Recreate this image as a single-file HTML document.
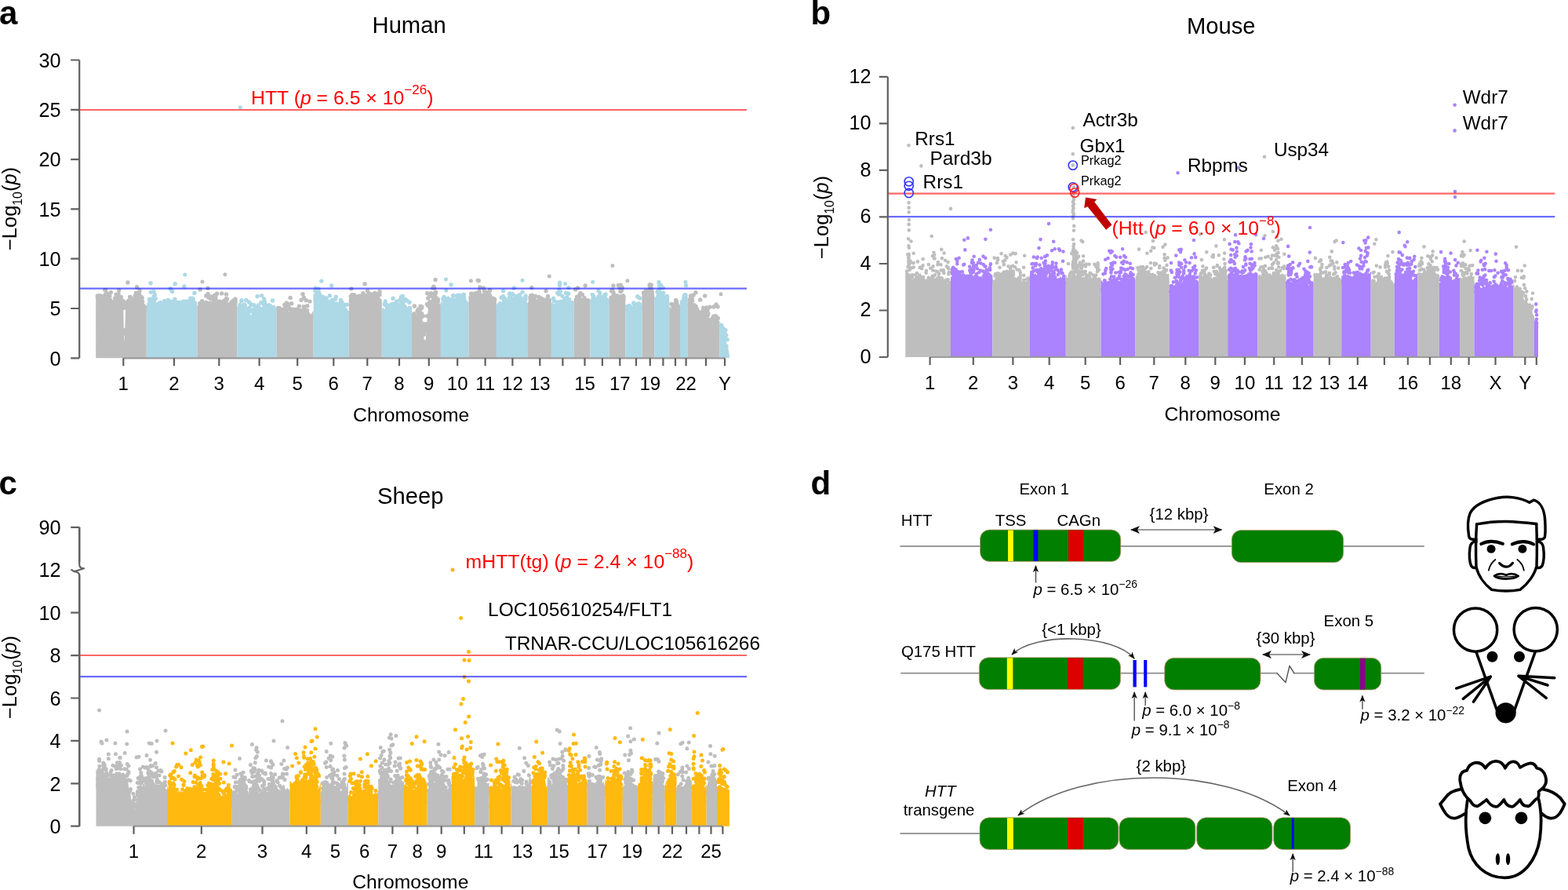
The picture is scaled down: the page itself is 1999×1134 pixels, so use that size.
<!DOCTYPE html><html><head><meta charset="utf-8"><style>html,body{margin:0;padding:0;background:#fff;}svg{display:block;}#w{width:1999px;height:1134px;overflow:hidden;}</style></head><body><div id="w"><svg width="1999" height="1134" viewBox="0 0 1999 1134" font-family="'Liberation Sans', Arial, Helvetica, sans-serif">
<rect width="1999" height="1134" fill="#fff"/>
<text x="-1" y="30.5" font-size="42" font-weight="bold">a</text>
<text x="1033.5" y="31" font-size="42" font-weight="bold">b</text>
<text x="-1.5" y="629.5" font-size="42" font-weight="bold">c</text>
<text x="1033.5" y="629.5" font-size="42" font-weight="bold">d</text>
<text x="521.6" y="42" font-size="29.2" text-anchor="middle">Human</text>
<text x="1556.7" y="42.5" font-size="29.2" text-anchor="middle">Mouse</text>
<text x="523.3" y="641.5" font-size="29.2" text-anchor="middle">Sheep</text>
<path fill="#bebebe" d="M122.2 456.3L122.2 378.3L123.2 378.8L124.2 381.3L125.2 377.7L126.2 377.7L127.2 378.9L128.2 379.1L129.2 380.8L130.2 381L131.2 378.5L132.2 379.8L133.2 378.9L134.2 378.7L135.2 379.9L136.2 379.1L137.2 380.2L138.2 379.6L139.2 381.7L140.2 381.6L141.2 382.3L142.2 381.8L143.2 382.6L144.2 383.4L145.2 380.7L146.2 380.9L147.2 381.6L148.2 382.1L149.2 383.6L150.2 384L151.2 383.8L152.2 384.7L153.2 382.5L154.2 384.6L155.2 383.8L156.2 386.4L157.2 393.3L158.2 436L159.2 422.3L160.2 387.8L161.2 384.7L162.2 386L163.2 383.7L164.2 385.9L165.2 387.2L166.2 385.1L167.2 384.5L168.2 386.4L169.2 387L170.2 386.2L171.2 383.9L172.2 384.6L173.2 386.9L174.2 386.2L175.2 386.7L176.2 386.9L177.2 384.7L178.2 388.2L179.2 388.2L180.2 390L181.2 392.1L182.2 390.6L183.2 392.9L184.2 390.9L185.2 392.6L186.2 391.3L186.8 391.9L186.8 391.9L186.8 456.3Z"/>
<path stroke="#bebebe" stroke-width="5.4" stroke-linecap="round" fill="none" d="M172.8 388.7h0M177.7 387.2h0M148.1 375.3h0M163 386.9h0M184 393.3h0M139.9 377.3h0M144.2 385.2h0M128.8 384.1h0M159.5 424.6h0M160.6 389.1h0M151.7 370h0M153.5 381.6h0M176.6 389.6h0M133.7 369.6h0M173.6 389.1h0M135.8 375.5h0M181 394.7h0M181.6 384.2h0M160.7 385.5h0M130.7 384.6h0M182.4 392.9h0M166.8 386.7h0M174 385h0M142.1 384.5h0M167.8 389.8h0M138.1 378.9h0M175.7 385.5h0M141.3 372.4h0M136.7 382.8h0M140.6 382.2h0M128 381.8h0M146.6 380h0M132.3 381.1h0M178 370.3h0M163.9 383.3h0M159.6 425.3h0M126.5 381.4h0M179.2 385.3h0M182.4 394.3h0M162.7 386.2h0M168.4 388h0M184.6 394.2h0M157.3 389.8h0M178.6 384.6h0M166.8 379.6h0M179.5 389.6h0M165.6 378.3h0M176.8 385.5h0M172 377.4h0M158.9 420.7h0M147.4 380.6h0M161.1 388.1h0M162.9 360h0M177.4 381.3h0M147.8 378.6h0M159.4 422.9h0M174.9 390h0M169.6 390.7h0M160.6 388h0M138.3 376.8h0M154.3 383.1h0M179.8 392.2h0M125.1 379.5h0M165.2 389.8h0M134.6 369.5h0M164.1 386.5h0M178.1 389.8h0M164.5 388.5h0M150.3 378.7h0M179.4 380.3h0M147.5 380.6h0M143.5 385.6h0M154.3 378.4h0M175.5 383.7h0M181.6 394.1h0M134.6 379.2h0M141 384.7h0M149.3 382h0M174.6 365.7h0M173.1 381.4h0M177.6 374.3h0M173.9 379.8h0M173.3 373.4h0M172.2 378.7h0M136.1 374h0M135.1 378.8h0M136.5 376.4h0M136.6 377.5h0M134.3 375.2h0M181.6 389h0M179.7 389.7h0M181.5 390h0M184.5 391h0M171 383h0M164.9 384.8h0M171 383.3h0M170.6 384.2h0M169.8 383.2h0M169.5 384.7h0M172.3 383.2h0M125.3 376.6h0M127.6 376.8h0M124.4 377.9h0M124.6 377.3h0M124.4 377h0M124.4 378.4h0M124.4 376.9h0M130.2 377.7h0M178.8 380.2h0M178.2 384.8h0M180.4 385.6h0M179.2 386.9h0M179.9 381.5h0M156.5 383.2h0M155.9 385.6h0M160.3 385.3h0M156.5 384.6h0M151 374.8h0M151.7 382.8h0M150.7 379.6h0M150.2 378.5h0M153.8 379.7h0M152.2 381.8h0M149 381.1h0M174.9 376.6h0M174.6 381.8h0M175.9 384.9h0M173.1 386.7h0M179.2 387.2h0M179.2 389.2h0M180.1 387.4h0M179.8 388.4h0M182 388.5h0M177.7 388.9h0M177.6 387.4h0M180.3 378.5h0M180.4 387.2h0M181.2 379.5h0M182.6 389.6h0M180.4 388.8h0M179.9 388.4h0M179.7 386.8h0M136.6 378.3h0M135.1 380.3h0M134.4 379.1h0M134.1 379.2h0M138.1 379.9h0M134.9 379.9h0M157 391.8h0M157.4 392.3h0M160 392.1h0M156.4 392h0"/>
<path fill="#add8e6" d="M186.8 456.3L186.8 388.1L187.8 390.2L188.8 388.4L189.8 385.2L190.8 382.9L191.8 381.5L192.8 384.3L193.8 382.9L194.8 382.1L195.8 383.3L196.8 382.8L197.8 384.8L198.8 385.4L199.8 385.6L200.8 387L201.8 386.4L202.8 387.9L203.8 388.8L204.8 390.8L205.8 390.6L206.8 390.4L207.8 387.8L208.8 387L209.8 387.1L210.8 390.2L211.8 390L212.8 386L213.8 386.9L214.8 384.9L215.8 385.9L216.8 385.1L217.8 385.2L218.8 386.1L219.8 386.3L220.8 389.4L221.8 387.5L222.8 387.2L223.8 389.8L224.8 389L225.8 388.2L226.8 389.8L227.8 390.8L228.8 391L229.8 389.3L230.8 390.1L231.8 385.4L232.8 384.4L233.8 383.8L234.8 382.8L235.8 383.9L236.8 385.3L237.8 385.3L238.8 386.4L239.8 385.2L240.8 386.1L241.8 388L242.8 385L243.8 384.9L244.8 384.1L245.8 383.5L246.8 384.8L247.8 383.3L248.8 384.3L249.8 386.2L250.8 387.2L251.4 388.1L251.4 388.1L251.4 456.3Z"/>
<path stroke="#add8e6" stroke-width="5.4" stroke-linecap="round" fill="none" d="M193.2 385.8h0M217.2 388.8h0M210.4 388.4h0M226.6 392.1h0M245.9 381.2h0M209.3 385h0M223.3 386.8h0M227.7 388h0M234.9 365h0M190.4 381.4h0M233.5 386h0M213.2 389.5h0M200.8 388.2h0M194.9 384.3h0M243.5 384.3h0M219.6 371.4h0M223.2 361.7h0M227.4 385.5h0M193.6 381.7h0M234.7 386.3h0M245 387h0M217.4 387.9h0M218.8 384.7h0M192.5 372.2h0M214.3 384.6h0M225 390.3h0M206.2 388.5h0M222.8 389.2h0M232.1 387.3h0M189.8 387.4h0M191.6 384.4h0M234.4 383.9h0M243 381.2h0M192 360.7h0M245.9 386.9h0M243.5 385.7h0M217.8 369.1h0M203.7 388.5h0M245.4 380.2h0M217.2 367.7h0M238.2 384h0M195.9 381.7h0M216.4 387.6h0M192.1 381.2h0M196.5 383.4h0M229.2 391.5h0M204.8 389.8h0M214.3 382.5h0M246.3 381.3h0M203.4 391.9h0M242.7 380.3h0M226.6 391.1h0M205.3 388h0M223 386.1h0M227.1 385.9h0M200.4 389.2h0M248 373.5h0M241.9 391.6h0M192.7 386.4h0M214.6 383.3h0M195.2 381.6h0M193.4 386.2h0M229.7 388.7h0M227 391h0M217.8 387.7h0M209.7 383.4h0M239.5 388.6h0M196.2 378h0M226.5 385.5h0M201.8 387.2h0M204.5 385.5h0M211.2 388.2h0M248.5 386h0M222 383.7h0M244.4 384.9h0M211.2 393.4h0M194.4 380.9h0M195.8 381.4h0M191.2 383.4h0M195.2 382.6h0M196.5 381.7h0M193.1 382.2h0M215.6 384.2h0M217.3 384.8h0M214.6 386.3h0M214.9 384.4h0M217.3 384.5h0M215.6 386.1h0M217.3 386.1h0M214.2 386.6h0M222.9 381.3h0M224 387.4h0M221.9 387.8h0M222.3 385.2h0M224.9 386.9h0M220.3 388h0M223.7 388.3h0M231.7 385.2h0M232.9 386.2h0M230 385.5h0M232.1 386.2h0M233 385.5h0M233.2 386.6h0M231.3 385.6h0M196 371.5h0M195.6 381.4h0M197.3 375.7h0M198.2 380.4h0"/>
<path fill="#bebebe" d="M251.4 456.3L251.4 390.6L252.4 388.8L253.4 387.4L254.4 389L255.4 389.1L256.4 388.3L257.4 387.4L258.4 387.5L259.4 388.3L260.4 388.7L261.4 389.4L262.4 388L263.4 390L264.4 387.7L265.4 386.8L266.4 386.8L267.4 384.5L268.4 385.2L269.4 383.7L270.4 385.3L271.4 386.2L272.4 384.8L273.4 386.7L274.4 386.9L275.4 389.7L276.4 386.6L277.4 388L278.4 388.2L279.4 388.1L280.4 385.2L281.4 384.4L282.4 385.3L283.4 386L284.4 386.7L285.4 390.3L286.4 387.6L287.4 387.9L288.4 388.1L289.4 388.2L290.4 390.2L291.4 391.2L292.4 390.8L293.4 389.1L294.4 390.4L295.4 388L296.4 389L297.4 384.7L298.4 384L299.4 386.1L300.4 383.8L301.4 384.3L302.3 384.7L302.3 384.7L302.3 456.3Z"/>
<path stroke="#bebebe" stroke-width="5.4" stroke-linecap="round" fill="none" d="M261.9 391.9h0M296.2 391.9h0M259.6 389.7h0M282.2 385h0M295 385.3h0M257.5 383.6h0M278.9 388.2h0M254.5 391.6h0M262.6 385.5h0M289.9 390.8h0M255.3 390h0M276.6 374.3h0M298.4 385.7h0M272.5 384.2h0M300 381.6h0M256.7 391.7h0M260.1 386.4h0M285 386.5h0M290.1 393.3h0M274.3 379.7h0M286.7 387.8h0M267.2 387.7h0M289.5 381.3h0M292.9 387.6h0M295.5 390.9h0M282.8 373.9h0M288.5 374.9h0M288.7 387.4h0M257.6 390h0M271.1 389.3h0M268 387.2h0M275.4 387.9h0M274.4 388h0M258.3 385.9h0M259.7 386.6h0M261.9 390.6h0M255.3 389.5h0M286.3 390.8h0M255.1 368.9h0M273.8 382.4h0M269.5 377.9h0M296.7 392h0M263.2 392.9h0M285.7 390.4h0M296.4 387.4h0M287.4 386.5h0M268.4 380.4h0M265 367.3h0M278.2 390.4h0M262.4 389.8h0M274.1 386.2h0M263.1 391.6h0M267.2 387.7h0M286.8 389.8h0M278.7 390.1h0M264.5 386.3h0M277.5 387.1h0M262.8 376.9h0M300 380.9h0M297.1 383.9h0M254.8 386.8h0M289.7 391.2h0M280 384.2h0M278.7 384.4h0M279.5 384.2h0M291.3 389.5h0M291.4 390.4h0M291.2 391.4h0M261.6 387.7h0M259.9 388.3h0M262.2 387.9h0M288.5 380.5h0M286.6 382.6h0M286.8 388h0M288.1 384.7h0M288.7 388.3h0M287.2 388.2h0M265.2 374.4h0M266.1 379.3h0M267.8 386.1h0M297.7 383h0M298.4 384.9h0M300.1 384.3h0M295.3 384.7h0M297 384.6h0M300.1 383.2h0M285.5 383.5h0M281.9 387.3h0M283.9 387.3h0M273.8 376.3h0M275 380.8h0M272.9 382.9h0M272.6 378.8h0M274.9 377.7h0"/>
<path fill="#add8e6" d="M302.3 456.3L302.3 393.1L303.3 392.5L304.3 394.3L305.3 393.4L306.3 393.2L307.3 394.5L308.3 392.6L309.3 393.8L310.3 395.6L311.3 396.7L312.3 395.9L313.3 398.1L314.3 395.5L315.3 396.9L316.3 397.9L317.3 399.2L318.3 398.2L319.3 401.4L320.3 401L321.3 399.6L322.3 398.4L323.3 396.6L324.3 396.6L325.3 393.4L326.3 394.7L327.3 394.6L328.3 394.6L329.3 395.8L330.3 396.4L331.3 397.6L332.3 395.4L333.3 395.3L334.3 394.8L335.3 397.2L336.3 394.5L337.3 394.9L338.3 397.3L339.3 396.1L340.3 393.7L341.3 393L342.3 395.9L343.3 393.1L344.3 392.7L345.3 393.3L346.3 393.4L347.3 394.7L348.3 392.1L349.3 392.1L350.3 393.3L351.3 394.6L352.3 392.5L352.5 392.5L352.5 456.3Z"/>
<path stroke="#add8e6" stroke-width="5.4" stroke-linecap="round" fill="none" d="M323.8 388.8h0M319.8 387.5h0M340.2 394.5h0M312.3 388.9h0M310 393h0M316.8 396h0M327.5 396.5h0M317 394h0M328.5 397.7h0M328.1 377.6h0M345.5 396h0M314.8 399.9h0M335.1 397.5h0M308 382.7h0M307.9 383.4h0M304.8 392.4h0M329.1 396.5h0M330.5 399.2h0M349.8 394.7h0M312.7 392.4h0M305.8 388.4h0M311.4 388h0M333 385.5h0M331.3 401.4h0M345.3 396.7h0M307.4 390.1h0M346.2 395.1h0M326.6 398.3h0M317.8 392.3h0M333.6 376.6h0M338.6 396.9h0M331.7 393.3h0M309.6 394.4h0M335.1 396.6h0M316.2 394.8h0M337.5 397.1h0M329.4 389h0M332.1 397.5h0M313.8 382.5h0M306.9 395.1h0M344.8 394.9h0M332.4 394h0M341.4 393h0M337.6 388.1h0M305.9 396.3h0M312.7 394.1h0M331 394.4h0M333 398.8h0M324 393.9h0M342 392.3h0M340.3 389.5h0M327.3 392.7h0M327.9 395.8h0M315.9 397.9h0M334.7 393.6h0M325.3 395.1h0M325.9 391.9h0M336.7 380.9h0M310.4 391.7h0M332 398.4h0M338.6 397h0M323.4 395.9h0M322.2 397.1h0M324.3 397.7h0M339.2 391.9h0M338.9 392.7h0M340.1 395.1h0M340.3 395.7h0M347.4 383h0M348.1 395.4h0M345.3 395.2h0M348.9 391.5h0M336.1 386.2h0M337.1 387.5h0M335.6 386.8h0M336.5 395.3h0M337.8 391.7h0M336.2 388h0M339.3 391.1h0M322.9 395h0M320.9 396.1h0M323.3 397.4h0M320.7 396.7h0M323.1 397.8h0M317.4 385h0M318.5 396.4h0M317.5 394.4h0M319.9 396.3h0M316.1 394.9h0M319.8 394.9h0M320.9 388.6h0M337.4 384.4h0M340.8 390.9h0M337.4 386.1h0M344.4 389.8h0M343.3 393.8h0M345.2 393.3h0M344 392.7h0M344.1 392.2h0M337.5 392.1h0M340 394h0M335.2 394.4h0M338.9 394.7h0M343 388.6h0M344.6 391.1h0M344.8 392.6h0M338.4 390.5h0M344.1 390.4h0M342.4 390.5h0"/>
<path fill="#bebebe" d="M352.5 456.3L352.5 393.4L353.5 394.2L354.5 394.8L355.5 394L356.5 393.9L357.5 395.2L358.5 393.4L359.5 395.3L360.5 396.8L361.5 397L362.5 397.9L363.5 399.8L364.5 398.5L365.5 397.8L366.5 397.8L367.5 396.5L368.5 398.4L369.5 396.4L370.5 396.3L371.5 397.8L372.5 397.2L373.5 399.5L374.5 398.9L375.5 399.3L376.5 400L377.5 400.4L378.5 400.2L379.5 400.4L380.5 398.6L381.5 396L382.5 397.1L383.5 398.3L384.5 396.8L385.5 398.7L386.5 397.7L387.5 397.2L388.5 395.9L389.5 398.3L390.5 398L391.5 397.2L392.5 398.5L393.5 399.5L394.5 399.7L395.5 400.3L396.5 399.8L397.5 399.8L398.5 397.1L399.5 396.4L399.7 396.4L399.7 456.3Z"/>
<path stroke="#bebebe" stroke-width="5.4" stroke-linecap="round" fill="none" d="M356.3 396.9h0M376.4 401.8h0M370.1 379.4h0M361.1 399.6h0M364.5 396h0M364.7 402.3h0M378 401.4h0M364.9 398.6h0M382.5 396.5h0M381.4 395.3h0M390.3 382.7h0M369 399.8h0M392.6 400.2h0M385.3 395.9h0M384.1 382.3h0M390 401.2h0M381.3 396.1h0M378.8 401.4h0M366.9 394h0M377.6 402.7h0M365.4 399.5h0M362.3 397.7h0M360.1 400.2h0M357.6 398.4h0M384.9 399.9h0M374 394.5h0M375.3 402.1h0M391.8 389.8h0M357 396.1h0M376.4 395.1h0M371.5 394.6h0M365.5 394.7h0M368.7 400h0M387.2 390.8h0M390.2 397.2h0M372.7 394.3h0M381.4 390.1h0M389 399h0M370.8 394h0M364.6 401.2h0M355.3 393h0M395 384.1h0M360.4 394.2h0M372.6 395.5h0M371.7 386.7h0M397 403.3h0M385.2 401.8h0M356.5 395.9h0M386 374.7h0M359.8 396.9h0M355.8 393.5h0M375.4 400.5h0M367.9 391.5h0M390.6 399.9h0M371.5 396.3h0M387.5 379.2h0M371.4 395h0M378 394.2h0M374.8 397.4h0M379.2 395h0M379.4 400.4h0M378.3 399h0M376.9 401.3h0M379.5 401.3h0M377.3 401h0M363.7 391.4h0M365.3 395.6h0M364 395.7h0M364.2 393h0M366.1 398.6h0M364.2 398.6h0M388.9 394.6h0M390.2 397h0M391.6 395.8h0M385.5 395.4h0M388.8 395.7h0M389.2 397h0M385.2 397h0M389.7 396.2h0M365.4 386h0M362.8 388.3h0M367.4 389h0M366.3 386.6h0M365.4 393.8h0M365.1 387.2h0M356.2 392.5h0M354.9 394.3h0M355.8 394.5h0M354.7 392.5h0M382.5 395.4h0M381 397.7h0M385.1 396.2h0M379.9 397.8h0M381.7 398.1h0"/>
<path fill="#add8e6" d="M399.7 456.3L399.7 378.6L400.7 381.7L401.7 379.4L402.7 382.6L403.7 381.8L404.7 385.6L405.7 385.5L406.7 384.5L407.7 386.2L408.7 385.3L409.7 383.3L410.7 382L411.7 384.5L412.7 385.4L413.7 385.3L414.7 383.5L415.7 387.3L416.7 385.9L417.7 387.4L418.7 386.8L419.7 388.9L420.7 387.9L421.7 387.5L422.7 388.1L423.7 389.4L424.7 390.1L425.7 390L426.7 391.7L427.7 389L428.7 389.6L429.7 390.8L430.7 390.1L431.7 390.9L432.7 390.7L433.7 390.9L434.7 389.3L435.7 389.5L436.7 390.6L437.7 393.9L438.7 393.4L439.7 395.8L440.7 396.7L441.7 397.5L442.7 396.2L443.7 398.6L444.7 396.6L444.8 396.6L444.8 456.3Z"/>
<path stroke="#add8e6" stroke-width="5.4" stroke-linecap="round" fill="none" d="M414.6 379.9h0M442.2 398.5h0M437.2 396.9h0M442.2 397.6h0M411.4 378.2h0M428.3 378.2h0M435.7 384.6h0M422.7 364h0M404.5 378.2h0M430.9 392.4h0M434.8 389.7h0M423.7 382.2h0M409.9 385.3h0M428.1 392.3h0M424.5 385.4h0M421.9 389.7h0M434.5 382.5h0M433.3 390.3h0M438.8 388.4h0M408.1 387.5h0M406 389.1h0M416 380h0M435.8 392.7h0M409.3 384.4h0M436.5 389.1h0M438.6 396.7h0M442.1 400h0M427.5 381.3h0M431.5 393.5h0M429.1 390.3h0M402.5 384.2h0M414.7 381.8h0M413.2 384h0M430.2 393.5h0M407.1 381.8h0M420.9 391h0M406.6 372.7h0M426.7 393.1h0M409.9 358.1h0M430.1 387.3h0M416.6 387.7h0M418.5 389.7h0M427.6 389.7h0M435.3 390.4h0M420.5 387.9h0M440.2 398.2h0M430.5 392.5h0M425.5 391.9h0M437.4 395.8h0M436.7 388.2h0M420.4 376.8h0M417.7 383.7h0M426.4 392.2h0M404.5 386.4h0M413.3 385.9h0M430 387.8h0M431.7 389.6h0M430.2 388.4h0M428.9 391.6h0M437.3 388.8h0M438.3 391.7h0M440.4 394.6h0M431.1 387.2h0M433.3 387.3h0M432.6 388.6h0M427.8 390.8h0M432.1 389.3h0M421.4 384.9h0M421.9 385h0M427 387.2h0M435.3 387h0M434.5 390.4h0M442.2 388.3h0M437.9 387.8h0M437.3 388.6h0M434.4 388.9h0M436.3 390.4h0M433.4 387.8h0M402.5 367.2h0M401.9 379.7h0M401.9 370.4h0M402.2 381.9h0M401.9 376.1h0M406.1 368.1h0M402.9 369h0M404.2 375h0M405.9 385h0M406.2 386.1h0M406 385.9h0M408.3 385h0M405 386.6h0M407.9 376.2h0M407.3 385.7h0M410 382.9h0M407.5 380.5h0M410.9 382.8h0M404.4 387.3h0M409.8 379.2h0"/>
<path fill="#bebebe" d="M444.8 456.3L444.8 380.4L445.8 380L446.8 381.3L447.8 379.2L448.8 382.3L449.8 382.4L450.8 382.1L451.8 381.1L452.8 380.8L453.8 382.1L454.8 382.2L455.8 380.5L456.8 382.4L457.8 382.7L458.8 380.8L459.8 382.2L460.8 381.5L461.8 381L462.8 380.7L463.8 380.8L464.8 379.5L465.8 378.2L466.8 378.6L467.8 374.6L468.8 377.2L469.8 375.6L470.8 376L471.8 377.1L472.8 378.4L473.8 379.3L474.8 378.5L475.8 378.6L476.8 377.6L477.8 378.2L478.8 375.9L479.8 376.6L480.8 378.3L481.8 377.2L482.8 376.2L483.8 381.3L484.8 380.6L485.8 380.3L486.8 383L486.8 383L486.8 456.3Z"/>
<path stroke="#bebebe" stroke-width="5.4" stroke-linecap="round" fill="none" d="M458.3 379.4h0M469.2 378.9h0M465.7 378.1h0M475.3 382.1h0M450.5 384.3h0M457.2 377.5h0M463 373.7h0M462.1 382.9h0M472.6 381.7h0M484 375.4h0M459.3 383.9h0M477.8 373.5h0M471.1 379.5h0M475.7 382.1h0M470.5 375.4h0M481.9 375.4h0M447.8 368h0M475.3 377.6h0M447.2 377.8h0M462.7 378.2h0M484 371.5h0M449.8 377.9h0M463.6 376.9h0M461.2 382h0M463.4 383.9h0M459 377.3h0M449.7 385.5h0M478.4 373.7h0M467.6 377.8h0M451.5 382.9h0M482.9 375.5h0M481.7 379.7h0M462.6 380.2h0M478.6 379h0M479.9 376.9h0M448.2 379.8h0M461.2 379.1h0M481.9 377.3h0M472.9 379.5h0M476.3 381.8h0M474.9 381.3h0M469 379.8h0M460 385h0M460.2 381.1h0M466.6 379.6h0M468.6 370.8h0M460.5 380.4h0M465.1 361.7h0M459.3 379.5h0M455.8 382.7h0M474.5 377.6h0M470.1 374.4h0M472.8 374.7h0M468.1 376.3h0M470.7 375h0M471.3 374.8h0M471 376.8h0M473.1 377.1h0M471 378.5h0M473.2 377.2h0M472.1 379h0M474.3 379.3h0M476.6 377.8h0M472.8 378.8h0M451.5 375.6h0M448.8 375.7h0M449.4 381.7h0M450.8 376.3h0M452.3 377.8h0M458 381.5h0M456.6 383.3h0M458.1 383.3h0M454.3 383.6h0M457.8 381.9h0M478.8 374h0M479.1 374.8h0M477.8 374.9h0M476.6 376.2h0M477.4 375.8h0M479.3 375.4h0M476.2 375.6h0M455.4 378.2h0M453.9 381h0M454.7 378.3h0M458.7 379.4h0M458.1 381.6h0"/>
<path fill="#add8e6" d="M486.8 456.3L486.8 394.3L487.8 392.5L488.8 391.5L489.8 393.5L490.8 393.7L491.8 394.6L492.8 395.8L493.8 397L494.8 394.1L495.8 393.8L496.8 390.9L497.8 390.3L498.8 389.3L499.8 390.8L500.8 389.8L501.8 392.2L502.8 393.2L503.8 395.7L504.8 394.5L505.8 393.9L506.8 391.5L507.8 392.1L508.8 392.7L509.8 391.2L510.8 390.8L511.8 389.9L512.8 390.1L513.8 391.4L514.8 393L515.8 394.3L516.8 395L517.8 394.3L518.8 397L519.8 394.1L520.8 392.6L521.8 391.4L522.8 391.3L523.8 391.6L524.8 391.3L525 391.3L525 456.3Z"/>
<path stroke="#add8e6" stroke-width="5.4" stroke-linecap="round" fill="none" d="M521.4 395h0M492.8 388.4h0M521.4 395h0M490.1 387.6h0M512.3 389.6h0M508.6 388.7h0M516.3 398.8h0M491.3 388.8h0M522 385.3h0M502.8 394.7h0M500.7 393.6h0M515 395.2h0M508.8 392.4h0M500.3 387.5h0M504.4 396.8h0M518.8 399.7h0M494.1 399.2h0M505.2 389.9h0M500.3 393.1h0M511.1 392.9h0M506.7 393.7h0M518.6 399.6h0M496.8 392.7h0M500.1 387.5h0M511.8 385.1h0M507.3 394.9h0M514.8 395.3h0M496.4 391.8h0M522.5 392.6h0M501 380.3h0M522.5 392.4h0M493.6 392.2h0M515.4 395.8h0M515.7 395.4h0M498.7 388.1h0M514.1 391.7h0M516.7 398.7h0M505.9 395.1h0M491.2 383.9h0M493.8 399.5h0M518.7 383h0M520.5 394.1h0M520.5 395.5h0M513.2 377.9h0M495.5 396.8h0M511.9 381.9h0M513.3 377.2h0M511.4 378.4h0M515.5 390.4h0M516.9 381.5h0M509.6 382.2h0M514.5 383.7h0M498.5 388.6h0M499.6 389.7h0M498.9 390.4h0M497.2 389.3h0M502.5 388.7h0M498.9 388.8h0M498 388.7h0M505.4 384.2h0M504.3 390.1h0M502.6 390.1h0M503.3 393.1h0M510 394.9h0M503.7 386.8h0M504.9 393.4h0M495.2 389.8h0M495.5 390h0M497 390h0M495.5 392h0M517.3 393.1h0M514.8 394.8h0M517.7 394.7h0M519.1 394.6h0M515.7 394.3h0M515.7 393.4h0M517.7 395h0M520.6 393.4h0M494.8 393.6h0M493.5 394h0M496.3 394.4h0M494.2 394.6h0M494.3 394.2h0M513.9 385.5h0M512.4 390h0M516.1 390.8h0M514 388.6h0M512.6 392.1h0M512.5 389.1h0M511.4 385.7h0M514.2 390.7h0"/>
<path fill="#bebebe" d="M525 456.3L525 398.5L526 398.6L527 398.3L528 397.1L529 399.2L530 399.4L531 400L532 397.1L533 397.1L534 396L535 394.9L536 393.5L537 390.4L538 401.6L539 412.7L540 425L541 438.2L542 438.5L543 427.6L544 415.2L545 402.6L546 391.9L547 388L548 388.8L549 388.3L550 385.4L551 388.5L552 386.4L553 386.8L554 384.8L555 385.1L556 383.9L557 384.3L558 386L559 388.9L560 387L561 389.1L561.9 385.1L561.9 385.1L561.9 456.3Z"/>
<path stroke="#bebebe" stroke-width="5.4" stroke-linecap="round" fill="none" d="M533.2 394.3h0M551.8 367.1h0M547.4 391.1h0M550.8 392h0M555.4 380.9h0M552.7 379.2h0M545.7 379.9h0M548 388.9h0M539.7 426.4h0M527.9 400h0M553.1 389.1h0M548.4 384.4h0M549.8 385.2h0M537.5 392.5h0M533.3 395.1h0M549.5 373.6h0M537.9 391h0M556.8 386.2h0M558.1 384.5h0M558.5 381.6h0M538 403.6h0M544.2 415.3h0M528.4 390h0M544.6 402.8h0M551.4 390.8h0M533.7 395h0M535 396.5h0M529.5 402.7h0M538.7 412.4h0M558 384.2h0M540.7 439.1h0M534.8 395.2h0M558.4 389.1h0M541.3 435.6h0M552 385.7h0M548 377.3h0M556.5 386.5h0M544.8 373.8h0M544.4 417.9h0M552.1 389.9h0M532.1 396.5h0M536.1 390.3h0M550.8 390.2h0M552.1 384.5h0M550.1 385.9h0M542.7 412.7h0M542.5 421.4h0M542.6 418.9h0M555.1 356.5h0M552.4 374.3h0M553.7 367h0M554 385h0M552.8 365.2h0M555.5 372.2h0M540 425h0M540.5 426h0M540.1 425h0M555.2 373.2h0M558.2 384.8h0M554.8 374.9h0M556.4 379.7h0M553.7 374.7h0M556.2 383h0M555.9 380.5h0M552.5 381.5h0M537.6 399.5h0M539.4 402.6h0M535.8 400.4h0M536 400.7h0M536 400.6h0M534.4 399.7h0M546.7 386.3h0M546.6 387.9h0M547.1 387.5h0M548.2 389h0M544.3 387.6h0M545.2 388.1h0M547.6 388h0M545.3 389h0M539.7 416.8h0M540.9 417.6h0M539.6 425.7h0M536.8 418.3h0M538 422.6h0"/>
<path fill="#add8e6" d="M561.9 456.3L561.9 384.5L562.9 382.8L563.9 385.9L564.9 383.2L565.9 384.7L566.9 383L567.9 382.1L568.9 384.6L569.9 383.4L570.9 383.5L571.9 383.5L572.9 384.7L573.9 382.9L574.9 381.9L575.9 382.8L576.9 384.3L577.9 382.3L578.9 383.8L579.9 384.9L580.9 383.2L581.9 384L582.9 384.1L583.9 382.6L584.9 384.4L585.9 383.1L586.9 385.5L587.9 384.5L588.9 387.7L589.9 387.4L590.9 386.4L591.9 386.6L592.9 385.8L593.9 386.9L594.9 386.4L595.9 385.3L596.9 384L597.5 385.7L597.5 385.7L597.5 456.3Z"/>
<path stroke="#add8e6" stroke-width="5.4" stroke-linecap="round" fill="none" d="M568.7 386.4h0M591.3 375.3h0M571.9 386.3h0M567.8 385.4h0M588.9 384.1h0M572.3 383.6h0M585.8 386.7h0M589.6 380.4h0M570.7 380.6h0M585.9 384.6h0M591.5 389h0M578.9 385.6h0M577.9 376.9h0M581.9 382.6h0M594.9 388.8h0M571 382h0M568.8 370.1h0M574.7 382.5h0M577.6 376.5h0M592.7 383.4h0M569.4 384.8h0M586.1 385.5h0M591.6 379.1h0M571.2 384.8h0M571.2 380.3h0M565.6 382h0M566.1 378.4h0M581 382.2h0M567.1 386.5h0M575.1 362.7h0M582.8 377h0M566.1 387.9h0M564.8 380.4h0M569.6 385.5h0M584.9 381.7h0M574.2 383.3h0M573.1 384h0M575.2 383.3h0M571.9 385.4h0M572.2 387.2h0M573.8 381.8h0M572.5 387.8h0M590.5 386.7h0M591.4 381.7h0M592 383.4h0M589.5 386.2h0M592.1 386.1h0M589.8 385h0M585.8 382.9h0M588.5 382.6h0M576.4 381.8h0M575.4 384.8h0M575.4 382.3h0M589.9 384.2h0M586.9 388.3h0M593 386.5h0M590.2 385.8h0M592.2 384.8h0M590.1 386.3h0M590.7 387.2h0M587.8 388.5h0M593.4 386.1h0M594.5 388.1h0M594.5 386.8h0M567.9 380.9h0M569.4 381.9h0M567.4 381.6h0M567.8 383.2h0M567.9 382.1h0M566.6 381h0M584.3 376.3h0M586.5 383.8h0M583.1 378.4h0M586.5 382h0M583.2 381.5h0M586 379.9h0M587.7 376.5h0"/>
<path fill="#bebebe" d="M597.5 456.3L597.5 377.5L598.5 377.1L599.5 377.7L600.5 379.3L601.5 380.1L602.5 380.6L603.5 378L604.5 377.3L605.5 379.3L606.5 377L607.5 377.7L608.5 378.6L609.5 377.6L610.5 378.5L611.5 377.8L612.5 380.5L613.5 378.7L614.5 380.1L615.5 380.5L616.5 380.8L617.5 380.1L618.5 378.2L619.5 379.2L620.5 376.9L621.5 377.9L622.5 379.9L623.5 377.7L624.5 377.4L625.5 377L626.5 375.8L627.5 378.1L628.5 379.4L629.5 378.2L630.5 378L631.5 380.2L632.5 380L632.9 380L632.9 456.3Z"/>
<path stroke="#bebebe" stroke-width="5.4" stroke-linecap="round" fill="none" d="M618.6 377.5h0M611.8 365.9h0M619.6 377.8h0M606 380.7h0M620.1 375h0M619.1 379.7h0M614.7 383.7h0M616.5 366.9h0M603.7 379.1h0M606.7 377.6h0M611.3 380.7h0M611 370.9h0M610.6 382h0M608.3 377.1h0M627.5 380.4h0M619.8 382.1h0M621.8 380.9h0M610.3 357.8h0M624.6 376.2h0M606.8 379.7h0M613.7 379.3h0M602 379.9h0M601.9 374.3h0M624.2 378.3h0M611.4 374.1h0M602.7 384.3h0M609.2 357.2h0M600.6 374.1h0M628.7 380.2h0M624.2 370.7h0M608.7 380.5h0M620.3 379.8h0M624.5 369.5h0M628.4 382.6h0M619.9 381.3h0M608.9 380.9h0M630.6 381.2h0M622.4 378h0M619.2 372h0M610.3 380.7h0M617 383.9h0M612.6 378h0M618 375.8h0M617.5 371h0M620.9 374.6h0M617.5 371.4h0M618.6 375.5h0M618.9 380h0M609.9 375.7h0M609.6 376.1h0M612.5 378.7h0M610.7 376.9h0M611.6 376h0M613.6 379.1h0M611.7 378.1h0M611.6 378.3h0M614.2 378.9h0M611.5 376.9h0M611.8 376.9h0M613.7 376.4h0M609.6 373.2h0M607.2 373.7h0M609 375.1h0M610.5 375.4h0M609.3 375h0M606.5 375.8h0M606 374h0M607.7 374.1h0M606.8 378.1h0M606.3 376.3h0M607.3 375.9h0M603.6 375.6h0M601.2 377.5h0M605.5 376.1h0"/>
<path fill="#add8e6" d="M632.9 456.3L632.9 388.3L633.9 387.4L634.9 388.6L635.9 389L636.9 386.8L637.9 387.3L638.9 386.8L639.9 387.5L640.9 387.3L641.9 388.6L642.9 388.2L643.9 387L644.9 388.6L645.9 386.6L646.9 388.6L647.9 387.1L648.9 384.9L649.9 384.8L650.9 384.4L651.9 385.3L652.9 381.8L653.9 382.4L654.9 384.6L655.9 382.3L656.9 383L657.9 383.5L658.9 380.8L659.9 381.7L660.9 380.7L661.9 381.6L662.9 380.9L663.9 384.1L664.9 384.8L665.9 383.5L666.9 385.2L667.9 384.3L668.9 384.6L669.9 386.4L670.9 385.6L671.9 386.8L672.9 385.8L673 385.8L673 456.3Z"/>
<path stroke="#add8e6" stroke-width="5.4" stroke-linecap="round" fill="none" d="M646.2 387.7h0M667.7 380.9h0M635.2 391.4h0M640.2 390.3h0M639.1 379h0M661.3 379.9h0M640.6 388.9h0M641.6 370.6h0M645.1 392.1h0M660.3 382.5h0M637.8 386.7h0M669.9 388h0M649.4 374.6h0M662.4 375.7h0M667.6 387h0M652.8 383.6h0M650 380.4h0M669.3 385.5h0M640.7 387.8h0M641.5 392.1h0M650 373.9h0M669.9 380.9h0M643.6 380.6h0M653.5 381.9h0M645.2 391.3h0M653.6 374.8h0M656.3 384.5h0M643.8 384.6h0M666.1 372.1h0M643.1 391.7h0M653.3 384.2h0M643.8 387.8h0M665.3 384.9h0M642.2 392h0M643.1 386.9h0M643.9 390.3h0M653.1 381.6h0M670 380.5h0M663.4 379.5h0M650.5 386.7h0M670.1 376.9h0M663 384h0M644 387.4h0M655.1 386.7h0M659.7 384.6h0M645.4 386.1h0M636.7 387.9h0M655.4 367h0M641.6 377.8h0M643 385.3h0M642.4 382.2h0M642.3 379.1h0M642.8 380.7h0M642.3 387.2h0M642.8 384.2h0M657.8 377.5h0M656.6 381.1h0M659.6 384.1h0M657.9 379.3h0M656.5 381.3h0M657.2 378.2h0M656.7 380.8h0M659.5 383.7h0M659.5 380.9h0M657.8 381.8h0M657.6 383.3h0M659.5 378.8h0M657.1 378.5h0M661.9 379.1h0M662.9 382.4h0M663.1 380.9h0M664.2 380h0M659.5 379.5h0M659.3 380h0M651 377.9h0M648.9 385.3h0M653.5 383.3h0M654.9 382.2h0M648.8 383.5h0M651.5 379.6h0M649.3 379.4h0M654.1 385.6h0M644.9 383.5h0M644.9 387.8h0M643.7 385.7h0M644.4 389.5h0M645.1 386.9h0M642.6 386.2h0M644.2 386.4h0"/>
<path fill="#bebebe" d="M673 456.3L673 385.7L674 384.4L675 383.1L676 383.7L677 382.5L678 381.6L679 382.4L680 382.6L681 381.8L682 386.3L683 388L684 385.9L685 386L686 388.9L687 387.5L688 384.6L689 385L690 385.1L691 382.5L692 386.1L693 383.3L694 383.2L695 384.4L696 382.7L697 383L698 382.7L699 384L700 386.3L701 385.2L702 385.3L702.9 384L702.9 384L702.9 456.3Z"/>
<path stroke="#bebebe" stroke-width="5.4" stroke-linecap="round" fill="none" d="M692.3 388.5h0M684.1 389.2h0M680.9 384.9h0M695.2 387.8h0M692.7 381.8h0M683.8 388.5h0M683.9 386.4h0M694.7 387h0M696.1 370.8h0M680.3 383.8h0M687.2 390.8h0M696.7 386.6h0M687.7 387.9h0M677.8 366.4h0M699 387.4h0M682.8 389.5h0M688.7 388.2h0M696.9 384.6h0M698.9 386.4h0M686.9 378.5h0M677.1 381.4h0M683.3 391.3h0M685.8 383.6h0M676.1 385.6h0M698.5 377.5h0M685.4 389.4h0M697 383.9h0M685.7 389.8h0M690.4 385.7h0M687.9 380.2h0M683 390.1h0M682.6 377.5h0M688.9 386.2h0M686.8 391.1h0M690 380.1h0M677.6 380.1h0M675.9 378.9h0M676.2 382.1h0M676.2 384.9h0M677.1 382.3h0M678.2 376.1h0M677 378.5h0M679.6 381.1h0M679.2 380.2h0M680.9 377.5h0M677.6 381.9h0M676.8 376.8h0M696.2 382.1h0M700.5 382.4h0M697.2 382.9h0M697.5 381.3h0M695.5 383.2h0M698.5 382.6h0M697.1 383.8h0M694.2 383h0M691.9 383.8h0M691.7 384h0M695.6 383.4h0M693.1 383.3h0M696 383.8h0M693.7 383.1h0M691.8 384.4h0M679.9 381.2h0M678.4 381.3h0M681.3 383.1h0M681.3 382h0M681.1 382.8h0M680.9 382.6h0M686.4 387.2h0M689.9 387.7h0M684.7 389.5h0"/>
<path fill="#add8e6" d="M702.9 456.3L702.9 386.7L703.9 384.7L704.9 384.4L705.9 387.5L706.9 386.8L707.9 386.8L708.9 384.8L709.9 384.5L710.9 387.3L711.9 388.3L712.9 385.5L713.9 385.9L714.9 387L715.9 387.6L716.9 385.6L717.9 384.4L718.9 384.2L719.9 384.2L720.9 382.8L721.9 382.7L722.9 384.9L723.9 385L724.9 388.1L725.9 385.9L726.9 389.2L727.9 389.3L728.9 386.9L729.9 387.5L730.9 388.1L731.5 388.9L731.5 388.9L731.5 456.3Z"/>
<path stroke="#add8e6" stroke-width="5.4" stroke-linecap="round" fill="none" d="M718.8 387.5h0M722.8 378.8h0M725.4 391.7h0M706.6 383.4h0M716.9 377.1h0M729.1 387.5h0M721.4 380.5h0M721.9 384h0M720.6 386.3h0M726.9 385.9h0M724.5 388.5h0M710.1 385h0M721.6 382.1h0M707.7 390.6h0M714.7 389.2h0M710.6 389.7h0M715.2 384.3h0M727.2 386.8h0M705.6 380.1h0M719.8 380.7h0M720 385.6h0M713.3 388.9h0M721.2 386.3h0M721.6 373.2h0M721.3 381.5h0M724.7 374.2h0M724.8 366.6h0M716.2 391.3h0M720 382.4h0M726 384.5h0M713.9 389.6h0M725.2 386.5h0M728.9 385.8h0M725.7 381.6h0M713.7 360.2h0M713.5 363.6h0M714.4 371.6h0M713.6 384.7h0M710.8 373.4h0M713.4 370.4h0M721.5 381.3h0M721.9 383.4h0M723 381.6h0M721.6 383.2h0M719.3 383.3h0M724.5 383h0M724.7 383h0M725.6 387h0M725.7 387.2h0M724.5 384.1h0M725.3 386h0M722 388.7h0M722.3 386.6h0M712.9 369.1h0M714.6 385.6h0M712.6 375h0"/>
<path fill="#bebebe" d="M731.5 456.3L731.5 383.2L732.5 382.9L733.5 383.3L734.5 383.3L735.5 385.9L736.5 383.8L737.5 386.6L738.5 384.7L739.5 386.5L740.5 386.2L741.5 382.8L742.5 385.8L743.5 383.5L744.5 384.1L745.5 385.7L746.5 382.1L747.5 384.3L748.5 380.8L749.5 380.8L750.5 382.2L751.5 382.8L752.5 384.9L752.5 384.9L752.5 456.3Z"/>
<path stroke="#bebebe" stroke-width="5.4" stroke-linecap="round" fill="none" d="M742.4 375.4h0M745 387.2h0M745.7 382.8h0M739.2 382.1h0M743.3 384.4h0M742.4 387.9h0M738.5 376.4h0M739.5 382.1h0M739.8 389.1h0M733.7 368.9h0M746.2 363.9h0M743.5 387h0M736.4 387.3h0M743.9 382h0M749.6 382.7h0M737.6 389h0M736.1 387.4h0M741.9 383.6h0M739.8 373.7h0M738.9 378.8h0M742.5 389h0M734.2 381.9h0M748.2 384.3h0M745.4 388h0M745.1 379.6h0M736.6 366.9h0M738.6 384.1h0M735.6 378.3h0"/>
<path fill="#add8e6" d="M752.5 456.3L752.5 380.8L753.5 382.9L754.5 380.7L755.5 382.8L756.5 382.2L757.5 380.6L758.5 383.6L759.5 381.8L760.5 382.6L761.5 383L762.5 383.1L763.5 384.9L764.5 387L765.5 386.8L766.5 385.1L767.5 385.1L768.5 383.3L769.5 384.4L770.5 381.9L771.5 383.2L772.5 385.3L773.5 385.9L774.5 383.6L775.5 384.6L776.5 384.8L776.7 384.8L776.7 456.3Z"/>
<path stroke="#add8e6" stroke-width="5.4" stroke-linecap="round" fill="none" d="M758.1 380.2h0M773.3 388.4h0M754.8 383.7h0M756.4 377h0M766.7 385.4h0M757 380.3h0M757.4 383.6h0M766.5 383.3h0M770.6 376h0M757.4 382.4h0M757.5 380.7h0M755.3 375.5h0M768.2 378h0M764.4 377.4h0M771.2 377.3h0M770.7 384.3h0M761.5 386.5h0M769.8 384.7h0M774.2 385.6h0M763.2 377.6h0M773.9 381.9h0M772.2 374.9h0M760.1 381.2h0M756 380.4h0M773.6 385.8h0M757.6 379.8h0M756 383.2h0M756.3 383h0M770.9 378.3h0M770 380.6h0M771.2 381.3h0M767.6 382.8h0M767.4 382.9h0M769.9 382.9h0M770.7 382h0M768 378.5h0M768.3 381.8h0M766.4 386h0M766 384.8h0M764.8 378.9h0M769.4 381.7h0M768 382h0M762.9 370.8h0M763.4 378h0M763.3 383.1h0M764.7 373.1h0M762.7 380.6h0M761.5 382.1h0M762.1 381h0M762.7 382.1h0M761.3 383.3h0M771.5 380.1h0M769 381.9h0M774.5 383.3h0M770.6 384h0M770.3 384.3h0M770.5 384h0M770.7 381.1h0"/>
<path fill="#bebebe" d="M776.7 456.3L776.7 380.5L777.7 379.6L778.7 380.2L779.7 377.8L780.7 377.9L781.7 377.2L782.7 377.8L783.7 377.9L784.7 377.8L785.7 379.9L786.7 379.3L787.7 379.1L788.7 380L789.7 381.8L790.7 382.4L791.7 381L792.7 380.5L793.7 378.8L794.7 379.9L795.7 379.7L796.7 378.6L797.3 377.7L797.3 377.7L797.3 456.3Z"/>
<path stroke="#bebebe" stroke-width="5.4" stroke-linecap="round" fill="none" d="M787.9 381.5h0M780.9 378.5h0M793.3 366.5h0M783.6 377h0M787.3 379.6h0M781.8 372.4h0M780.3 380.3h0M783.4 380.4h0M782 380.5h0M787.4 381.9h0M789.3 380.5h0M789 380.2h0M788.8 381.8h0M786.4 376.7h0M782.4 374.3h0M788.4 363.5h0M788.9 379.4h0M791.3 382.9h0M784.9 378.5h0M790.8 379.2h0M781.9 364h0M794.8 380h0M795 378.4h0M785.1 381.1h0M779.2 379.1h0M790.3 380.4h0M792.4 381h0M790.2 381.5h0M788.1 382.8h0M793 380.9h0M789.8 382.1h0M790.5 378h0M790.3 380.8h0M789.8 378.6h0M791.3 382.7h0M790.2 380.7h0M789.4 378h0M780.7 369.8h0M779.6 370.7h0M780.4 378.4h0M791.3 363.2h0M790.3 367.3h0M792.4 370.5h0M794.6 382.2h0M791 371.5h0M794.4 376.8h0M791 381h0M793.4 378.3h0M792.9 380.5h0M794.5 380.2h0"/>
<path fill="#add8e6" d="M797.3 456.3L797.3 392L798.3 389.3L799.3 391.4L800.3 392.8L801.3 393.8L802.3 392.5L803.3 393.7L804.3 392.6L805.3 393.7L806.3 390.8L807.3 392.4L808.3 389.6L809.3 391.1L810.3 391.3L811.3 390.8L812.3 391.3L813.3 391.5L814.3 391.6L815.3 390.2L816.3 390.8L817.3 392.8L818.3 388.9L818.4 388.9L818.4 456.3Z"/>
<path stroke="#add8e6" stroke-width="5.4" stroke-linecap="round" fill="none" d="M813.2 393.5h0M800 395.6h0M807.8 386h0M799.8 395.7h0M799.7 394.9h0M804.8 392.7h0M815.7 388.3h0M813.8 390.4h0M814.7 389.3h0M803.5 395h0M807.5 395.6h0M814.9 390.4h0M802.8 393.8h0M812.9 393.5h0M809.3 394.3h0M803.5 396.4h0M807.9 387h0M803.3 391.1h0M809.3 387.2h0M816.1 392.4h0M816.1 391.3h0M808 392.3h0M800.9 391.9h0M801.2 397.4h0M800.9 393.3h0M802.3 389.4h0M800.9 391.4h0M801 390.7h0M804 392.7h0M799.6 390.4h0M803.1 391.5h0M802.9 392.9h0M812.8 377.7h0M812.8 378h0M813.1 388.8h0M810.2 387.8h0M814.5 386.6h0M815.9 380.1h0"/>
<path fill="#bebebe" d="M818.4 456.3L818.4 370.4L819.4 373.9L820.4 373.5L821.4 373.6L822.4 373.7L823.4 375.1L824.4 375.5L825.4 375.7L826.4 373.7L827.4 373.6L828.4 372.2L829.4 370.8L830.4 371.8L831.4 371.4L832.4 373.8L833.4 373.5L834.2 373.3L834.2 373.3L834.2 456.3Z"/>
<path stroke="#bebebe" stroke-width="5.4" stroke-linecap="round" fill="none" d="M830.2 368h0M822.2 373.1h0M824 372.1h0M829.3 370.9h0M822.5 373.2h0M825.9 374.2h0M820.8 373.4h0M829.8 371.2h0M820.8 372.6h0M822.7 373.5h0M823.1 370.8h0M823.9 370.4h0M826.2 374.5h0M827.9 372.6h0M826.1 374.1h0M830.1 373.1h0M822.9 377.1h0M830.4 363.2h0M830.9 371h0M824.1 373.1h0M825.5 374.7h0M822.6 375.9h0M822.9 375.6h0M828.3 362.8h0M826.3 372.7h0M828.8 367.3h0M828.6 367.6h0M828.1 364h0M828.1 371.6h0M826.8 372.6h0M831.3 372.4h0M826.4 373.4h0M827.9 372.9h0"/>
<path fill="#add8e6" d="M834.2 456.3L834.2 376.9L835.2 378.6L836.2 378.9L837.2 374.7L838.2 377L839.2 375.4L840.2 372.7L841.2 374.2L842.2 374.8L843.2 376.2L844.2 380.2L845.2 380.1L846.2 382.1L847.2 380.6L848.2 379.1L849.2 376.5L850.2 377.1L851.2 374.5L852.2 376.1L853.2 375.6L853.2 375.6L853.2 456.3Z"/>
<path stroke="#add8e6" stroke-width="5.4" stroke-linecap="round" fill="none" d="M845 377h0M842.5 363.4h0M846.9 379.8h0M849.2 379.2h0M840.7 372.1h0M845.2 366.8h0M846.3 385.6h0M850.2 377.4h0M839.4 371.3h0M845.6 373.3h0M844.4 382.4h0M843.3 376.6h0M841.5 373.2h0M838.6 379.1h0M838.1 380.6h0M844.1 376.6h0M842.3 365.8h0M845.3 378h0M840.6 363.9h0M841.5 367.7h0M840 359.8h0M846.4 384.8h0M847.1 383.5h0M838.2 371.1h0M838.1 371.7h0M839.3 376.8h0M839.8 376.3h0M839.5 375.5h0"/>
<path fill="#bebebe" d="M853.2 456.3L853.2 391.3L854.2 390.2L855.2 393.4L856.2 391L857.2 393.9L858.2 394L859.2 390.8L860.2 393.2L861.2 391.9L862.2 394L863.2 392.4L864.2 391.8L865.2 393.8L866.2 392.4L867 390.3L867 390.3L867 456.3Z"/>
<path stroke="#bebebe" stroke-width="5.4" stroke-linecap="round" fill="none" d="M856 387.4h0M861.6 382.4h0M863.1 390.7h0M862.7 386.7h0M862.1 387.5h0M861.2 390.2h0M858.9 393.2h0M859.3 388.1h0M858.9 388.4h0M862.5 384h0M861.7 383.7h0M860 392.8h0M861.8 396.8h0M859.5 390.7h0M861.9 395.7h0M858.1 391.4h0M864 389.2h0M863 392.8h0M863.7 389.5h0M864.8 391h0M860.7 390.3h0M862.3 392.4h0M862.8 390.6h0M859.6 387.8h0M862 388.7h0M859.7 390.4h0"/>
<path fill="#add8e6" d="M867 456.3L867 383.5L868 382L869 382.6L870 380.3L871 381.3L872 378L873 381.4L874 378.8L875 379.1L876 381L876.9 380.9L876.9 380.9L876.9 456.3Z"/>
<path stroke="#add8e6" stroke-width="5.4" stroke-linecap="round" fill="none" d="M874.2 379.3h0M872.9 375.7h0M871.9 380.4h0M873.8 375.9h0M873.3 379.8h0M874.6 363.7h0M873.4 383h0M872 377.9h0M873.3 382.6h0M873.4 381.9h0M873 384.2h0M874.1 375.9h0"/>
<path fill="#bebebe" d="M876.9 456.3L876.9 384.3L877.9 385.4L878.9 387.3L879.9 385.9L880.9 388.3L881.9 390.3L882.9 388.1L883.9 391.6L884.9 392.8L885.9 393.4L886.9 394.8L887.9 394.7L888.9 397.7L889.9 396.2L890.9 400.3L891.9 400.8L892.9 399.9L893.9 401.1L894.9 400.9L895.9 404L896.9 403.5L897.9 401L898.9 398.4L899.9 398.9L900.9 398.6L901.9 399L902.9 402.9L903.9 405.4L904.9 404.8L905.9 408.6L906.9 409.1L907.9 408.9L908.9 409.7L909.9 406.8L910.9 408.2L911.9 405.8L912.9 405.2L913.9 407L914.9 408.8L915.9 410L916.9 412.3L917.5 414.5L917.5 414.5L917.5 456.3Z"/>
<path stroke="#bebebe" stroke-width="5.4" stroke-linecap="round" fill="none" d="M888.4 393.4h0M910.4 407.9h0M908.2 410h0M896.5 397.5h0M913 387.9h0M909.6 403.2h0M892.7 402.3h0M895 403.7h0M895.6 407.3h0M888.4 400.7h0M908.6 408.8h0M906.2 407.8h0M909.8 407.3h0M896 407.7h0M894 403.8h0M914.5 410.4h0M895 403.8h0M895 400.9h0M910.6 403.9h0M889.9 396.6h0M912.7 403h0M913.2 404.9h0M887 372.7h0M904.8 391.3h0M910 391h0M912.2 407.7h0M882.1 378h0M912.6 402.9h0M912.8 408.2h0M909.5 404.8h0M913.7 410.7h0M896.4 396.9h0M901.9 400.3h0M894.9 403.3h0M902.5 401.5h0M898.7 376.9h0M896.8 404.1h0M882.2 393.4h0M899.2 397.6h0M888.6 397.9h0M915 390.7h0M886.1 394h0M892.7 381.9h0M913.1 405.1h0M892.7 398.2h0M901.3 394.4h0M890 397.9h0M879.3 388.7h0M884.1 375.9h0M911.9 402.8h0M912.1 403.5h0M909.7 405h0M908.1 406h0M915.3 405.5h0M910.9 405.2h0M890.4 399.2h0M892.5 400.5h0M891.1 400.5h0M890.3 400h0M880.5 377h0M882.5 381.7h0M881.9 380.3h0M879.4 381.7h0M880.7 379.9h0M887.2 394.7h0M885.2 395.5h0M885.8 395.5h0M886.7 395.5h0M887.9 393.3h0M885.5 394.9h0M887.3 394.1h0M888.7 394.9h0M900.8 392h0M902.9 399.4h0M902 395.3h0M884.7 388.6h0M885.6 391.3h0M885.1 391.1h0M885.2 392.4h0M887 390.2h0M881.4 383h0M882.6 383.3h0M882.9 391.3h0M880.3 385.6h0M879.9 383.4h0M880.7 386.3h0M896.6 392.2h0M895.7 396.7h0M897.4 397.2h0M897.6 401.8h0M899.3 393.9h0"/>
<path fill="#add8e6" d="M917.5 456.3L917.5 408L918.5 411L919.5 413.9L920.5 417.2L921.5 421.4L922.5 424.3L923.5 428L924.5 431.5L925.5 433.5L926.5 439.6L927.5 440.8L928.5 444.5L929.5 451L930 451L930 456.3Z"/>
<path stroke="#add8e6" stroke-width="5.4" stroke-linecap="round" fill="none" d="M919.7 415.1h0M922.6 426.1h0M920.2 419.5h0M919.8 414.5h0M923.6 430.3h0M927.2 432.7h0M923.7 422.9h0M922.6 420.5h0M926 441h0M921 417.5h0M921.5 420.2h0M921.2 420h0M920.5 422h0M919.7 422.6h0M923.6 419.9h0M925 420.6h0M921.9 424.3h0M924 427h0M925.8 427.2h0M924.5 425.8h0M922 427.6h0M923.6 421.8h0"/>
<path stroke="#add8e6" stroke-width="5" stroke-linecap="round" d="M306.3 136.7h0M235.8 350h0M568.4 356h0M666 357.2h0M755.7 359.3h0M874 359.3h0M720.6 361.4h0"/>
<path stroke="#bebebe" stroke-width="5" stroke-linecap="round" d="M286.9 349.7h0M600.4 357.8h0M700.3 352h0M780.9 338.5h0M799.9 357.8h0M919 374.7h0M258 359h0"/>
<path stroke="#ff0000" stroke-opacity="0.6" stroke-width="2.2" d="M101 140H952"/>
<path stroke="#0000ff" stroke-opacity="0.58" stroke-width="2.2" d="M101 367.6H952"/>
<path stroke="#606060" stroke-width="2.2" fill="none" d="M101.2 76.5V456.3M90.2 456.3H101.2M90.2 393H101.2M90.2 329.7H101.2M90.2 266.4H101.2M90.2 203.1H101.2M90.2 139.8H101.2M90.2 76.5H101.2"/>
<text x="77.7" y="465.5" font-size="25.3" text-anchor="end">0</text>
<text x="77.7" y="402.2" font-size="25.3" text-anchor="end">5</text>
<text x="77.7" y="338.9" font-size="25.3" text-anchor="end">10</text>
<text x="77.7" y="275.6" font-size="25.3" text-anchor="end">15</text>
<text x="77.7" y="212.3" font-size="25.3" text-anchor="end">20</text>
<text x="77.7" y="149" font-size="25.3" text-anchor="end">25</text>
<text x="77.7" y="85.7" font-size="25.3" text-anchor="end">30</text>
<path stroke="#9a9a9a" stroke-width="2.2" fill="none" d="M157.3 456.3H924"/>
<path stroke="#606060" stroke-width="2.2" fill="none" d="M157.3 456.3V466.3M221.9 456.3V466.3M279.3 456.3V466.3M330.6 456.3V466.3M379.2 456.3V466.3M425.3 456.3V466.3M468.3 456.3V466.3M509 456.3V466.3M546.8 456.3V466.3M583.2 456.3V466.3M618.6 456.3V466.3M653.4 456.3V466.3M688.3 456.3V466.3M717.4 456.3V466.3M745.5 456.3V466.3M767.9 456.3V466.3M790.3 456.3V466.3M811 456.3V466.3M828.8 456.3V466.3M845.4 456.3V466.3M861 456.3V466.3M874.6 456.3V466.3M900 456.3V466.3M924 456.3V466.3"/>
<text x="157.3" y="497" font-size="24" text-anchor="middle">1</text>
<text x="221.9" y="497" font-size="24" text-anchor="middle">2</text>
<text x="279.3" y="497" font-size="24" text-anchor="middle">3</text>
<text x="330.6" y="497" font-size="24" text-anchor="middle">4</text>
<text x="379.2" y="497" font-size="24" text-anchor="middle">5</text>
<text x="425.3" y="497" font-size="24" text-anchor="middle">6</text>
<text x="468.3" y="497" font-size="24" text-anchor="middle">7</text>
<text x="509" y="497" font-size="24" text-anchor="middle">8</text>
<text x="546.8" y="497" font-size="24" text-anchor="middle">9</text>
<text x="583.2" y="497" font-size="24" text-anchor="middle">10</text>
<text x="618.6" y="497" font-size="24" text-anchor="middle">11</text>
<text x="653.4" y="497" font-size="24" text-anchor="middle">12</text>
<text x="688.3" y="497" font-size="24" text-anchor="middle">13</text>
<text x="745.5" y="497" font-size="24" text-anchor="middle">15</text>
<text x="790.3" y="497" font-size="24" text-anchor="middle">17</text>
<text x="828.8" y="497" font-size="24" text-anchor="middle">19</text>
<text x="874.6" y="497" font-size="24" text-anchor="middle">22</text>
<text x="924" y="497" font-size="24" text-anchor="middle">Y</text>
<text x="524.2" y="536.7" font-size="24.7" text-anchor="middle">Chromosome</text>
<text transform="translate(20.5 266) rotate(-90)" x="0" y="0" font-size="25.5" text-anchor="middle">−Log<tspan font-size="15.8" dy="7.6">10</tspan><tspan dy="-7.6">(</tspan><tspan font-style="italic">p</tspan>)</text>
<text x="320" y="132.5" font-size="24.8" fill="#ff0000">HTT (<tspan font-style="italic">p</tspan> = 6.5 × 10<tspan dy="-12.5" font-size="17">−26</tspan><tspan dy="12.5">)</tspan></text>
<path fill="#bebebe" d="M1154.3 455L1154.3 344.8L1155.3 344.1L1156.3 346.7L1157.3 347.6L1158.3 350.5L1159.3 354.9L1160.3 351.9L1161.3 353.5L1162.3 355.1L1163.3 356.1L1164.3 353.6L1165.3 355.1L1166.3 353.8L1167.3 354.1L1168.3 351.8L1169.3 351.7L1170.3 349.1L1171.3 348.1L1172.3 349.2L1173.3 346.8L1174.3 351.2L1175.3 351.1L1176.3 352.2L1177.3 355.1L1178.3 358.1L1179.3 355.3L1180.3 356.2L1181.3 358.7L1182.3 359.6L1183.3 357.8L1184.3 360.2L1185.3 356.1L1186.3 357.2L1187.3 356.2L1188.3 355.7L1189.3 353.9L1190.3 352.6L1191.3 355.7L1192.3 356.1L1193.3 356L1194.3 358.1L1195.3 357.5L1196.3 358.1L1197.3 358.4L1198.3 356.6L1199.3 356.3L1200.3 357.2L1201.3 352.5L1202.3 355.1L1203.3 355.4L1204.3 356.8L1205.3 356.1L1206.3 357.5L1207.3 360.8L1208.3 361.9L1209.3 362.9L1210.3 358.4L1211.3 360.2L1212 357.1L1212 357.1L1212 455Z"/>
<path stroke="#bebebe" stroke-width="4.6" stroke-linecap="round" fill="none" d="M1175.4 361.4h0M1158.1 352.8h0M1199.2 354.6h0M1167 350.3h0M1158.9 360.7h0M1200.9 329.1h0M1181 345h0M1183.1 360.4h0M1187.7 301h0M1196.3 362.2h0M1195.4 355.9h0M1175.2 342.2h0M1200.5 357.1h0M1207.1 373.9h0M1183.2 356.6h0M1174.5 361.9h0M1193.5 361.1h0M1170.7 361.9h0M1208.4 369h0M1162.5 365h0M1169.9 333.4h0M1165.9 362.5h0M1161.4 357.7h0M1167.3 361.4h0M1195.9 334h0M1201.2 365.3h0M1176.5 338.2h0M1157.9 360.6h0M1182.6 366h0M1196.7 353.1h0M1181.2 368h0M1168.6 360.7h0M1159.6 352.5h0M1164.6 335.1h0M1191 368.3h0M1183.1 357.8h0M1158.4 354.2h0M1157.7 339.9h0M1156.3 345.6h0M1209.4 349.2h0M1168.7 354.1h0M1163.7 363.4h0M1202.8 344.2h0M1156.6 353.2h0M1190.7 363.2h0M1199.5 337.3h0M1185.9 364.1h0M1202 358.1h0M1166.3 362.5h0M1164.7 340.5h0M1183.7 353.9h0M1200.3 317.9h0M1166.4 359.7h0M1203.4 348h0M1177 353h0M1166.6 364.6h0M1158.8 361.4h0M1168.9 354.5h0M1208.6 372.9h0M1186.3 341.7h0M1188.5 358.3h0M1197.6 371.5h0M1207.4 357.4h0M1199.7 344.4h0M1161.4 365.9h0M1165.7 358.4h0M1206.9 339.4h0M1178.4 357.4h0M1196.1 365.6h0M1208.6 334.1h0M1195.4 337.3h0M1199.4 354.4h0M1173.5 355.4h0M1169 364.2h0M1206.2 365.8h0M1157.4 355.5h0M1161.7 358.4h0M1174.1 361.8h0M1181.9 365.3h0M1175.3 340.2h0M1172.7 351.3h0M1203.6 322.5h0M1176.4 365h0M1207.5 363.7h0M1167.9 363.2h0M1169 359.7h0M1163.6 368.7h0M1209.9 346.9h0M1162.2 359h0M1199.5 359.5h0M1159.8 359.3h0M1176.7 330h0M1187.6 360.7h0M1190.2 365.3h0M1193.2 345.5h0M1192.4 363h0M1171.6 361.3h0M1160.5 362.9h0M1180.6 347.8h0M1167.8 355.9h0M1190.5 351.6h0M1157.2 324.3h0M1187.8 364.4h0M1169 348.1h0M1206.6 365h0M1177.6 356.7h0M1165.6 361h0M1205.7 357.7h0M1200.6 366.2h0M1203.1 346.7h0M1168.3 354.3h0M1193 357.1h0M1188.7 365.2h0M1186.1 364.3h0M1199.3 362.9h0M1209.1 363.8h0M1168.4 357.4h0M1163 350.2h0M1158.6 350.4h0M1172.8 340.9h0M1163 353h0M1194.7 367.7h0M1163.1 362.7h0M1191.2 364.7h0M1156.6 351.6h0M1199.9 368.1h0M1207 363.9h0M1164.8 365.4h0M1176.2 356.2h0M1165.6 367.3h0M1183.2 366.9h0M1180.1 361h0M1193.8 359h0M1168.5 362.3h0M1202.6 367.8h0M1162.8 367.5h0M1200.8 354.6h0M1206.1 356.7h0M1174.2 356.5h0M1195.7 367h0M1199.5 362.1h0M1158.4 357.8h0M1186.4 368.3h0M1205.1 331.7h0M1183.8 337.1h0M1193.4 358.2h0M1164.7 322.8h0M1205.9 362.2h0M1176.9 367.4h0M1189.6 339.4h0M1177.1 363.5h0M1189.3 344.5h0M1165.3 363.7h0M1190.8 368.5h0M1200.3 365.1h0M1201.1 357.1h0M1165.1 368.2h0M1162.2 364.1h0M1197.1 348.9h0M1190.2 360.7h0M1192 350.4h0M1176 364.4h0M1160.6 332.9h0M1160.6 334.7h0M1159 337h0M1162.1 341.4h0M1159.7 343.7h0M1190.5 321.8h0M1191.1 324.8h0M1191.6 329.2h0M1188.7 351.7h0M1188.9 326.3h0M1191 329.5h0M1208.1 340.5h0M1208.8 356.2h0M1207.8 363.2h0M1206.9 357.4h0M1205.4 360h0M1210.2 359.7h0M1208.8 341.4h0M1209.1 342.1h0M1194.8 355.1h0M1193 358h0M1194.9 360.3h0M1193.6 359.2h0M1194.7 360.8h0M1195.1 357.8h0M1195.2 359.7h0M1188.2 353.1h0M1188.8 354.9h0M1188.4 358.5h0M1190.1 356.5h0M1187.6 356.7h0M1186.4 356.6h0M1188.1 353.4h0M1187.1 357.5h0M1195.2 346.4h0M1194.2 355.9h0M1195 358.7h0M1196.7 356.6h0M1195.6 356.7h0M1190.7 359.4h0"/>
<path fill="#ab82ff" d="M1212 455L1212 352L1213 353.4L1214 351.7L1215 349.2L1216 350.2L1217 349.7L1218 348.4L1219 351.6L1220 350.7L1221 350.5L1222 350.8L1223 350.3L1224 349.2L1225 350.1L1226 351.9L1227 352.1L1228 353.5L1229 352.2L1230 354.2L1231 354L1232 354.3L1233 353.5L1234 351.2L1235 352.4L1236 349.8L1237 350.6L1238 349.6L1239 350.6L1240 351.2L1241 352.1L1242 353.6L1243 350.8L1244 350.4L1245 350.6L1246 350.4L1247 353.7L1248 350.8L1249 352.8L1250 352.7L1251 351.1L1252 353.7L1253 353.9L1254 355.9L1255 355L1256 354L1257 352.9L1258 350.4L1259 351.7L1260 351.2L1261 351.4L1262 348.8L1263 348.2L1264 349.7L1265 351.1L1265.4 351.1L1265.4 455Z"/>
<path stroke="#ab82ff" stroke-width="4.6" stroke-linecap="round" fill="none" d="M1220.2 362.9h0M1239.3 335.3h0M1229.3 336.8h0M1230.3 318.4h0M1250.6 335.5h0M1262.8 337.1h0M1223.6 352.1h0M1240.9 346.9h0M1225.2 351h0M1228 364h0M1236.2 339.7h0M1241.4 359.1h0M1225 357.1h0M1233.7 360h0M1229.3 361.8h0M1228.4 350.7h0M1244.9 349.7h0M1259.8 348.7h0M1220.3 356.6h0M1239.9 344.7h0M1240.2 363.2h0M1237.5 347.6h0M1252.9 358.7h0M1224.4 362.1h0M1238.9 344h0M1219.3 354.3h0M1243.5 351.9h0M1225.3 362.1h0M1214.9 357.4h0M1258.5 356h0M1262.9 336.4h0M1242.9 355.8h0M1241.8 340.5h0M1230.4 365.1h0M1258.6 350.7h0M1232.6 359.5h0M1218.8 352.9h0M1252.9 357.3h0M1248.5 346.8h0M1230.3 352.9h0M1262.2 344h0M1222.9 347.9h0M1245.9 342.2h0M1248.8 330.9h0M1262.4 358.8h0M1237.7 362.3h0M1262.9 360h0M1235 351.9h0M1235.2 363.1h0M1238.8 360.4h0M1238.2 344.8h0M1228.7 357h0M1245.3 353h0M1253.7 337.1h0M1262 359.6h0M1237.8 361.1h0M1248.6 358.9h0M1256.1 357.8h0M1253.6 368.8h0M1244.3 356.1h0M1255.3 366.8h0M1218.2 345h0M1230 359.3h0M1233.9 303.4h0M1244.9 338.1h0M1255.6 339.2h0M1236.1 358.3h0M1239.5 331.5h0M1257.8 354.4h0M1259 344.3h0M1215.8 349.1h0M1253.3 366.6h0M1232.6 351.9h0M1239.1 353.1h0M1218.3 357.4h0M1257.1 360.1h0M1237.7 350h0M1227.9 359.2h0M1239 334.6h0M1255.8 364.6h0M1238.9 343.9h0M1258.4 352.9h0M1245.3 348.9h0M1247 334.7h0M1262.9 292.8h0M1220 345.8h0M1233.1 362.1h0M1218.8 330h0M1258.3 352.9h0M1238.6 360.7h0M1260 344.1h0M1222.1 351.9h0M1263.4 357.2h0M1232.4 361.1h0M1232.3 365.9h0M1245.1 359.9h0M1247.7 355.1h0M1255.8 347.5h0M1256.5 363.8h0M1253.4 345.7h0M1228.3 366.9h0M1218.7 343.6h0M1262 361.2h0M1225.9 357.8h0M1217.2 348.3h0M1256.5 339.6h0M1222.7 328.7h0M1252.9 364.8h0M1256.3 328.8h0M1257.6 343.7h0M1254.5 358.2h0M1214.2 348.7h0M1238.7 361.7h0M1220.4 332.8h0M1258.8 364.3h0M1214.7 345.3h0M1228.3 337.4h0M1236.8 346h0M1216.1 341.9h0M1223.7 354.5h0M1238 357.3h0M1225.9 356.7h0M1216.4 361.2h0M1220.3 336.2h0M1229.3 305.8h0M1258.6 362.5h0M1256.4 304.7h0M1235.8 353.7h0M1247.4 357.3h0M1226.9 346.4h0M1224.7 356.5h0M1214.9 357h0M1253.9 367.1h0M1223.3 356.4h0M1228.6 365.5h0M1216.5 359.8h0M1253.3 345.6h0M1254 352.1h0M1263.5 358.8h0M1249 357.5h0M1261.6 353.8h0M1249.8 344.5h0M1261.8 341.3h0M1230.1 352.4h0M1253.5 326.6h0M1226.1 346.3h0M1249.7 363.6h0M1219.7 352.1h0M1243.6 358h0M1244.6 361.6h0M1254.9 350.3h0M1255.2 355.3h0M1254.9 351h0M1222.5 346.6h0M1221.5 349.9h0M1222.3 349.9h0M1238.1 342.5h0M1237.8 346.5h0M1241.5 344.2h0M1236.3 344.4h0M1238.2 345.5h0M1216.6 348.3h0M1215.4 350.2h0M1217.3 351.7h0M1215.3 348.7h0M1217.7 352.5h0M1216.4 349.6h0M1217.5 349.3h0M1215.1 340.9h0M1213.8 343.3h0M1215.6 341.7h0M1215.5 351.3h0M1217.6 348.1h0M1217 346.2h0M1213.9 347.2h0M1241.7 326.8h0M1241.2 338.9h0M1241 335h0"/>
<path fill="#bebebe" d="M1265.4 455L1265.4 357.8L1266.4 356.9L1267.4 357.1L1268.4 355.6L1269.4 352.3L1270.4 351.7L1271.4 351.7L1272.4 349.1L1273.4 351.6L1274.4 350.1L1275.4 351.8L1276.4 350.3L1277.4 351.7L1278.4 349.7L1279.4 351.7L1280.4 349.9L1281.4 349.3L1282.4 352.3L1283.4 351.5L1284.4 351.8L1285.4 351.1L1286.4 350.9L1287.4 354.6L1288.4 355.6L1289.4 355L1290.4 354.6L1291.4 353.2L1292.4 355.3L1293.4 354.9L1294.4 352L1295.4 354.9L1296.4 352.3L1297.4 356.5L1298.4 357.5L1299.4 359.3L1300.4 359.2L1301.4 359L1302.4 360.3L1303.4 359.4L1304.4 356L1305.4 355.3L1306.4 358.6L1307.4 358.8L1308.4 358.4L1309.4 357.6L1310.4 356.9L1311.4 354.6L1312.4 350.9L1313 351.4L1313 351.4L1313 455Z"/>
<path stroke="#bebebe" stroke-width="4.6" stroke-linecap="round" fill="none" d="M1301 367.4h0M1295.1 368h0M1274.5 340.8h0M1267.3 363h0M1297.3 369.4h0M1302.1 365.6h0M1289.2 367.8h0M1310.3 354.5h0M1278.5 353.3h0M1294.8 357h0M1273.1 363.4h0M1295.6 334.2h0M1272.5 355h0M1277.1 352.3h0M1293.7 360.3h0M1279 348.9h0M1308.7 370.8h0M1274.2 349.2h0M1289.6 359.6h0M1275 353.8h0M1304.9 363.4h0M1268.6 351.4h0M1285.1 362.9h0M1299.8 360h0M1302.6 369.2h0M1300.1 364h0M1279.5 347h0M1278.4 348.5h0M1291.4 357.2h0M1271 358.8h0M1300.7 354.8h0M1300.1 358.4h0M1289.3 368.1h0M1308 366h0M1305.1 340.8h0M1288.8 350.9h0M1299.1 370.8h0M1293.9 366.4h0M1309.9 366h0M1296.5 364h0M1285.5 347.5h0M1280.2 346.5h0M1268.1 362.4h0M1286.3 353.8h0M1299.7 344.4h0M1296.6 343.5h0M1285.3 351.9h0M1279.8 337.3h0M1271.7 331.4h0M1292.7 362.8h0M1306 369.1h0M1306.5 367.1h0M1284 351.5h0M1278.8 333h0M1305.1 361.7h0M1291.7 354.3h0M1283.5 328.1h0M1274.6 361.1h0M1294.3 361.6h0M1299.3 358.1h0M1271.6 361h0M1289.4 368.1h0M1279.3 356h0M1296.8 358.9h0M1267.6 328.6h0M1276.9 356.9h0M1292 350h0M1309.2 355.7h0M1300.7 358.8h0M1300.7 347.2h0M1268.5 368.2h0M1290.7 347.6h0M1289.4 345.4h0M1272.4 348.2h0M1288 342.1h0M1277.4 356.2h0M1283.6 347.7h0M1276.6 323.1h0M1305.2 350.9h0M1305.5 366.2h0M1309.6 367.3h0M1285.4 339.3h0M1287.1 367.4h0M1287.1 365h0M1270.1 364.2h0M1293.4 357.4h0M1282.3 358.6h0M1281.7 326h0M1272.2 330.7h0M1308.2 361.3h0M1294.7 323.1h0M1274.9 363.2h0M1273.9 357.6h0M1305.3 356.9h0M1306.7 363h0M1295.9 363.1h0M1309.1 368.4h0M1306.2 325.8h0M1286 348.3h0M1287.5 348.5h0M1288.3 345.5h0M1290.7 363.5h0M1273.9 352.2h0M1286.2 349.7h0M1281.6 351.9h0M1270 348.9h0M1289.2 363.9h0M1272.3 353h0M1271 334.9h0M1288.2 352h0M1281.7 361.1h0M1285.7 361h0M1304.8 368.9h0M1271.9 329h0M1269.1 349.2h0M1294.7 358.8h0M1308.2 367.1h0M1279.9 336.8h0M1279.3 364.2h0M1291.8 345.5h0M1282.4 358.4h0M1281.5 347.8h0M1288.7 353.3h0M1283.8 345.7h0M1291.6 363.8h0M1285.3 350h0M1300.4 364.9h0M1281.2 331.6h0M1293.9 323.3h0M1306 363.5h0M1283.8 347.8h0M1288.9 347.4h0M1289.3 351.1h0M1289.8 348.6h0M1291.4 322.5h0M1288.3 324.6h0M1291.9 347.6h0M1290.6 346.4h0M1294 340.3h0M1285 348.2h0M1284.7 349.5h0M1287 353.8h0M1284.8 350.3h0M1284.6 349.8h0M1287 350.2h0M1283.8 350h0M1283.9 350h0M1291.3 338.9h0M1289.1 354.2h0M1289.9 339.3h0M1300.8 351h0M1301.1 360h0M1298.7 357.1h0M1298.8 354.4h0"/>
<path fill="#ab82ff" d="M1313 455L1313 348.9L1314 346.8L1315 348.9L1316 346.8L1317 347.8L1318 348.8L1319 349.6L1320 347.1L1321 350.4L1322 350.7L1323 349L1324 349.9L1325 350.9L1326 351L1327 349.2L1328 348.1L1329 347L1330 346.5L1331 347.7L1332 346.6L1333 349.4L1334 350.2L1335 354.1L1336 354.7L1337 352.9L1338 355.1L1339 354L1340 349.1L1341 347.7L1342 346.3L1343 346.7L1344 349.3L1345 349.2L1346 351.2L1347 354.7L1348 355.6L1349 354L1350 354.7L1351 353.7L1352 351.6L1353 354.9L1354 354.1L1355 350.3L1356 354.3L1357 353.5L1358 353.2L1358.8 354.9L1358.8 354.9L1358.8 455Z"/>
<path stroke="#ab82ff" stroke-width="4.6" stroke-linecap="round" fill="none" d="M1349 363.7h0M1345.3 353.7h0M1336.1 366.9h0M1352.2 364.8h0M1351.4 366.8h0M1330.9 352.6h0M1340.6 356.6h0M1356.9 360.8h0M1324.1 344.1h0M1342.6 346.5h0M1355 332.7h0M1327.7 328.7h0M1352.4 364.2h0M1336.4 338.8h0M1331.8 354.1h0M1335.3 340.6h0M1315.3 346.8h0M1344.7 317.3h0M1342.1 355.2h0M1342.2 340.7h0M1320.2 338.5h0M1340.1 349.6h0M1342.2 345.7h0M1321.1 361.5h0M1314.9 356.8h0M1324 350.2h0M1318.9 361h0M1336.7 343.9h0M1335.2 366.7h0M1354 355.7h0M1353.4 348.2h0M1353 343.5h0M1346.4 335.5h0M1343.2 307.7h0M1353.5 364.9h0M1335 325.4h0M1343.4 346.1h0M1332.4 358.8h0M1332.7 362.7h0M1321.8 355.2h0M1333.5 349h0M1339.8 341.7h0M1338.8 344.5h0M1316.4 351.2h0M1354.5 347.8h0M1349.9 317.3h0M1321.5 354.3h0M1352.1 359.4h0M1336.6 363.2h0M1317.9 327.5h0M1345.9 342.8h0M1352.6 356.5h0M1350.3 346.3h0M1334.1 354.5h0M1323.4 354h0M1350.4 367.6h0M1354.8 360.4h0M1336.1 363h0M1316.3 346.2h0M1322.4 356.6h0M1350 359.4h0M1329.3 358.3h0M1315.5 336.2h0M1335.3 362.2h0M1346.8 357.2h0M1324.5 316.1h0M1332.1 354.2h0M1356.2 359.9h0M1334.5 341.6h0M1342.1 355.5h0M1316.9 360.2h0M1320.9 344.1h0M1330.6 350.1h0M1326.9 362h0M1356.4 351.9h0M1343.9 348.3h0M1316.9 336.1h0M1351.5 361.2h0M1351 318.9h0M1322.1 329h0M1316.7 341.2h0M1356 365.5h0M1333.6 363.3h0M1337.3 365.4h0M1335.6 365.1h0M1322.8 346.5h0M1324.9 361.9h0M1326.9 355.7h0M1343.3 347.5h0M1339.2 350.2h0M1326.2 347.8h0M1317.5 359.8h0M1338.7 352.2h0M1326.5 305.1h0M1319.6 336.4h0M1337.8 355.4h0M1332.8 361.9h0M1333.4 346.3h0M1346.1 339.9h0M1327.5 351.1h0M1319.8 352.3h0M1332.5 340h0M1318.8 362.3h0M1341.1 338.3h0M1317.9 345.5h0M1321.1 335.9h0M1341.7 356.4h0M1330.7 334.9h0M1354.9 363.2h0M1333 361h0M1355.5 320.5h0M1332.5 335.4h0M1325.5 337.5h0M1322.5 358.8h0M1337.1 346.6h0M1334.7 365.9h0M1316.2 357.7h0M1326.7 347.3h0M1322.7 327.5h0M1342.2 354.3h0M1339 340.3h0M1325.7 348.5h0M1341.8 334.3h0M1342.7 359.1h0M1351.3 363.6h0M1340.6 359.2h0M1348.1 343.7h0M1348.8 350h0M1331.8 338.6h0M1331.6 342.6h0M1331.5 349.2h0M1333.7 340.7h0M1332.9 346.7h0M1329.4 344.9h0M1329.7 348.9h0M1328.4 345.4h0M1328.7 349.1h0M1330.4 349.8h0M1331.2 345h0M1327.6 345.5h0M1341 319.2h0M1341.5 339.7h0M1340.1 342.3h0M1341.1 350.6h0M1341.6 337.2h0M1332.2 326.9h0M1333.8 349.6h0M1332.8 332.6h0M1327.3 342.2h0M1326.7 350.9h0M1329.2 347.4h0M1327.1 347.8h0M1328.7 345h0M1327.2 348.8h0M1327.2 342.4h0"/>
<path fill="#bebebe" d="M1358.8 455L1358.8 350.4L1359.8 350.5L1360.8 354.9L1361.8 352.9L1362.8 354.1L1363.8 353.5L1364.8 356.6L1365.8 352.9L1366.8 354.2L1367.8 354.9L1368.8 352.4L1369.8 355L1370.8 351.5L1371.8 354.2L1372.8 352L1373.8 351.2L1374.8 352L1375.8 351.1L1376.8 349.3L1377.8 351.8L1378.8 351.3L1379.8 353.6L1380.8 353.1L1381.8 354.4L1382.8 354.5L1383.8 353.2L1384.8 354.9L1385.8 355.1L1386.8 354.1L1387.8 353L1388.8 350.7L1389.8 352.4L1390.8 351.4L1391.8 354.1L1392.8 354.3L1393.8 355.2L1394.8 356.9L1395.8 355.3L1396.8 356.4L1397.8 355.7L1398.8 354.9L1399.8 353.3L1400.8 353.5L1401.8 353.6L1402.8 354.2L1403.5 353L1403.5 353L1403.5 455Z"/>
<path stroke="#bebebe" stroke-width="4.6" stroke-linecap="round" fill="none" d="M1375 326.6h0M1395.1 352.9h0M1397.3 350.5h0M1365.6 355.7h0M1367.1 364.7h0M1399.7 337.8h0M1376.1 359.6h0M1384.7 336.5h0M1394.7 368.2h0M1384.9 350.3h0M1399.1 343.2h0M1381 365.8h0M1388.5 350.9h0M1385.2 365.1h0M1369.5 366.1h0M1396.1 366.3h0M1386.9 356h0M1391.4 360.3h0M1373.5 362.8h0M1384 339.5h0M1380.2 308.1h0M1379.3 363.5h0M1388.6 336.7h0M1371.1 362.9h0M1391.6 363.6h0M1392.4 357.9h0M1397.2 339.6h0M1369 336.3h0M1381.1 326.3h0M1385.4 362.5h0M1385.2 359.6h0M1383 347.4h0M1383.7 345.8h0M1363.5 364h0M1378.7 361.9h0M1384.9 354h0M1365.7 360.2h0M1376.9 347.9h0M1384.2 361.4h0M1370.1 346.8h0M1374.5 338.1h0M1380 360.2h0M1372.8 322h0M1371.5 361.7h0M1369.4 355.1h0M1389.2 363.8h0M1379.2 357.6h0M1370.9 335.3h0M1396.3 354.2h0M1366.2 346.5h0M1372.8 358.1h0M1361 356.6h0M1382.3 358.5h0M1393.6 350.6h0M1383.2 354.6h0M1387.8 361.9h0M1375.2 345.5h0M1384.5 364.1h0M1393.8 359.7h0M1371.6 358.3h0M1386 367.7h0M1383.9 366.3h0M1374.4 352h0M1399.7 339.8h0M1366.3 354.9h0M1373.7 346.8h0M1381.1 332.6h0M1377.5 350.4h0M1374.4 355.5h0M1370.9 359h0M1375.7 357.2h0M1390.4 358.9h0M1401 343.8h0M1373.8 351.3h0M1400.4 365.1h0M1391.9 362.5h0M1363.2 361h0M1378.6 306.6h0M1394.4 365.8h0M1379.1 359h0M1399.7 366.4h0M1375 352h0M1383.3 346h0M1385.2 364.4h0M1370.3 335.5h0M1380.6 359.3h0M1369.1 349.3h0M1368.9 353h0M1366.1 322.9h0M1376.9 334.6h0M1386 367.3h0M1379.4 345.8h0M1362 336h0M1398 363.9h0M1366.3 353.4h0M1369.2 346.2h0M1384.2 357h0M1376.1 349.5h0M1371.6 357.9h0M1370.3 354.4h0M1370.1 345.4h0M1384.1 359h0M1361.9 356.8h0M1396.2 361.1h0M1377.9 341.5h0M1393.3 363.5h0M1401.2 359.7h0M1399.7 335.2h0M1390.4 363.3h0M1371.8 353.2h0M1369.9 360.9h0M1399 346h0M1390.5 348.3h0M1390.2 362.8h0M1389.7 347.7h0M1367.6 336.7h0M1395.4 336.7h0M1399 363.7h0M1366.8 358.9h0M1401.2 366.4h0M1370.4 340.6h0M1370.9 328.9h0M1370.9 332.3h0M1370.3 346.1h0M1368.4 349.9h0M1373.3 343.6h0M1395.3 354.4h0M1393.6 357.4h0M1396.4 357.7h0M1397.2 355.8h0M1364.6 348.1h0M1364.9 355.2h0M1366.7 354.6h0M1363.6 352h0M1364.8 348.6h0M1364.1 349.3h0M1363.6 351.4h0M1365.1 353.3h0M1379.1 336.5h0M1377.5 340.2h0M1378.4 347.5h0M1378.1 339.3h0M1376.7 352.3h0M1379.2 341.2h0M1380.8 337.6h0M1380.2 350h0M1373.7 328.6h0M1374.7 353.5h0M1373.2 341.9h0"/>
<path fill="#ab82ff" d="M1403.5 455L1403.5 356.2L1404.5 357.7L1405.5 359.1L1406.5 359.6L1407.5 357.7L1408.5 357.6L1409.5 357.5L1410.5 356.3L1411.5 359.3L1412.5 357.8L1413.5 359.1L1414.5 356.3L1415.5 359.9L1416.5 357.2L1417.5 355.2L1418.5 356.9L1419.5 352.6L1420.5 354.3L1421.5 351.3L1422.5 355L1423.5 353.7L1424.5 357.9L1425.5 357.7L1426.5 358.7L1427.5 360.7L1428.5 359.4L1429.5 357.9L1430.5 355.2L1431.5 353.7L1432.5 353L1433.5 352L1434.5 352.7L1435.5 354.2L1436.5 355.2L1437.5 351.2L1438.5 354.9L1439.5 353.5L1440.5 354.7L1441.5 355L1442.5 355.8L1443.5 354.7L1444.5 357.1L1445.5 353.9L1446.5 355L1447.5 356.9L1447.5 356.9L1447.5 455Z"/>
<path stroke="#ab82ff" stroke-width="4.6" stroke-linecap="round" fill="none" d="M1444.2 362.9h0M1406.1 368.8h0M1428.3 366.1h0M1434.8 365.2h0M1445 366.1h0M1431.4 356.9h0M1440.5 360h0M1419.9 359.7h0M1442.4 352.5h0M1419.5 358.1h0M1420.4 366.1h0M1444 342.2h0M1443.9 357.6h0M1407.5 369.7h0M1414.2 360.3h0M1417.8 320.6h0M1441.4 359.9h0M1418.1 363.8h0M1422.9 360.2h0M1409.3 344.7h0M1417.2 360.3h0M1437 360.8h0M1441.2 348.7h0M1417 352.2h0M1423.2 327.6h0M1414.2 365.7h0M1418.1 369.1h0M1410.2 342h0M1427.2 351.2h0M1436.1 353.9h0M1421.3 334.8h0M1418 337.9h0M1408.1 357.3h0M1444.4 359.5h0M1419.9 356.6h0M1422.8 365.8h0M1422.5 365.1h0M1425 359.8h0M1428.2 355.3h0M1405.9 371.3h0M1420.2 366.5h0M1436 350.4h0M1413.7 361.1h0M1416.6 364.4h0M1431.5 357.4h0M1408.9 370.1h0M1428.8 345.6h0M1430.4 357.6h0M1426.7 361.9h0M1435.8 356.1h0M1422.1 364h0M1420.8 358.3h0M1426.8 371.3h0M1421.3 326h0M1422.4 347.5h0M1431.1 317.2h0M1427.8 372.6h0M1428.2 327.8h0M1444.5 355.1h0M1420.2 352.6h0M1408.9 348.2h0M1437.1 359.1h0M1436.7 334.2h0M1441 341.2h0M1433.4 355.4h0M1427 365.3h0M1417.5 359.3h0M1408.8 362.1h0M1433.2 360.5h0M1440.8 335.8h0M1443.1 355.7h0M1440.3 366.5h0M1411.9 370.9h0M1420.1 367.4h0M1419.6 334.5h0M1426.1 370.6h0M1427.2 360.4h0M1433 364h0M1415.9 366.2h0M1426.5 346.8h0M1424.9 354.8h0M1427.1 367.1h0M1409.3 330.8h0M1441 349.9h0M1429 347.1h0M1414 371.6h0M1425.9 364.9h0M1411.5 367.7h0M1444.6 349.9h0M1407.4 366.6h0M1436.8 352.7h0M1415.5 361.2h0M1441.4 368.2h0M1443.2 363h0M1413.8 363.1h0M1424.5 369.3h0M1415.3 355.6h0M1416.6 369.4h0M1423.5 356.5h0M1439.8 351.5h0M1431.7 335.9h0M1430.1 356.2h0M1430 360.7h0M1436.1 359.9h0M1443.6 355h0M1442.4 367h0M1434.7 362.6h0M1426.2 365.3h0M1406.5 349.3h0M1429 365.9h0M1429.2 341.5h0M1409.8 366h0M1440.3 362.6h0M1416.3 367.9h0M1409.5 368.1h0M1424.9 354.8h0M1405.4 368.9h0M1437.6 343h0M1416.4 319.9h0M1413.6 369.3h0M1421 358h0M1441.5 341.2h0M1441.5 347.4h0M1440.4 351.9h0M1414.1 319.7h0M1412.6 329h0M1416 340.8h0M1416 321.9h0M1417.2 336.7h0M1416.6 335.7h0M1418.5 342.7h0M1416.4 343.2h0M1416.4 347.4h0M1416.7 344.9h0M1433.1 326.1h0M1432.8 332.9h0M1430.5 342.4h0M1434.3 344.3h0M1432.9 343.1h0M1430.1 334.5h0M1435 327.7h0M1434.3 349.3h0M1436.8 355.3h0M1432.7 352h0M1435.7 355.4h0M1442.9 354.5h0M1443.4 355.6h0M1441.8 357.1h0M1444.7 355.5h0M1442.2 358.2h0M1443.8 355.5h0M1441.9 357.8h0"/>
<path fill="#bebebe" d="M1447.5 455L1447.5 353.8L1448.5 351L1449.5 351.2L1450.5 352.1L1451.5 349.7L1452.5 351.8L1453.5 349L1454.5 350.6L1455.5 349.5L1456.5 352.7L1457.5 351L1458.5 352.4L1459.5 354.5L1460.5 351.9L1461.5 352.9L1462.5 348.5L1463.5 349.9L1464.5 349.6L1465.5 348.3L1466.5 347.5L1467.5 348.6L1468.5 348.7L1469.5 349.8L1470.5 348.9L1471.5 350.8L1472.5 352L1473.5 349.2L1474.5 351.1L1475.5 351.6L1476.5 352.6L1477.5 349.4L1478.5 349.9L1479.5 351.8L1480.5 347.9L1481.5 351.3L1482.5 349.2L1483.5 349.1L1484.5 349.7L1485.5 349.8L1486.5 348.4L1487.5 348.6L1488.5 349.2L1489.5 349.1L1490.5 348.5L1490.5 348.5L1490.5 455Z"/>
<path stroke="#bebebe" stroke-width="4.6" stroke-linecap="round" fill="none" d="M1484 347.5h0M1488.5 359.6h0M1480.1 347.6h0M1462.1 351.5h0M1480.7 350.1h0M1458.7 360.9h0M1480.9 359.9h0M1454.3 347.4h0M1474 336.1h0M1466.6 355.1h0M1487.6 356.8h0M1477.1 361.5h0M1465.7 352.4h0M1469.6 362.6h0M1482.5 314.8h0M1478.2 339h0M1485.4 311.6h0M1482.7 354.5h0M1453.2 355.5h0M1451.5 352.9h0M1485.5 331.7h0M1458.2 350.5h0M1460.1 342.2h0M1456.8 364.5h0M1471.3 315.8h0M1466.6 350.8h0M1482.8 349.6h0M1477.9 351h0M1464 354.5h0M1469.8 361h0M1459.5 365.6h0M1475.4 356.2h0M1472.8 358.3h0M1478.2 341.3h0M1452.4 364.5h0M1482.1 359h0M1488.3 356.8h0M1460.3 364.6h0M1472 351.3h0M1451.4 344h0M1451.3 353.8h0M1485.2 362.6h0M1483.7 341.6h0M1461.7 352.4h0M1455.7 345.9h0M1487.8 356h0M1450.1 365.2h0M1463.7 347.9h0M1488.6 328.4h0M1481.8 350.8h0M1478.3 348.8h0M1454.5 340.4h0M1464.5 360.5h0M1487.5 337.9h0M1453.3 351.5h0M1450.6 341.1h0M1462.4 353.3h0M1476.5 347.2h0M1451.1 349.8h0M1463.9 357.7h0M1483.4 345.7h0M1478.2 358.9h0M1464.4 352.4h0M1469.3 353.8h0M1482.9 359.4h0M1454.1 353.5h0M1472 337.4h0M1460.7 296.1h0M1456.4 357.6h0M1462 363.6h0M1458.9 358.9h0M1457.8 361.1h0M1478.4 358.1h0M1485.2 357h0M1450.7 362.8h0M1483.2 350.4h0M1485.8 355h0M1462.6 354.2h0M1467.3 342.1h0M1487.1 344.1h0M1480.9 355.6h0M1467.5 361.9h0M1484.5 328.7h0M1477.5 356.8h0M1462.9 349.2h0M1462.8 352.5h0M1457.1 340.1h0M1485.6 345.7h0M1484.6 324.3h0M1468.9 361.6h0M1476.6 357.7h0M1463.3 358.9h0M1471.8 335.6h0M1461.9 353.8h0M1467 335h0M1469.4 315.5h0M1452 317.6h0M1462.2 340h0M1466.4 356h0M1484.2 349.6h0M1455.7 349h0M1469.9 307h0M1469.5 349.8h0M1475.9 364.8h0M1467.2 319.7h0M1470.1 358h0M1459 362.2h0M1467.8 357.1h0M1469.8 360.6h0M1452.9 364.2h0M1465.3 358.8h0M1460.2 362.1h0M1464.4 346.3h0M1450 359.4h0M1483 361.9h0M1486.8 360.1h0M1462.4 322.7h0M1479.7 360.9h0M1466.8 354.8h0M1472.1 364.9h0M1456.4 341.2h0M1459.9 349.1h0M1459 346.4h0M1459.1 346.6h0M1455 349.7h0M1456.7 353.7h0M1455.8 344.1h0M1456.2 355h0M1452.7 347.3h0M1451.7 354.6h0M1452.1 348.4h0M1454.1 352.6h0M1450.9 351.5h0M1451 351.9h0M1452 351h0M1457 341.5h0M1458.5 349.8h0M1457.4 343.6h0M1458.1 348.3h0M1457.1 346.7h0M1457.5 348h0M1459.3 351.3h0M1459.3 351.5h0M1457.3 352.9h0M1458.2 349.5h0M1459.2 351.6h0M1457.5 353.9h0M1462.4 347.3h0M1461.2 350.1h0M1460.9 351h0M1460.2 348.4h0M1462 351.3h0"/>
<path fill="#ab82ff" d="M1490.5 455L1490.5 362.8L1491.5 362.3L1492.5 363.6L1493.5 362L1494.5 363.6L1495.5 362.3L1496.5 363.9L1497.5 363.5L1498.5 361.2L1499.5 359.7L1500.5 359.8L1501.5 361.5L1502.5 359.7L1503.5 358.8L1504.5 359.6L1505.5 359.6L1506.5 360.8L1507.5 360.5L1508.5 364L1509.5 362.5L1510.5 361.1L1511.5 362L1512.5 360.6L1513.5 358.8L1514.5 357.9L1515.5 356L1516.5 359.2L1517.5 358.4L1518.5 359.8L1519.5 358.9L1520.5 362.4L1521.5 362L1522.5 361.3L1523.5 359.8L1524.5 358.7L1525.5 358.1L1526.5 357.5L1527.5 358.9L1528.1 359.8L1528.1 359.8L1528.1 455Z"/>
<path stroke="#ab82ff" stroke-width="4.6" stroke-linecap="round" fill="none" d="M1513 357h0M1520.4 359.9h0M1496.7 366.7h0M1507.8 351.5h0M1520.2 356.4h0M1510 364.1h0M1502.9 364.2h0M1493.7 364.1h0M1503.3 337.7h0M1524.4 370.6h0M1512.9 368.4h0M1516.6 335h0M1524.2 367.5h0M1503 360.9h0M1517.4 370.8h0M1507.4 362.4h0M1519.2 345.2h0M1514.2 356.8h0M1507.1 354.2h0M1507.5 366.8h0M1515.8 344.8h0M1524 359.2h0M1513.3 371h0M1524.2 371.3h0M1519.5 371.7h0M1511.6 368.3h0M1519.4 371.5h0M1510.6 361.1h0M1504 366.1h0M1521.8 343.3h0M1517.1 355.5h0M1509.3 359.9h0M1520.1 374.7h0M1493.1 335h0M1508.7 372.5h0M1499.1 369.9h0M1508.8 376.9h0M1499.3 325.6h0M1522.1 341.5h0M1501.1 369.7h0M1521.9 352.2h0M1502.1 348.1h0M1515.3 362.9h0M1521.1 359.4h0M1518.6 355.8h0M1493.9 346.9h0M1525.8 369.8h0M1524.2 327.9h0M1523.8 348.2h0M1517.3 369.6h0M1524 364.1h0M1519.5 367.2h0M1522 375.2h0M1509.3 346.4h0M1514.1 359.7h0M1521.1 352.6h0M1504.3 359.3h0M1516.8 349.9h0M1496.4 369.1h0M1524.7 371.6h0M1511.7 362h0M1508.3 374.2h0M1504.3 363.4h0M1525.9 353.3h0M1494.4 365h0M1510.4 331.2h0M1524.8 344.4h0M1522.1 356.2h0M1521.1 341.1h0M1520.2 371.1h0M1512.6 373.2h0M1508.9 368h0M1519.8 365.8h0M1497.8 372.9h0M1523.8 353.7h0M1513.6 370.5h0M1515.6 363.7h0M1517.3 346.3h0M1520.3 366.2h0M1492.9 344.5h0M1499.8 359.1h0M1495.9 359.4h0M1501 371.2h0M1509.3 366.9h0M1519 328.2h0M1506 369h0M1522.6 323.4h0M1500.4 368.3h0M1506.9 362.9h0M1518.8 364.2h0M1516.7 360.9h0M1508.2 366.1h0M1523.7 370.9h0M1492.4 371.5h0M1518.6 359.5h0M1499.8 357.7h0M1523.2 339h0M1503.2 334.5h0M1498.3 374.3h0M1525.3 358.9h0M1519.1 366.3h0M1495 374h0M1500.5 347.4h0M1504.5 372.4h0M1500.6 343.7h0M1497.8 353.8h0M1500.5 349.2h0M1500.9 352.4h0M1502.6 343.9h0M1504.5 346.6h0M1502.7 350h0M1504.2 353.8h0M1513.4 353.2h0M1513.2 360h0M1513.1 361.7h0M1513.9 360.3h0M1514.1 360.7h0M1510.8 340h0M1513 352.4h0M1510.1 356.6h0M1509.2 344.2h0M1509.2 348.2h0M1506.4 354.9h0M1510.5 361.9h0M1509.1 363.7h0M1505.7 317.9h0M1506.1 336h0M1505.3 336.1h0M1503.3 318.4h0M1505.8 335.8h0M1505.2 357.5h0M1506.1 340.8h0M1505 321.1h0M1517.3 352.4h0M1517.3 356.6h0M1518.3 360.2h0M1515.2 352.8h0M1519.5 361.1h0M1512.1 334.3h0M1515.5 357.7h0M1510.4 354.8h0M1511.3 339.3h0"/>
<path fill="#bebebe" d="M1528.1 455L1528.1 353.4L1529.1 352.2L1530.1 351.1L1531.1 353L1532.1 350.5L1533.1 353.9L1534.1 352.7L1535.1 350.4L1536.1 351.1L1537.1 352.1L1538.1 350.5L1539.1 351.1L1540.1 349.7L1541.1 352.1L1542.1 353.5L1543.1 353.9L1544.1 355.1L1545.1 353.2L1546.1 357L1547.1 356.7L1548.1 356.5L1549.1 353.9L1550.1 355.2L1551.1 353.4L1552.1 354.5L1553.1 354L1554.1 356L1555.1 353.5L1556.1 353.7L1557.1 352L1558.1 353.1L1559.1 353.9L1560.1 351.2L1561.1 355.5L1562.1 355.7L1563.1 354.8L1564.1 356.8L1565.1 355.5L1565.2 355.5L1565.2 455Z"/>
<path stroke="#bebebe" stroke-width="4.6" stroke-linecap="round" fill="none" d="M1557.6 357h0M1554.8 341.1h0M1548.1 355.1h0M1530.4 353.7h0M1560.6 352.9h0M1551.5 365.7h0M1535.7 360.6h0M1543.3 358.4h0M1553.8 325.3h0M1562.5 356.2h0M1551.9 338.1h0M1554.9 356.3h0M1556.6 358.8h0M1530.7 363.5h0M1563.2 352.9h0M1544 365.7h0M1530 298.5h0M1561.6 336.1h0M1557.2 359.2h0M1558.1 346.3h0M1546.8 324.9h0M1535.7 355.7h0M1536.2 349.4h0M1532.3 362.4h0M1547.7 365.5h0M1549.5 354.7h0M1534.5 364h0M1544.6 358.2h0M1548 362.4h0M1557.5 356.4h0M1550.7 345.9h0M1557.2 343.9h0M1532.6 354.3h0M1562.5 353.4h0M1547 340.7h0M1544.1 366.3h0M1536.3 343.7h0M1549.3 349.3h0M1545.5 326.9h0M1548.4 369.4h0M1551.6 367.3h0M1555.6 365.3h0M1556.8 352.9h0M1535.2 348h0M1547.8 346h0M1531.9 331.1h0M1561.1 322.6h0M1559.5 364h0M1533.5 363.3h0M1562.4 358.8h0M1533 364.2h0M1551.7 338.7h0M1557.3 364.9h0M1548.3 356h0M1551.3 365.1h0M1543.5 361.2h0M1548.4 369.4h0M1557.9 346.9h0M1545.3 364h0M1560.4 330.3h0M1557.4 355.3h0M1542.6 364.7h0M1550.4 313.4h0M1561 305.2h0M1556.3 363.1h0M1548.8 355h0M1538.6 356h0M1542.9 360.5h0M1543.3 350.4h0M1556.7 363.8h0M1562.9 345.1h0M1546.7 327.5h0M1554.4 358.1h0M1560.5 349.9h0M1553.7 369h0M1533.3 353.9h0M1553.4 360.1h0M1537.6 351.8h0M1561.5 368.1h0M1539.1 357.1h0M1552.4 351.2h0M1547.7 369.1h0M1546.3 362.2h0M1562.1 357.6h0M1543.6 360.6h0M1535.8 358.6h0M1547.5 340.7h0M1538.3 321.2h0M1549.8 355.2h0M1530 351.4h0M1535.5 349.2h0M1533.4 339.3h0M1542.5 354.8h0M1530.3 352.9h0M1548.8 360h0M1540.9 356.1h0M1548.8 355.1h0M1539.2 354.3h0M1535.5 357.6h0M1543.9 357.4h0M1543.2 361.7h0M1560.5 350.8h0M1532.9 344.8h0M1531 348.7h0M1531.2 348.1h0M1536.7 354.8h0M1538.2 341.5h0M1537.8 351.9h0M1536.9 351.2h0M1536.3 351.3h0M1540 351.8h0M1541.4 348.6h0M1535.3 345.3h0M1560.3 342h0M1560.7 350.6h0M1562.1 349h0M1560.8 346.8h0M1559.1 351.3h0M1555.5 344.3h0M1556.2 349.3h0M1555.2 354.2h0M1553.3 349.1h0M1556.3 348.4h0M1553.9 353.1h0M1553 348.6h0M1556.3 350.4h0M1561.3 340.8h0M1561.4 345.9h0M1561 351.6h0M1560.5 342.8h0"/>
<path fill="#ab82ff" d="M1565.2 455L1565.2 349.7L1566.2 349.2L1567.2 347.9L1568.2 351.4L1569.2 350.6L1570.2 351.3L1571.2 353.9L1572.2 351.1L1573.2 351.5L1574.2 350L1575.2 346.7L1576.2 346.9L1577.2 349.1L1578.2 349.1L1579.2 348.2L1580.2 352.7L1581.2 353.8L1582.2 353.6L1583.2 354.1L1584.2 351.9L1585.2 351L1586.2 351.4L1587.2 351.1L1588.2 349.5L1589.2 349.1L1590.2 349.5L1591.2 348.4L1592.2 349.1L1593.2 350.1L1594.2 348.9L1595.2 349.1L1596.2 347.5L1597.2 348.3L1598.2 352.2L1599.2 351.8L1600.2 353.4L1601.2 352.5L1602.2 350.4L1603.2 353.3L1603.3 353.3L1603.3 455Z"/>
<path stroke="#ab82ff" stroke-width="4.6" stroke-linecap="round" fill="none" d="M1592 349.7h0M1588.3 336.6h0M1593.5 330h0M1568.6 359.5h0M1592.8 341.7h0M1595.9 350.7h0M1585.1 352.3h0M1590.5 318.9h0M1597.7 360h0M1592.9 356.7h0M1585.9 352.3h0M1593.3 353.8h0M1594.5 315.5h0M1601.1 365.2h0M1586.2 355.3h0M1585.2 346.9h0M1586 361.3h0M1572.7 333.2h0M1599.7 354.8h0M1573.7 363h0M1577.8 360.8h0M1573.5 353.6h0M1570.7 355.8h0M1592.8 349.2h0M1574.2 324.2h0M1573.5 361.2h0M1576.5 315.7h0M1584 357.4h0M1584.4 364.2h0M1569.2 349.1h0M1582.4 363.5h0M1599.5 335.1h0M1600.5 349.2h0M1576.3 352.3h0M1571.5 357.9h0M1572.4 342.8h0M1594.7 360.7h0M1580.3 352.4h0M1571.2 355.6h0M1592.7 359.6h0M1595.2 359.7h0M1583.9 345.4h0M1583.5 347.6h0M1577.1 345.7h0M1587.2 354.1h0M1567.2 343.3h0M1581.4 357.3h0M1574.4 345.6h0M1580.7 364.6h0M1585.6 345.2h0M1594.9 311h0M1599.4 363.2h0M1592.4 349.3h0M1592.3 355.2h0M1575.4 354.9h0M1587.2 344.4h0M1598.6 352.9h0M1579.3 360.3h0M1569.2 362.2h0M1601.4 349.5h0M1589.7 355.4h0M1579.4 310.2h0M1596.1 356.3h0M1567.6 310.9h0M1575.8 355.8h0M1568.8 359.6h0M1576.7 325.8h0M1595.8 329.7h0M1586.6 360.9h0M1576.8 320.6h0M1570.6 346.6h0M1584.3 359.2h0M1574.8 327.8h0M1584.9 340h0M1594.9 358.2h0M1576.9 357.1h0M1588.6 320.3h0M1597.3 350.5h0M1579.9 346.5h0M1586 359.2h0M1572.8 343.8h0M1599.6 338.5h0M1567.9 344h0M1573.2 352.7h0M1601 351.5h0M1574.8 342.1h0M1585.8 361.9h0M1591.5 360.3h0M1592.1 358.4h0M1575.7 349h0M1581.4 352h0M1581 367h0M1569.1 341.7h0M1595.4 337h0M1599.5 360.7h0M1570 361.2h0M1575 342.1h0M1589.7 352.8h0M1572.5 361.4h0M1575 345.7h0M1601 299.1h0M1590.9 359.3h0M1588.3 329.8h0M1568.3 350.2h0M1598.4 365.2h0M1590.3 359.1h0M1577.3 349.9h0M1575.1 299.4h0M1571.7 318.4h0M1577.4 344.6h0M1574.3 308.1h0M1578.3 308.2h0M1573.9 335.9h0M1587.5 327.4h0M1588.4 337.4h0M1587 331.3h0M1589.6 351.7h0M1587.6 352.4h0M1569.6 317.7h0M1569.4 333.3h0M1569.1 331.1h0M1567.6 333.8h0M1569.7 331.3h0M1572.3 350.5h0M1568.5 333.9h0M1569.2 325.1h0M1596 337.9h0M1594 344.4h0M1597.1 339h0M1597.5 341.8h0M1595.7 320.5h0M1594 348.5h0M1593.6 335.7h0M1596.2 342.1h0M1595.5 343.6h0"/>
<path fill="#bebebe" d="M1603.3 455L1603.3 347.7L1604.3 350.8L1605.3 350.4L1606.3 348.9L1607.3 352.1L1608.3 349L1609.3 349.7L1610.3 352.3L1611.3 352.3L1612.3 348.9L1613.3 349.8L1614.3 351.8L1615.3 348.4L1616.3 351.1L1617.3 351L1618.3 352.1L1619.3 351L1620.3 352L1621.3 349.3L1622.3 348.9L1623.3 350.2L1624.3 347.2L1625.3 347.4L1626.3 344.7L1627.3 344.5L1628.3 347.8L1629.3 347.8L1630.3 347.9L1631.3 349.8L1632.3 349.8L1633.3 349.4L1634.3 347.9L1635.3 349.4L1636.3 349.2L1637.3 350.3L1638.3 350.3L1639.3 349.7L1639.3 349.7L1639.3 455Z"/>
<path stroke="#bebebe" stroke-width="4.6" stroke-linecap="round" fill="none" d="M1605.5 354.8h0M1613.2 327.8h0M1614.9 361.6h0M1622 325.6h0M1609.6 346h0M1611.8 365.6h0M1615.3 350.6h0M1628.7 359.4h0M1636.5 360.4h0M1620.5 329.8h0M1608.4 361.4h0M1625 325.5h0M1615.1 358.4h0M1637.5 354.7h0M1632.2 361.9h0M1610.9 343.6h0M1624.1 352.1h0M1623.8 334.9h0M1621 357.3h0M1619.1 363.6h0M1629.6 322.2h0M1627.2 344.1h0M1629.1 316.7h0M1623.8 348h0M1619.3 360.7h0M1623.4 351.7h0M1607.8 359.3h0M1610.1 358.4h0M1631.4 356.5h0M1607.5 363.6h0M1635.4 355.6h0M1612.5 300.2h0M1627.2 313.4h0M1623.5 354.2h0M1613 358.7h0M1637.3 339.4h0M1635.5 358h0M1620.1 353h0M1605.6 329.5h0M1620.9 341.3h0M1632.1 344.7h0M1626.1 349h0M1616.7 326.7h0M1607.5 340.3h0M1605.7 343.6h0M1607.9 329.3h0M1622.8 315.3h0M1635.3 361.9h0M1611.8 356.7h0M1615 361h0M1622.9 360.1h0M1607.8 318.8h0M1620.6 362.9h0M1618.3 365.4h0M1610.3 365.4h0M1634.8 361.3h0M1633.4 304.7h0M1629.5 321.7h0M1625.1 318.6h0M1637.3 323.7h0M1617.9 357.1h0M1623.8 357.8h0M1612 358.9h0M1636.6 342.1h0M1612.8 359.3h0M1613.9 359.1h0M1628.3 357.6h0M1633.3 355.2h0M1612.5 353.4h0M1608.4 361.6h0M1635.7 361.1h0M1613 338.8h0M1633.9 356.3h0M1608.1 360.1h0M1620.9 359.1h0M1629.6 335.1h0M1610.7 349.1h0M1630.1 340.3h0M1630.3 327.8h0M1634.8 341h0M1630.9 363h0M1630.6 357.4h0M1610.9 343.7h0M1634.1 354.8h0M1636.8 357.1h0M1622.1 341.9h0M1620.7 362.2h0M1610.4 354.5h0M1629.4 360.1h0M1634.2 357.1h0M1621.9 360.4h0M1635.7 357.8h0M1622.9 295.1h0M1629.7 335.6h0M1624.3 355.1h0M1614.4 347.6h0M1621 353.8h0M1624.6 360.6h0M1622 337.1h0M1617.8 352.2h0M1610.2 345.6h0M1610 352.5h0M1610.8 347.3h0M1628.1 301.4h0M1627.4 347.7h0M1629.4 306.8h0M1627.7 323.5h0M1627.3 314.6h0M1627.9 326.6h0M1626.8 331.2h0M1617.8 342.3h0M1618.4 350.5h0M1617.3 354.8h0M1615.7 351h0M1619.8 353.4h0M1610.8 340.1h0M1612.9 345.4h0M1610.2 350.2h0M1629.7 334.6h0M1628.8 335.6h0M1629.7 348.8h0M1627.8 347h0M1631 345.7h0M1629.6 350.5h0"/>
<path fill="#ab82ff" d="M1639.3 455L1639.3 359.9L1640.3 359.1L1641.3 360.2L1642.3 358.5L1643.3 360.4L1644.3 358.5L1645.3 358.9L1646.3 359.6L1647.3 359.9L1648.3 357.5L1649.3 359.7L1650.3 359.2L1651.3 359.1L1652.3 356.6L1653.3 360.4L1654.3 357.6L1655.3 362.2L1656.3 360.7L1657.3 362.9L1658.3 362.1L1659.3 363.8L1660.3 360L1661.3 363.6L1662.3 361.5L1663.3 364.4L1664.3 363.7L1665.3 362.2L1666.3 361L1667.3 362.1L1668.3 364.3L1669.3 363L1670.3 361.3L1671.3 362.8L1672.3 363.1L1673.3 358L1674.3 360.7L1674.7 360.7L1674.7 455Z"/>
<path stroke="#ab82ff" stroke-width="4.6" stroke-linecap="round" fill="none" d="M1669.8 321.6h0M1665.4 360.2h0M1645.2 361.2h0M1670 373.2h0M1664.2 372.4h0M1651.2 358h0M1643.5 370.4h0M1646.7 343h0M1661.1 365.2h0M1652.9 362h0M1670.9 364.4h0M1646.6 370.5h0M1672.1 340.2h0M1650.8 365.6h0M1643.2 326.5h0M1642.1 313.9h0M1658.5 355.7h0M1646.3 346.6h0M1642.8 364.9h0M1653 370.9h0M1666.2 364.6h0M1648.4 369h0M1642.1 338.6h0M1655.8 368.5h0M1654.3 361.8h0M1662.5 342.8h0M1657.6 374.5h0M1652.4 368h0M1671.2 375.2h0M1672.2 370.5h0M1645.4 342.4h0M1669.9 359.5h0M1670.3 340.4h0M1668.9 368.8h0M1663.3 367.2h0M1668.8 375.5h0M1645.3 355.9h0M1660.1 360.4h0M1662.5 355.8h0M1664.3 368.7h0M1652.9 349.4h0M1668.5 356.7h0M1642.8 350.5h0M1663.1 354.1h0M1648.4 341.4h0M1644.7 337h0M1641.4 359.5h0M1656.2 366.2h0M1668.2 373.3h0M1645.8 371.6h0M1667.6 374.4h0M1652 349.9h0M1659.6 374.7h0M1644.1 344.1h0M1653.5 368.2h0M1648.2 334.2h0M1642.4 357.9h0M1662.6 372.9h0M1657.1 373.5h0M1669.9 371.2h0M1664.6 375.4h0M1655 370.6h0M1667.4 371.9h0M1661.4 373.2h0M1641.5 361.1h0M1658.2 363.5h0M1652.4 365.9h0M1656.7 356.9h0M1652.1 360.7h0M1666 366.4h0M1646.9 367.9h0M1662.3 372.8h0M1667.3 332.9h0M1670.4 361h0M1666.5 353.2h0M1672.4 360.5h0M1661.2 363.3h0M1663.7 367.6h0M1641.3 365h0M1650.3 356.3h0M1665.2 364.9h0M1665.5 370.5h0M1666.3 361h0M1645.7 348.7h0M1644.5 370.8h0M1672.2 376.1h0M1671.7 339.9h0M1643.8 364.9h0M1661 353.7h0M1648.1 367.5h0M1648.7 365.8h0M1647.8 357h0M1657.2 375.9h0M1647.3 364.2h0M1657.2 366.9h0M1650.9 365.4h0M1669.2 359.5h0M1643.1 344.2h0M1642.5 339.8h0M1643.8 360.9h0M1641.1 342.3h0M1643 347.1h0M1642.7 350.1h0M1645.2 349.9h0M1644 361h0M1657.1 335.8h0M1658.8 362.7h0M1655.4 338.4h0M1659.8 360.2h0M1667 347.1h0M1668.5 348.1h0M1669.9 352.4h0M1666.2 356.3h0M1667.8 348.6h0M1666.2 347.8h0M1668 352.4h0M1659.4 357.4h0M1660 360.7h0M1658.2 357.7h0M1659.1 360.7h0M1661 360.3h0M1659.9 359.3h0M1662.3 356.8h0M1666 358.1h0M1660.8 357.3h0M1650.6 358.8h0M1650.6 359.5h0M1652.4 360.8h0M1664.5 345.4h0M1664.5 348.5h0M1662.9 361.2h0M1664 350.6h0M1665.2 360.8h0M1661.4 358.6h0M1664.8 361.6h0M1664.8 358.1h0M1653.6 352.7h0M1655.5 362.3h0M1657.5 357.1h0M1654.4 358.1h0M1654.8 358.9h0"/>
<path fill="#bebebe" d="M1674.7 455L1674.7 349.5L1675.7 347.2L1676.7 348.7L1677.7 350.7L1678.7 349.5L1679.7 349.5L1680.7 348.7L1681.7 348.1L1682.7 348.4L1683.7 350.8L1684.7 351.7L1685.7 352.6L1686.7 354.6L1687.7 352.9L1688.7 354.3L1689.7 351.5L1690.7 351.1L1691.7 352.3L1692.7 350.2L1693.7 353.2L1694.7 354L1695.7 350.7L1696.7 350.5L1697.7 352.3L1698.7 353.2L1699.7 354.2L1700.7 355.4L1701.7 354.8L1702.7 352.6L1703.7 356.3L1704.7 353.7L1705.7 353.1L1706.7 354L1707.7 354.8L1708.7 354L1709.7 355.8L1710.2 354.5L1710.2 354.5L1710.2 455Z"/>
<path stroke="#bebebe" stroke-width="4.6" stroke-linecap="round" fill="none" d="M1689.1 363.6h0M1690.1 346.3h0M1685.4 361.8h0M1703.6 306.5h0M1695 357.7h0M1678.3 362.7h0M1695.9 353.8h0M1705.7 360.3h0M1704.5 361.6h0M1706.1 355.2h0M1685.2 363.1h0M1695.9 361.5h0M1685.1 340.5h0M1701.2 348.8h0M1683.4 342h0M1676.8 360.5h0M1695.2 327.7h0M1696.9 337h0M1686.8 347.5h0M1700.2 349.4h0M1696.7 332.2h0M1684.7 347.4h0M1678.4 362h0M1689.7 354.7h0M1692 365.1h0M1694.7 338.6h0M1704.3 366.9h0M1682 358.3h0M1685.5 365.8h0M1703.3 354.3h0M1676.5 350.5h0M1680.4 354.1h0M1704.7 364.3h0M1684.5 347.9h0M1680.6 361.5h0M1697.8 360.9h0M1679.9 350.5h0M1704.3 334.2h0M1684 331.6h0M1690.4 362.4h0M1676.8 358.6h0M1691.4 352.9h0M1691.3 341h0M1705 366.7h0M1682.2 353.8h0M1698.1 332.5h0M1697 362.1h0M1685.7 360.7h0M1697.8 320.4h0M1704.6 353.2h0M1705 355.3h0M1683.9 331.2h0M1704.2 362.2h0M1696 362.7h0M1686.2 365.8h0M1691 351.4h0M1706.9 363.7h0M1679.8 359.1h0M1682.9 349.9h0M1702.7 347.3h0M1684.7 347.4h0M1686.7 360.6h0M1702 358.5h0M1698.8 366h0M1694.8 363.9h0M1691.1 350.4h0M1676.9 328.9h0M1698.5 355.1h0M1683.2 360.1h0M1686.9 367.6h0M1685.6 365.8h0M1706.1 341.5h0M1691.4 361h0M1692.1 351.2h0M1684.1 346.8h0M1683.1 343.4h0M1694.3 361.9h0M1704.9 352.2h0M1692.6 362.5h0M1683.7 355.4h0M1683.1 351.9h0M1678.3 350.2h0M1679.2 355.2h0M1688.2 362h0M1700.7 355.5h0M1701.3 342.7h0M1706.5 364.8h0M1705.4 364.1h0M1693.3 365.2h0M1706.5 360h0M1689.2 364.2h0M1705.6 363.9h0M1676.9 351.5h0M1694.9 347.7h0M1680.2 351.2h0M1701.6 307.9h0M1682.1 333.3h0M1685.4 336.7h0M1702.9 362.6h0M1701.5 354.6h0M1701.5 354.9h0M1700 355.7h0M1700.7 356.3h0M1699.4 335.5h0M1700.3 356.2h0M1694.9 348.9h0M1701.1 339.8h0"/>
<path fill="#ab82ff" d="M1710.2 455L1710.2 350.6L1711.2 352.6L1712.2 349L1713.2 350L1714.2 349.4L1715.2 347.9L1716.2 349.4L1717.2 351.4L1718.2 349.3L1719.2 349.6L1720.2 352.9L1721.2 350.7L1722.2 352.8L1723.2 352.8L1724.2 352.9L1725.2 351.3L1726.2 352.4L1727.2 353.5L1728.2 356.5L1729.2 352.9L1730.2 353.5L1731.2 352.2L1732.2 349.9L1733.2 347.6L1734.2 345.7L1735.2 347.1L1736.2 349L1737.2 351.1L1738.2 350L1739.2 352.6L1740.2 354.5L1741.2 351.1L1742.2 351.8L1743.2 350.8L1744.2 346.5L1745.2 348.3L1746.2 348.7L1747.2 345.5L1747.7 347.1L1747.7 347.1L1747.7 455Z"/>
<path stroke="#ab82ff" stroke-width="4.6" stroke-linecap="round" fill="none" d="M1726.2 356.7h0M1728.2 352.8h0M1735.6 351.7h0M1720.2 344.2h0M1724.1 354.8h0M1720 363.3h0M1728 362.1h0M1734.3 354.7h0M1727 358.7h0M1735.9 361.5h0M1712.3 309h0M1729.5 347h0M1741.3 306.3h0M1729.3 363.1h0M1714.6 358.7h0M1739.2 306.5h0M1743.3 344.9h0M1717.5 341h0M1713.8 346.4h0M1734.9 340.4h0M1737.2 357.4h0M1742.6 356.9h0M1715 340.1h0M1734 329.6h0M1740.5 333.1h0M1740.1 328.1h0M1744.5 357.1h0M1734.4 349.7h0M1720.2 353h0M1738.4 338.6h0M1735.4 340.2h0M1731.4 360.6h0M1737.7 350.5h0M1735.5 356.5h0M1716.4 343.6h0M1727.6 354.4h0M1735.7 333.8h0M1729.1 350.2h0M1738 358.6h0M1719.6 343.7h0M1714 347.4h0M1722.5 354.3h0M1718.9 353.8h0M1717.4 354.3h0M1738.4 334.7h0M1715.3 351.8h0M1737.5 350.3h0M1733.9 342.4h0M1727.5 349.3h0M1735.1 351.9h0M1741.5 350.5h0M1717.8 356h0M1737.8 356.8h0M1739.4 353.7h0M1735.8 356h0M1736.4 355.1h0M1733 356.9h0M1721 347.8h0M1736.3 342.5h0M1731.5 361.9h0M1732.3 351.5h0M1721.9 355.3h0M1722.2 333h0M1735.1 325.8h0M1739.3 351.7h0M1717 345.4h0M1736.4 361.7h0M1738.1 355.9h0M1722 364.8h0M1725.7 347.5h0M1727.7 357.1h0M1718.5 347.1h0M1735.1 319h0M1732.9 339.4h0M1740.6 309.4h0M1714.5 361.6h0M1718.9 356.7h0M1724.6 359.5h0M1713.2 347h0M1712.3 358.8h0M1726.9 353.1h0M1721.8 365h0M1731.9 358.2h0M1721.5 358h0M1723.8 365.9h0M1730.3 364.7h0M1732.6 356.2h0M1712.1 341h0M1713.8 358.8h0M1743.4 322.4h0M1722 364.8h0M1723.2 356.2h0M1730.4 360.8h0M1718.7 335h0M1732.4 316.5h0M1730 337.6h0M1729.6 354.3h0M1731.2 355.2h0M1714.3 359.5h0M1741.8 333.5h0M1741.6 348.4h0M1737.2 363.8h0M1744.2 302.6h0M1743 325.6h0M1744.3 343.9h0M1741.8 316h0M1743.7 322.8h0M1740.7 320h0M1744.4 315.4h0M1731.1 347h0M1729.3 352.1h0M1729.7 349.1h0M1718.5 335.8h0M1719.3 342h0M1718 340h0M1719.2 344.9h0M1714.7 337.1h0"/>
<path fill="#bebebe" d="M1747.7 455L1747.7 357.4L1748.7 357.3L1749.7 354.6L1750.7 357.8L1751.7 359.2L1752.7 358.6L1753.7 359.7L1754.7 361.7L1755.7 361.2L1756.7 359.5L1757.7 358.9L1758.7 359.5L1759.7 357.9L1760.7 359.8L1761.7 362.2L1762.7 359.3L1763.7 361.6L1764.7 360.8L1765.7 360.4L1766.7 360.7L1767.7 362L1768.7 357.6L1769.7 358.3L1770.7 353.9L1771.7 354.1L1772.7 354.1L1773.7 357L1774.7 357.8L1775.7 362L1776.7 363.4L1777.7 360.5L1777.9 360.5L1777.9 455Z"/>
<path stroke="#bebebe" stroke-width="4.6" stroke-linecap="round" fill="none" d="M1773.7 359.7h0M1775.5 321.1h0M1758.6 364.8h0M1761 372.5h0M1760.7 363.8h0M1770.5 364.3h0M1750.2 364h0M1772.1 359.5h0M1770.3 339.8h0M1760 366.1h0M1761.2 374.9h0M1759.6 355.4h0M1765.9 364.2h0M1763.8 364.3h0M1757.5 355.7h0M1752.3 310.8h0M1762.4 365.4h0M1763.8 371.2h0M1758.1 364.5h0M1762.3 355.6h0M1756.3 371.7h0M1755.6 352.5h0M1774.3 361.5h0M1755.9 368.7h0M1755 372.1h0M1757.8 348.9h0M1770.3 361.7h0M1758.9 367h0M1765.8 354.8h0M1770.7 359.5h0M1750.3 347.6h0M1766.1 340.4h0M1766.2 370.9h0M1751.6 370.7h0M1771.1 367.1h0M1768.8 366.1h0M1757.6 353.6h0M1763.8 370.3h0M1764.4 369.5h0M1751.7 346.8h0M1752.2 367.5h0M1761 352.9h0M1756.6 351.9h0M1771.3 360.4h0M1756.3 351.8h0M1762.9 369h0M1767 364.5h0M1753.4 371.6h0M1766.1 365.6h0M1759.4 362.6h0M1768.8 370.2h0M1752.2 368.8h0M1771 349.3h0M1751.7 364.2h0M1763.3 366.3h0M1769.8 346.9h0M1766.5 363.1h0M1754.8 338.6h0M1765.1 361h0M1771.1 344.2h0M1773.2 366h0M1754.4 305.3h0M1752 360.7h0M1755.2 368.4h0M1771.2 366.6h0M1750.9 361.8h0M1766.8 334.6h0M1753 362h0M1759.5 353.9h0M1769.4 326h0M1750.1 361.4h0M1768.7 365.3h0M1760.5 369.4h0M1752.4 352.7h0M1776 363.7h0M1759.5 340.4h0M1767.2 356.1h0M1754.7 361.5h0M1760.2 361.1h0M1755.2 370h0M1771.2 353.1h0M1751.8 360.8h0M1753.9 371.8h0M1754.2 371.8h0M1764 357.4h0M1762.4 359.1h0M1767.3 364h0M1761.9 363.1h0M1765.4 359.9h0M1763.1 357.8h0M1762.2 358h0M1765.5 359.9h0M1761 362h0M1762.2 358.9h0M1762.5 362h0M1761.7 360.3h0M1761 361.2h0M1767.2 357.5h0M1766.3 361.4h0M1768.5 360.5h0M1767.8 357.9h0M1767.5 362h0M1767.7 358.2h0M1766.9 362.2h0M1758.9 357.1h0M1760.8 361.5h0M1760.3 359.5h0M1757.3 358.8h0M1759.4 359.3h0M1759.2 362h0M1760.6 360.4h0M1758.6 360.8h0M1762.4 356h0M1764.7 358.8h0M1761.4 361.1h0M1762.5 360.4h0M1751.6 357.8h0M1750.2 361.7h0M1750.5 359.2h0M1749.5 359.5h0M1751.6 358.2h0M1749.8 358h0M1750.9 361.4h0M1768.4 333.6h0M1768.2 336.8h0M1767.9 345.9h0M1770 357.6h0M1766.2 337.2h0M1768.5 354.3h0M1769.8 348.2h0M1768.8 335.6h0"/>
<path fill="#ab82ff" d="M1777.9 455L1777.9 347.9L1778.9 351.8L1779.9 349.2L1780.9 350.5L1781.9 348.1L1782.9 350.1L1783.9 348.2L1784.9 348.4L1785.9 348.4L1786.9 349.5L1787.9 349.7L1788.9 350.2L1789.9 352.6L1790.9 349L1791.9 349.5L1792.9 347.9L1793.9 346.8L1794.9 347.8L1795.9 348.2L1796.9 347.4L1797.9 351.5L1798.9 351.1L1799.9 354.8L1800.9 356.4L1801.9 356.6L1802.9 353.7L1803.9 354.2L1804.9 353.3L1805.9 349.2L1806.9 348.7L1807.2 348.7L1807.2 455Z"/>
<path stroke="#ab82ff" stroke-width="4.6" stroke-linecap="round" fill="none" d="M1794.2 353.2h0M1805.3 358.4h0M1784.1 352.3h0M1804.5 363.9h0M1793.7 355.2h0M1796.6 348.6h0M1791 361.9h0M1784.5 353.8h0M1797.2 341.8h0M1790.8 312.8h0M1791.9 355.7h0M1799.3 336.6h0M1804.2 340h0M1783.9 356.9h0M1780 360.6h0M1781.5 354.3h0M1789 360.3h0M1799.4 367.1h0M1783 342.7h0M1791 355.3h0M1782.5 340.9h0M1795.3 348.2h0M1796.1 344.8h0M1787.4 343.6h0M1780 361.3h0M1796.8 337.3h0M1792.8 350.5h0M1787.7 362.2h0M1786.3 333.2h0M1786.8 361h0M1795.9 351.1h0M1784.5 359.7h0M1785.5 350h0M1798.3 353.5h0M1790.1 350.2h0M1804.4 351.3h0M1797.7 363.2h0M1791 336.3h0M1792.2 346.7h0M1780.7 354.2h0M1802.6 350.6h0M1794.3 342.7h0M1782.3 352h0M1795.8 357.9h0M1799.3 347.1h0M1801.6 365.4h0M1794.5 360.7h0M1788.5 336.4h0M1782.4 358.2h0M1786.9 350.9h0M1796.9 352h0M1789.4 337.7h0M1794.9 348.7h0M1797.2 357.6h0M1795 358h0M1779.8 360.9h0M1797.3 328.9h0M1783.1 358.9h0M1802.6 330.7h0M1789.3 359.8h0M1781.1 339.9h0M1799.7 350.4h0M1780.4 355.7h0M1780.7 356.7h0M1801.8 362.8h0M1804.2 362.5h0M1801.6 365.3h0M1781.2 350.7h0M1794.2 308.2h0M1791.5 314.3h0M1781.9 356.6h0M1788.5 361.1h0M1783.7 296.1h0M1793.8 328.6h0M1803.3 326.7h0M1783.9 342.3h0M1805.2 364.1h0M1782.9 346h0M1783.1 362.9h0M1780.2 349.6h0M1790.9 359.5h0M1787.8 325.1h0M1794.8 334.8h0M1793.7 337.8h0M1796.4 349.7h0M1795.9 337.5h0M1796.4 344.8h0M1797.1 347.1h0M1795.7 344.9h0M1785 336.2h0M1785 345.7h0M1783.4 348.8h0M1785.1 337.1h0M1784 337h0M1784.7 346.6h0M1782.9 343.7h0M1785.2 345.7h0M1783.6 321.4h0M1781.6 334.6h0M1785.4 331.8h0M1783 330h0M1783.7 330.9h0M1786.3 334.5h0M1785.2 321.8h0M1785.9 336.5h0M1781.4 340.8h0M1783.4 347.3h0M1781 344.9h0M1783.2 341h0M1781 347.6h0M1781 344.7h0M1779.7 349.2h0M1799.9 333h0M1799.7 333.3h0M1798.8 346.9h0M1801.9 345.8h0M1799.9 348.2h0"/>
<path fill="#bebebe" d="M1807.2 455L1807.2 347.5L1808.2 347L1809.2 348.3L1810.2 349L1811.2 349.3L1812.2 348.8L1813.2 347.5L1814.2 347.3L1815.2 346.8L1816.2 346L1817.2 349.4L1818.2 345.8L1819.2 349.1L1820.2 347.2L1821.2 346.9L1822.2 348.6L1823.2 348.6L1824.2 347L1825.2 347.1L1826.2 347.6L1827.2 347.3L1828.2 347.6L1829.2 349.3L1830.2 350.1L1831.2 352.2L1832.2 351.7L1833.2 348.3L1834.2 351.7L1834.8 352.3L1834.8 352.3L1834.8 455Z"/>
<path stroke="#bebebe" stroke-width="4.6" stroke-linecap="round" fill="none" d="M1831.2 353.4h0M1811.1 336.7h0M1820.9 349.6h0M1826.2 354.4h0M1812.2 333.9h0M1825.5 342.4h0M1832.7 356.3h0M1831.8 365h0M1832.6 354.8h0M1813 335h0M1824.2 358.8h0M1825.7 333.3h0M1811.2 352.1h0M1827.9 345h0M1815.3 343.6h0M1826.2 325.4h0M1824 327.5h0M1828.8 355.9h0M1826.5 355.1h0M1818.9 353.1h0M1816.3 346.6h0M1831.2 328.6h0M1817.5 362.2h0M1821.5 353.3h0M1820.7 344.6h0M1811 350.1h0M1812.5 361.4h0M1812.7 351.5h0M1809.4 359.1h0M1814.2 356h0M1828 340.8h0M1811.6 333.3h0M1828.9 356.4h0M1821.3 345.5h0M1827 353.1h0M1822.7 327.2h0M1812.7 343.1h0M1820.6 357h0M1809.8 336.1h0M1819.8 341h0M1824.1 355.5h0M1828.3 348.5h0M1831.1 363.8h0M1821.2 336.2h0M1819.2 354.9h0M1832 343.2h0M1823.4 346h0M1820.8 345.9h0M1820.3 357.1h0M1820.3 326.3h0M1812.4 361.4h0M1819.7 362.2h0M1822.2 357.7h0M1815.5 314.4h0M1823.7 338.4h0M1812.4 328.8h0M1819.8 352h0M1825 345.9h0M1814.4 355.8h0M1823.3 360.5h0M1826.7 353.9h0M1831.2 361.4h0M1818.5 357h0M1819.4 351.3h0M1823.2 341.2h0M1822 341.8h0M1815.5 351.6h0M1818.1 353.9h0M1824 330.1h0M1819.8 359.1h0M1813.1 335.9h0M1826.7 320.2h0M1830 361h0M1817.4 357.9h0M1810.7 338.6h0M1809 338.7h0M1812.1 350.7h0M1810.1 344.2h0M1809.7 349.6h0M1831.7 341h0M1829.9 350.2h0M1831.8 343.5h0M1833 351.5h0M1833 343.7h0M1832.7 343.2h0M1821.5 343.5h0M1817.6 346.9h0M1823.9 349.5h0M1822.4 345.3h0M1820.8 345.2h0"/>
<path fill="#ab82ff" d="M1834.8 455L1834.8 359L1835.8 360.6L1836.8 359.2L1837.8 354.8L1838.8 358.1L1839.8 354.9L1840.8 356.2L1841.8 356.5L1842.8 355.4L1843.8 353L1844.8 355.4L1845.8 353.2L1846.8 352.3L1847.8 353.4L1848.8 357.1L1849.8 360.4L1850.8 361.7L1851.8 361.6L1852.8 362.8L1853.8 359.7L1854.8 362L1855.8 359.4L1856.8 357.6L1857.8 353.2L1858.8 355L1859.8 353.8L1860.8 354.2L1861 354.2L1861 455Z"/>
<path stroke="#ab82ff" stroke-width="4.6" stroke-linecap="round" fill="none" d="M1841.6 365.6h0M1856.5 338.4h0M1852.7 369.8h0M1849.1 363.6h0M1839.8 357h0M1851.3 373.3h0M1853.2 367.8h0M1856.2 356.8h0M1846.8 358.2h0M1845.2 359.7h0M1845.9 340.7h0M1855.1 331.1h0M1847.5 364h0M1850.8 373.6h0M1845.6 348.8h0M1840.7 346.9h0M1841.7 341.1h0M1842.3 366.2h0M1853.3 344.8h0M1857.5 363.7h0M1854.3 347.4h0M1850.9 362h0M1840.2 339.4h0M1841.9 363.3h0M1848.8 346.5h0M1851.9 361.2h0M1839.2 360.7h0M1838.7 352.4h0M1853.9 360.9h0M1843.2 357.8h0M1842.2 359.8h0M1854 372h0M1837.1 321.1h0M1847.9 354.7h0M1857.6 360.5h0M1857.1 354.7h0M1857.9 351.2h0M1840.8 343.3h0M1858.9 364.3h0M1858.7 334.7h0M1855.7 366.1h0M1857.4 358.8h0M1849.5 322.6h0M1852.7 369.5h0M1847.2 360h0M1852.1 366.3h0M1843.5 354.3h0M1853.1 367.3h0M1847.2 336h0M1840.7 366.2h0M1854.1 366.8h0M1855.8 348.8h0M1852.9 362.8h0M1843.4 348.2h0M1853.4 358.3h0M1843.3 344.4h0M1837.5 354.4h0M1849.6 368h0M1844.8 368h0M1845.4 349.8h0M1842.1 329.7h0M1846.1 360.5h0M1843.2 335.9h0M1844.4 368.2h0M1857 366.2h0M1845.1 367.9h0M1839.3 365.6h0M1854 350.8h0M1847.6 358.9h0M1837.2 369.2h0M1837.1 357.1h0M1846.4 358.3h0M1847.3 353.2h0M1849 354.6h0M1842.5 354.5h0M1842.3 354.2h0M1846.9 354.2h0M1847.4 353.4h0M1849 356.3h0M1846.8 356h0M1850.3 359.4h0M1850.8 362h0M1851.3 360.4h0M1848.8 364.1h0M1850.2 363.7h0M1847.1 362.9h0M1840.1 353.2h0M1839.8 354.8h0M1838.6 357.8h0M1838.4 355.2h0M1842.8 355.2h0M1838.7 355.6h0M1837.9 354.1h0M1843.6 353.6h0M1844.3 342.6h0M1844.9 355.3h0M1845.8 344.1h0M1845.5 348.3h0M1845.5 352.5h0M1844.8 353.5h0M1846.4 353.9h0M1841.9 333.3h0M1842.2 334.1h0M1843.8 339.8h0M1841.5 340.9h0M1843 333.6h0"/>
<path fill="#bebebe" d="M1861 455L1861 353.7L1862 353.8L1863 353.6L1864 356L1865 352L1866 351.8L1867 354.2L1868 354.7L1869 354.2L1870 354.3L1871 351.5L1872 351.8L1873 351.3L1874 354.9L1875 351.3L1876 351.8L1877 353.1L1878 352.8L1879 351.8L1879.5 351.8L1879.5 455Z"/>
<path stroke="#bebebe" stroke-width="4.6" stroke-linecap="round" fill="none" d="M1863.4 338.3h0M1865.5 350.9h0M1868.5 354.7h0M1867.1 366.8h0M1866.6 364.9h0M1872.9 362.4h0M1863.5 360.6h0M1873.2 344.1h0M1875.4 352.5h0M1873.4 361.8h0M1864.4 368.5h0M1866.3 350.4h0M1871.8 344.9h0M1872.8 354.5h0M1871.7 342.6h0M1864.6 363.7h0M1877.5 359.5h0M1869.2 346.7h0M1874.6 319.1h0M1865.7 347.8h0M1868.7 364.7h0M1873.4 339.2h0M1869.4 360.3h0M1868.6 342h0M1874.3 338.5h0M1867.9 361.5h0M1866.6 324.7h0M1866.5 365.1h0M1864.9 365h0M1868.4 337.2h0M1877.3 338.1h0M1866.7 307.6h0M1863.2 357.6h0M1863.1 357.4h0M1865.2 347.2h0M1866.8 359.5h0M1872.2 365h0M1870.6 348.5h0M1873.7 365.8h0M1865.5 356.6h0M1864.2 362.3h0M1875.8 349h0M1865.8 356.6h0M1871.7 364.5h0M1871.6 360.2h0M1865.3 326.6h0M1870.3 359.8h0M1869.7 346.9h0M1872.5 354.6h0M1864.3 367.4h0M1874.4 366.6h0M1865.1 335.2h0M1862.9 336.6h0M1864.7 350.2h0M1866.3 349.7h0M1862.8 338.7h0M1864.4 321h0M1862.8 345.1h0M1865.2 337.2h0M1862.8 326h0M1863.8 325.1h0M1865.4 339.1h0M1863.1 357.6h0"/>
<path fill="#ab82ff" d="M1879.5 455L1879.5 361.8L1880.5 361.4L1881.5 363.6L1882.5 361.7L1883.5 362.8L1884.5 366L1885.5 364.4L1886.5 362.8L1887.5 366.7L1888.5 366.5L1889.5 368.4L1890.5 369.3L1891.5 365.9L1892.5 369.3L1893.5 365.7L1894.5 363L1895.5 361.9L1896.5 362.6L1897.5 361.4L1898.5 360.3L1899.5 362.1L1900.5 363.5L1901.5 365.5L1902.5 366.7L1903.5 368.1L1904.5 368.2L1905.5 365.6L1906.5 363.2L1907.5 364.7L1908.5 362L1909.5 361L1910.5 363.9L1911.5 361.4L1912.5 363.1L1913.5 363.6L1914.5 360.7L1915.5 360.6L1916.5 364.6L1917.5 364.6L1918.5 366.8L1919.5 366.1L1920.5 367.8L1921.5 367.2L1922.5 369.5L1923.5 369.2L1924.5 368.5L1925.5 364L1926.5 366.7L1927.5 363.2L1928.5 363.3L1929 364.3L1929 364.3L1929 455Z"/>
<path stroke="#ab82ff" stroke-width="4.6" stroke-linecap="round" fill="none" d="M1923 344.3h0M1914 345.9h0M1882.8 361.8h0M1924.2 362.7h0M1925.1 363.2h0M1889.9 343.8h0M1884.1 348.8h0M1919.7 350.2h0M1926.3 374h0M1925.1 363.4h0M1886.7 353.5h0M1912.7 371.5h0M1909.4 367.3h0M1889 371.6h0M1902.8 378.2h0M1883.9 364.7h0M1889 361.3h0M1890.3 370.9h0M1923.1 356.6h0M1918.5 360.3h0M1881.9 369.8h0M1901.3 366.1h0M1900.9 372.5h0M1915.9 345.6h0M1918.6 344.7h0M1906.5 362.4h0M1916 369.2h0M1891.6 367.4h0M1920.6 337.7h0M1906.8 323.6h0M1913.2 373.2h0M1914.3 366h0M1924.6 365.7h0M1916.2 352.9h0M1906.9 363.6h0M1889.7 381.1h0M1887.6 377.9h0M1904.8 353h0M1926.7 357.8h0M1902.1 376.6h0M1900.5 369.6h0M1911.4 369.9h0M1919.6 363.1h0M1889.3 376.3h0M1897.9 366.7h0M1888.7 379.5h0M1905 364h0M1914.2 360.7h0M1906.4 351.6h0M1923.2 381.9h0M1917.4 371.1h0M1893.3 357h0M1888.4 362h0M1918.9 363h0M1921.5 360.9h0M1910.8 371.3h0M1901 345h0M1901.3 373h0M1919.8 373.7h0M1921.6 343.4h0M1890.9 355.9h0M1903 378.6h0M1891.4 353h0M1889.2 371h0M1907.5 332.7h0M1927.2 359.7h0M1904.6 358.6h0M1884.4 362.3h0M1908.5 372.9h0M1902.9 368.5h0M1881.8 365.4h0M1900.1 375.4h0M1916.1 352.4h0M1919.2 371h0M1922.3 355h0M1893.5 376h0M1906.1 363.6h0M1915.7 373.4h0M1903.3 364.5h0M1913 364h0M1893.3 350.6h0M1916.3 348.6h0M1916.5 366.8h0M1881.4 371.8h0M1925.5 355.7h0M1895.4 320.8h0M1918.2 370.9h0M1925 380.6h0M1891.8 369.6h0M1889.6 378.5h0M1883 374.8h0M1895.1 357h0M1924.8 369.4h0M1914.3 353.4h0M1903 366.7h0M1909.6 347.7h0M1898.3 345h0M1904.3 377.9h0M1908.8 374.5h0M1890.8 379.7h0M1893.2 343.2h0M1890.7 377h0M1913.2 375h0M1906 376.4h0M1905.4 344.2h0M1882.5 348.4h0M1883.4 318.7h0M1890.8 361.2h0M1882.3 373.8h0M1895.7 363.2h0M1882.1 373.8h0M1893.7 335.8h0M1901.9 370.6h0M1895.3 372.7h0M1895.1 360.1h0M1884.4 344.5h0M1881.5 366.1h0M1884.6 362.1h0M1886.1 357.6h0M1883.2 372.8h0M1887.6 357.9h0M1908.4 364.5h0M1899 367.2h0M1914.8 371.9h0M1899.7 360.8h0M1899.6 360.2h0M1887.7 333.4h0M1920.7 340.5h0M1925.2 366.1h0M1926.7 358.2h0M1915.4 357.9h0M1915.7 370.3h0M1897 375.3h0M1889.1 369.1h0M1919.2 335.3h0M1892.2 351.8h0M1893.5 360.8h0M1892.7 372.2h0M1892.9 367.8h0M1892.8 370.7h0M1892.4 328.8h0M1892.3 338.5h0M1891.6 337.1h0M1888.3 331.7h0M1923.6 358h0M1924.4 364.5h0M1923.8 360.6h0M1922.2 368.5h0M1923 368.3h0M1923.2 371.2h0M1918.6 363.7h0M1918.4 366.6h0M1917.8 366.1h0M1919.3 365.7h0M1917.2 364.3h0M1921.1 368.4h0M1917.2 367.1h0M1917.5 365.9h0M1889.9 355.3h0M1890.3 363.2h0M1892.1 358.9h0M1887.7 358.3h0M1889.1 359.2h0M1890.1 369.2h0M1890.8 361.5h0M1890.4 356.8h0"/>
<path fill="#bebebe" d="M1929 455L1929 359.5L1930 363L1931 364.5L1932 367.6L1933 369.5L1934 373.1L1935 374.1L1936 377L1937 374.7L1938 377.5L1939 377.2L1940 377L1941 377.3L1942 379.1L1943 383.2L1944 381.9L1945 385.7L1946 388.4L1947 388.1L1948 389.6L1949 392.9L1950 395.1L1951 392.6L1952 396L1953 397.9L1954 401L1955 400.9L1956 402.9L1956 402.9L1956 455Z"/>
<path stroke="#bebebe" stroke-width="4.6" stroke-linecap="round" fill="none" d="M1939.7 353.8h0M1934 365.6h0M1946.3 388.1h0M1946.3 392.3h0M1935.1 383.5h0M1937.3 378.1h0M1944.3 387.1h0M1945.3 396.3h0M1940.3 376.9h0M1939.1 390.4h0M1940.1 377.7h0M1940.5 375h0M1947.9 396.8h0M1935.9 387.3h0M1933 314.6h0M1952.7 380.9h0M1936.3 384.7h0M1933.7 379.1h0M1949.8 391.7h0M1937.8 368h0M1931.6 369.2h0M1949.4 403h0M1946.4 371.4h0M1954 373.5h0M1945.8 389.3h0M1931.9 353.1h0M1951.3 396.3h0M1942.9 362.9h0M1941.9 388.7h0M1942.4 388.1h0M1950.4 405h0M1947.7 391.4h0M1953.2 409.7h0M1947.8 391.2h0M1931.1 358h0M1934.9 344.9h0M1952.8 404.6h0M1945.3 385.3h0M1937.3 369.9h0M1952.8 393.1h0M1951.6 398.2h0M1931.3 373.3h0M1935.8 380.4h0M1931.3 374.9h0M1942.2 373.2h0M1938.7 386.6h0M1931.7 377.5h0M1943.7 338.5h0M1946.4 396.7h0M1931.8 378.3h0M1941.2 382.7h0M1952 401.8h0M1940.5 389.9h0M1943.4 386.2h0M1940 345.1h0M1952.1 406.1h0M1946.2 381.5h0M1942.1 354.2h0M1934.3 368.4h0M1944.2 367.3h0M1941.1 385.4h0M1950 388.6h0M1949.3 400.2h0M1941.9 391.6h0M1942.9 352.4h0M1943.3 392.5h0M1945.5 401.6h0M1945.6 393.7h0M1943.5 391.6h0M1953.5 390.3h0M1944.9 377.1h0M1945 377.9h0M1949.3 403.9h0M1953.3 407.9h0M1950.2 404.9h0M1934.6 372.9h0M1933.2 374.7h0M1938.5 374.8h0M1934.7 373.1h0M1936 374.3h0M1936.3 377h0M1934.7 373.8h0M1931.9 373.4h0M1939.8 372.3h0M1940.8 372.3h0M1938.1 372.4h0M1939.8 379.6h0M1938 377.2h0M1937.8 377.7h0"/>
<path fill="#ab82ff" d="M1956 455L1956 409.6L1957 410.5L1958 410.8L1959 410.8L1960 411.5L1961 415.5L1961 415.5L1961 455Z"/>
<path stroke="#ab82ff" stroke-width="4.6" stroke-linecap="round" fill="none" d="M1958.7 415.1h0M1959.1 401.2h0M1958.5 420.5h0M1958.2 409.9h0M1958.1 413.4h0M1958.9 412.1h0M1958.6 411.1h0M1959 417.3h0M1958.3 416.9h0M1958.2 387.6h0M1958.4 413.7h0M1958.7 407h0M1958.6 419.8h0M1958.2 396.9h0M1958.7 395.2h0M1958.9 406.7h0M1959.2 411.9h0"/>
<path stroke="#bebebe" stroke-width="4.6" stroke-linecap="round" d="M1158.6 258.3h0M1158.7 264.7h0M1158.7 270.4h0M1158.9 280.1h0M1158.7 285.9h0M1158.8 293.3h0M1158.1 304.2h0M1158.5 313.4h0M1158.9 315.7h0M1158.6 323.7h0M1158.8 326h0M1158.2 328.3h0M1158.5 330.6h0M1158.3 332.9h0M1158.5 335.2h0M1158.6 337.5h0M1158.1 339.8h0M1161.5 307.5h0M1368 247h0M1368.1 249.6h0M1369.1 252.2h0M1368.8 254.8h0M1367.9 257.4h0M1368.9 260h0M1367.9 262.6h0M1368.6 265.2h0M1367.9 267.8h0M1367.7 270.4h0M1369 273h0M1368 275.6h0M1368 278.2h0M1369.2 287.9h0M1369 293.7h0M1368.1 305.3h0M1369.1 311h0M1368.5 313.8h0M1368.7 316.6h0M1368 319.4h0M1369.1 322.2h0M1368.7 325h0M1369.1 327.8h0M1369 330.6h0M1368.1 333.4h0M1368.2 336.2h0M1367.9 339h0M1367.9 341.8h0M1371.1 320h0M1371.3 323h0M1371.6 326h0M1371 329h0M1371.7 332h0M1371.3 335h0M1371.3 338h0M1371.8 341h0M1158.5 185.2h0M1174.4 211.4h0M1367.8 163h0M1367.8 196.3h0M1367.8 210.6h0M1369 238.4h0M1612 199.7h0M1212 265.9h0"/>
<path stroke="#ab82ff" stroke-width="4.6" stroke-linecap="round" d="M1501.6 220.3h0M1579 213.7h0M1854.6 133.7h0M1854.6 166.4h0M1855 244h0M1855 251h0M1522 306h0M1611 304h0M1670 290h0M1337 285h0"/>
<path stroke="#ff0000" stroke-opacity="0.6" stroke-width="2.2" d="M1131.5 246.6H1982.3"/>
<path stroke="#0000ff" stroke-opacity="0.58" stroke-width="2.2" d="M1131.5 276.1H1982.3"/>
<path stroke="#606060" stroke-width="2.2" fill="none" d="M1131.8 97.9V455M1120.8 455H1131.8M1120.8 395.5H1131.8M1120.8 336H1131.8M1120.8 276.4H1131.8M1120.8 216.9H1131.8M1120.8 157.4H1131.8M1120.8 97.9H1131.8"/>
<text x="1110.6" y="462.7" font-size="25.3" text-anchor="end">0</text>
<text x="1110.6" y="403.2" font-size="25.3" text-anchor="end">2</text>
<text x="1110.6" y="343.7" font-size="25.3" text-anchor="end">4</text>
<text x="1110.6" y="284.2" font-size="25.3" text-anchor="end">6</text>
<text x="1110.6" y="224.7" font-size="25.3" text-anchor="end">8</text>
<text x="1110.6" y="165.1" font-size="25.3" text-anchor="end">10</text>
<text x="1110.6" y="105.6" font-size="25.3" text-anchor="end">12</text>
<path stroke="#9a9a9a" stroke-width="2.2" fill="none" d="M1185.6 455H1958.8"/>
<path stroke="#606060" stroke-width="2.2" fill="none" d="M1185.6 455V465M1240.8 455V465M1291.4 455V465M1337.7 455V465M1383.7 455V465M1428.1 455V465M1471.3 455V465M1511.3 455V465M1549.3 455V465M1586.9 455V465M1624.2 455V465M1659.9 455V465M1694.8 455V465M1730.8 455V465M1764.9 455V465M1794.8 455V465M1822.9 455V465M1849.8 455V465M1872.6 455V465M1906.5 455V465M1944.3 455V465M1958.8 455V465"/>
<text x="1185.6" y="495.5" font-size="24" text-anchor="middle">1</text>
<text x="1240.8" y="495.5" font-size="24" text-anchor="middle">2</text>
<text x="1291.4" y="495.5" font-size="24" text-anchor="middle">3</text>
<text x="1337.7" y="495.5" font-size="24" text-anchor="middle">4</text>
<text x="1383.7" y="495.5" font-size="24" text-anchor="middle">5</text>
<text x="1428.1" y="495.5" font-size="24" text-anchor="middle">6</text>
<text x="1471.3" y="495.5" font-size="24" text-anchor="middle">7</text>
<text x="1511.3" y="495.5" font-size="24" text-anchor="middle">8</text>
<text x="1549.3" y="495.5" font-size="24" text-anchor="middle">9</text>
<text x="1586.9" y="495.5" font-size="24" text-anchor="middle">10</text>
<text x="1624.2" y="495.5" font-size="24" text-anchor="middle">11</text>
<text x="1659.9" y="495.5" font-size="24" text-anchor="middle">12</text>
<text x="1694.8" y="495.5" font-size="24" text-anchor="middle">13</text>
<text x="1730.8" y="495.5" font-size="24" text-anchor="middle">14</text>
<text x="1794.8" y="495.5" font-size="24" text-anchor="middle">16</text>
<text x="1849.8" y="495.5" font-size="24" text-anchor="middle">18</text>
<text x="1906.5" y="495.5" font-size="24" text-anchor="middle">X</text>
<text x="1944.3" y="495.5" font-size="24" text-anchor="middle">Y</text>
<text x="1558.5" y="535.7" font-size="24.7" text-anchor="middle">Chromosome</text>
<text transform="translate(1055.5 277) rotate(-90)" x="0" y="0" font-size="25.5" text-anchor="middle">−Log<tspan font-size="15.8" dy="7.6">10</tspan><tspan dy="-7.6">(</tspan><tspan font-style="italic">p</tspan>)</text>
<g fill="none" stroke="#3333ff" stroke-width="1.6"><circle cx="1158.7" cy="231.3" r="5.6"/><circle cx="1158.7" cy="236.8" r="5.6"/><circle cx="1158.7" cy="246" r="5.6"/><circle cx="1367.8" cy="210.6" r="5.6"/><circle cx="1367.8" cy="238.4" r="5.6"/></g>
<g fill="none" stroke="#ff2222" stroke-width="1.6"><circle cx="1369.4" cy="239.8" r="5.6"/><circle cx="1370.2" cy="245.6" r="5.6"/></g>
<text x="1166.3" y="184.9" font-size="24.3">Rrs1</text>
<text x="1185.4" y="209.8" font-size="24.6">Pard3b</text>
<text x="1176.6" y="239.5" font-size="24.3">Rrs1</text>
<text x="1380.5" y="160.6" font-size="24.3">Actr3b</text>
<text x="1376.5" y="194" font-size="24.3">Gbx1</text>
<text x="1378" y="209.8" font-size="16.3">Prkag2</text>
<text x="1378" y="236" font-size="16.3">Prkag2</text>
<text x="1514" y="219" font-size="24.3">Rbpms</text>
<text x="1623.9" y="199" font-size="24.3">Usp34</text>
<text x="1864.7" y="132.4" font-size="24.3">Wdr7</text>
<text x="1864.7" y="164.8" font-size="24.3">Wdr7</text>
<path fill="#c00000" d="M1384 251.5 L1398.4 254 L1395.3 257.2 L1417.5 286.4 L1410.1 292.8 L1386.5 263.2 L1382.2 265.3 Z"/>
<text x="1417.6" y="299" font-size="24.8" fill="#ff0000">(Htt (<tspan font-style="italic">p</tspan> = 6.0 × 10<tspan dy="-12.5" font-size="17">−8</tspan><tspan dy="12.5">)</tspan></text>
<path fill="#bebebe" d="M122.5 1052.7L122.5 984L123.5 983.1L124.5 985.6L125.5 982.2L126.5 981.5L127.5 984.7L128.5 983.6L129.5 987.7L130.5 987.5L131.5 979.5L132.5 985.1L133.5 986.8L134.5 983.7L135.5 987.7L136.5 995.2L137.5 994.8L138.5 995L139.5 993.5L140.5 994.1L141.5 988.6L142.5 990L143.5 989.1L144.5 990.1L145.5 989.8L146.5 989.7L147.5 982.7L148.5 983.9L149.5 985.6L150.5 989.3L151.5 989.3L152.5 989.7L153.5 989.6L154.5 994.9L155.5 996.8L156.5 1000.6L157.5 1002.1L158.5 997.8L159.5 997.8L160.5 995.7L161.5 995L162.5 995.3L163.5 998.2L164.5 1007L165.5 1013.9L166.5 1015.4L167.5 1020.9L168.5 1022.5L169.5 1032.9L170.5 1031.8L171.5 1039.2L172.5 1030.7L173.5 1026.4L174.5 1021.3L175.5 1010.2L176.5 1005.7L177.5 1005.2L178.5 999.1L179.5 995.9L180.5 1000.9L181.5 1002.5L182.5 999.3L183.5 998.6L184.5 1001.4L185.5 1002.3L186.5 1002.2L187.5 1004.6L188.5 999L189.5 996.5L190.5 998.3L191.5 1000.3L192.5 996.6L193.5 994L194.5 999.4L195.5 1002.9L196.5 1003.8L197.5 1000.3L198.5 1001.8L199.5 1006.1L200.5 1005.2L201.5 1005.7L202.5 1004.8L203.5 1006.2L204.5 1009.6L205.5 1006.8L206.5 1006L207.5 1006.7L208.5 1007.6L209.5 1008.4L210.5 1008.4L211.5 1005.1L212.5 1006.9L213 1006.9L213 1052.7Z"/>
<path stroke="#bebebe" stroke-width="5" stroke-linecap="round" fill="none" d="M132.5 1001h0M175 1029.7h0M141.7 1006h0M206.7 1025.4h0M204.6 1009.1h0M174.1 964.9h0M183.3 1018.9h0M205.7 1019.6h0M203.8 1002.7h0M136.4 1015.1h0M126.3 980.4h0M193 1013.3h0M134.3 997.6h0M193.6 995.3h0M199.5 977.7h0M189.8 991.3h0M125.9 1002.5h0M199.1 1012.9h0M152.8 1008.2h0M153.3 1004.1h0M167.4 1032.9h0M142 1007.8h0M142.1 1008.5h0M133.2 999.6h0M135.8 985.3h0M171.6 1050.9h0M179.8 1012.5h0M126.5 1000.7h0M153.7 1003.7h0M146.3 1004.9h0M196.6 1024.1h0M163.3 1011.7h0M148.9 986h0M143.9 1008.9h0M138.3 961.1h0M154.4 1013.5h0M208.5 1013.3h0M207.2 1021.4h0M194.6 1019.2h0M145 987.8h0M169.1 1031.3h0M157.9 992.9h0M131.2 986h0M140.8 1011.4h0M200.9 1017.7h0M194.8 1015.1h0M187.7 991.3h0M178.7 1015.7h0M182.3 977h0M193.8 1006.1h0M159.1 1016.7h0M191 1016.2h0M143.4 1009h0M138.7 1008.6h0M165.7 1031.6h0M161.2 995.2h0M132.9 1003.4h0M169.7 1020.1h0M203.9 1014.6h0M132.4 976.1h0M210.4 996.2h0M170.4 1045.3h0M175.3 1008.4h0M210.5 1019.1h0M168.3 1037.6h0M171.2 1048.5h0M149 995.6h0M203.7 1022.8h0M146.5 1005h0M198.8 1017.1h0M196 986.7h0M200.2 1002.5h0M141.3 1000.5h0M195.7 1019.3h0M176.6 997h0M205.3 1021h0M134.8 1003.6h0M151.9 998.5h0M148.8 979.7h0M180.7 1007.6h0M196 1018.5h0M180.7 1015.2h0M149.5 1004.3h0M192.7 984.3h0M127.2 987.2h0M129.9 1000.4h0M151.9 976.7h0M162 1005.2h0M155.3 1013.1h0M145.5 1009.3h0M125.7 991.2h0M188.4 1003.7h0M146.9 947h0M131.3 991.8h0M153.4 1007.2h0M207.6 1009.3h0M135.9 1005.3h0M194.6 1013.2h0M150.6 1004.7h0M152.6 997.5h0M151.5 997h0M130 997.2h0M175 1036.3h0M199.5 989.2h0M181.3 1015.4h0M138.9 1001.5h0M149.5 1003.5h0M170.6 1049h0M179.8 996.1h0M125.5 988.4h0M141.1 1003.2h0M187.1 977.4h0M151.7 989.8h0M154.5 975.3h0M139.5 998.4h0M131.7 988.2h0M188.8 984.7h0M190.7 1007.4h0M159.1 1004.1h0M180.6 1007.9h0M186.3 1003.2h0M205.6 1013.4h0M200.3 1006.5h0M157.4 999.6h0M156.1 996h0M200.5 993.4h0M203.2 1009.9h0M167.6 1036.5h0M179.8 984.7h0M155.5 1013.9h0M190 982.9h0M142.3 1008.3h0M134.2 992.7h0M196.5 1020.2h0M192.9 1016.3h0M142.6 999.2h0M190.1 1009h0M184 1012.7h0M157.2 1012.1h0M124.7 1002.9h0M154.9 1000.1h0M141.5 1005.1h0M210.2 1013.9h0M160 994.4h0M186.3 998.6h0M172.8 1037.6h0M132.9 997.5h0M158.4 1014h0M156.1 990.2h0M143.8 1007.8h0M153.5 1007.4h0M126.5 967.3h0M170.5 1049.5h0M166.3 994.7h0M209.1 1021.6h0M192.2 1007.4h0M131.4 992.6h0M194.6 998.5h0M187 962.5h0M157.4 1005.4h0M195.3 986.7h0M199.8 997.3h0M153.9 1003.3h0M178 1017.7h0M151.1 1003.1h0M142.3 1007.5h0M181 1016.1h0M129.4 985.4h0M206.3 1022.8h0M183.7 1017.8h0M143.6 1007h0M180 1009.7h0M195.6 1008.1h0M189.8 987.5h0M175 1038.1h0M138.6 987.9h0M195.5 1008.6h0M206.8 1003h0M159.4 1015.3h0M161.4 980h0M201.4 1026h0M125.1 994.2h0M203.2 996.7h0M196.9 1023.2h0M142.3 989.3h0M162.6 1010.2h0M207.6 1026.9h0M166.6 1005.5h0M185.1 991.7h0M148 992.7h0M209.2 1026.8h0M161.7 948.1h0M138.4 994.4h0M189.3 1012.7h0M210.1 1007.3h0M135.9 942.9h0M200.9 1016.4h0M127 983.3h0M175.1 1011.3h0M131.4 990.6h0M194.4 1001.3h0M139.5 1008.2h0M163.8 1009.9h0M210.1 990.4h0M124.6 992.4h0M136.4 987.3h0M170.2 1019.8h0M203.1 988h0M139.1 1013h0M191.4 1011.8h0M191.7 1012.4h0M160.4 997.3h0M156.4 1011.3h0M158.9 1002.3h0M130.6 999.1h0M174.7 1025.3h0M202.5 1018.7h0M207.7 1009.9h0M157.7 1010.8h0M155.8 1002.2h0M126.6 969.6h0M155.6 1017.1h0M131.9 994h0M147.3 977.3h0M157 987.4h0M148.6 998.3h0M206.8 998.7h0M205.5 1025.4h0M130.4 991.1h0M153.7 1008.4h0M132.5 999.9h0M151.4 994.2h0M210.1 1026.2h0M193.2 1001.7h0M199.5 958.3h0M203.7 1024.6h0M188.4 998.3h0M157.4 1022.1h0M190.3 1004.7h0M190.2 998.7h0M188.1 1018.8h0M205.9 983h0M155 995.4h0M205.6 1019.2h0M153.5 997h0M192 1013.1h0M184.9 978h0M156.8 986.9h0M136.6 1002.9h0M196.6 1016.8h0M149 1001.4h0M156 1010.2h0M160.3 1012.1h0M176 1027h0M147.2 994.2h0M203.2 1022h0M140.2 993.4h0M175 1028.8h0M208.7 1024.8h0M179.2 1012.5h0M196.1 1017.6h0M178.9 997h0M185.4 1017.5h0M150.6 997.3h0M170 1035.6h0M130.4 1007h0M124.7 982.9h0M139.6 994.1h0M164 983.6h0M179.6 989.8h0M133.2 975.4h0M157.5 1021.9h0M198.7 1018.4h0M181 1022.6h0M162.5 1006.8h0M163.4 993.8h0M149.4 971.7h0M138.4 966.7h0M149.2 989.9h0M205 1011h0M198.3 1020.9h0M208.1 1027.4h0M183 995h0M190.8 1000.2h0M176.9 964.3h0M143.9 975.3h0M194.2 1016.8h0M164.6 1019.3h0M137.4 988h0M198.5 1002.5h0M127.5 986.5h0M204.8 1012.1h0M205.1 981.5h0M185.3 1003.5h0M150.7 988.8h0M151.6 1005.3h0M153 1004.8h0M127.8 1002.8h0M148.4 1000.9h0M126.2 983h0M195.9 1017.6h0M186.2 993.8h0M127.1 993h0M175.5 1027.9h0M202.5 1002.1h0M170.9 1041.3h0M196.5 1023.4h0M200.3 1015.1h0M150.8 1005.5h0M196 1016.7h0M202.1 981.9h0M193.1 1012.8h0M145.7 996.1h0M205.9 1013.2h0M155.7 993.8h0M164.6 1014.8h0M163.9 975.8h0M177.5 1023.9h0M180.1 1014h0M139.1 1004.2h0M147.5 960.7h0M143.5 998.4h0M125 1000.9h0M180.9 1011.5h0M181.8 1010.8h0M177.7 1021.4h0M204.4 1015.1h0M126.9 976.3h0M139.1 1006.3h0M180.6 989h0M139.3 1008.9h0M169.1 1037.1h0M164.6 1010h0M210.2 1027.8h0M159.4 995.9h0M194.6 975.8h0M153.6 1005.9h0M182.2 994.7h0M193.6 1003.6h0M135.7 991h0M146.6 1009.7h0M124.7 1000.1h0M156.8 1009.8h0M163.1 1008.4h0M179.3 1013.5h0M193.7 998.7h0M194.7 1008.1h0M171.2 1033.9h0M181.5 1018.5h0M199.4 1023.5h0M148.3 979.5h0M163.8 1016.2h0M202.2 1012.4h0M126.1 995.9h0M154.2 1010.6h0M186.9 1019h0M131.7 972.1h0M174.2 1032.5h0M201.1 1009.9h0M198.2 1016.4h0M150.8 1004h0M165.2 1022.1h0M141.7 997.2h0M205.7 1007.6h0M124.9 996.9h0M179 1015.5h0M210.3 1006.9h0M172.8 1040.8h0M179.6 1009.2h0M174.4 1031.7h0M154.5 1006.3h0M129.6 994.7h0M145 1006.1h0M137.7 995.5h0M163.8 1006.3h0M168.7 1030.3h0M155.7 1013h0M190.9 1000.4h0M137.8 1013h0M154.9 992.8h0M151.3 1006.1h0M161.7 1005.5h0M178.8 1014.1h0M159.1 959.5h0M190.1 1015.2h0M168.4 1040.5h0M209.3 1024.6h0M204.6 1026.6h0M143.9 1003.6h0M152.7 1004.2h0M158.5 1010.8h0M134.2 990h0M184.4 1018.2h0M136.2 1015.1h0M140.3 1004.2h0M178.5 979.9h0M195.4 1020.9h0M146.8 1007h0M130.5 1007.5h0M171.4 1015.7h0M209.1 1028.5h0M146.1 1004h0M198.8 1020.7h0M162.6 986.4h0M192.2 1014.2h0M169.3 1037.2h0M135.3 980h0M183.1 1012.5h0M153.4 1008.7h0M202.6 1022.2h0M175.3 1013.6h0M176.7 1003.5h0M148.3 988.7h0M142.8 992.9h0M189.7 1008h0M187.6 1009h0M125.8 999.2h0M142.7 993.8h0M196.3 1020.5h0M204.4 1026.9h0M161.6 988.5h0M149 976.7h0M128.3 999.1h0M197.2 1005.5h0M135.1 998.6h0M162.2 973.5h0M159.6 989.5h0M158.6 979.7h0M164.1 984.6h0M190.2 947h0M192 975.4h0M191 983.1h0M191.5 968.2h0M191.7 988.4h0M192.8 975.7h0M191.4 997.5h0M193.2 947.5h0M201.8 1005.5h0M202 1007.7h0M200.9 1006.4h0M202.3 1007.8h0M202.3 1007.7h0M202.5 1007.6h0M199.8 1005.9h0M173.4 1018.8h0M173.8 1024.4h0M172 1025.2h0M169.5 1025.7h0M176.2 1019.2h0M173.2 1024.7h0M172 1024.7h0M169.2 1022.6h0M174.5 1024h0M172 1027.8h0M158.2 992.9h0M157.4 995.4h0M158.4 997h0M159 993.7h0M165.9 1007.2h0M169.8 1011.3h0M161.9 1012.2h0M161.8 1013.5h0M164 1016.5h0M162.4 1015.3h0M189.7 990.2h0M189.6 998h0M188.1 996.6h0M190.6 995.4h0M204.6 1009.1h0M208.3 1010.8h0M206.1 1010.8h0M203.5 1011.7h0M206.4 1010.3h0M203.4 1010.8h0M206.6 1009.3h0M191.9 976.4h0M188.8 979.9h0M192.1 987.5h0M193.3 984.7h0M191.3 993.2h0M126.3 980.8h0M129.6 983h0M129 982.2h0M127.6 982.6h0M126.8 981.6h0M125.9 983h0M142.1 981.4h0M141.1 983.8h0M140.2 987.2h0M142.9 988.2h0M140.6 987.5h0M198.2 972.5h0M197.6 1001.8h0M195 985.7h0M195.7 989.9h0M200.2 993.7h0M196.1 1004.5h0M199.9 994.3h0M197.2 1004.3h0M198.8 985.2h0M138.3 993.6h0M141.2 997.4h0M137.1 996.2h0M137.2 996.6h0M137.6 993.8h0M138.2 997.1h0M179 989.2h0M180.9 992.5h0M176.1 991.6h0M176.9 998.1h0M180.5 997.9h0M179.5 997.6h0M178.2 990.5h0M179.3 995.2h0M175.1 997.3h0M182.7 994h0M207.7 999.9h0M208.5 1005.6h0M207.9 1006.3h0M208.3 1004.7h0M207.7 1007.6h0M210.6 1000.7h0M208.3 1008.3h0M208.6 1001.9h0M209.7 1007.1h0M205.8 1001.5h0M202.1 1003.2h0M200.4 1006.3h0M202.4 1007h0M202.1 1007.4h0M199.5 1007.2h0M201.9 1005.2h0M201.6 1007.5h0M204.3 1007.3h0M152.7 965.4h0M152.4 971.5h0M151.9 985.7h0M147 976.2h0M153.9 989.1h0M151.1 973.9h0M153.2 965.6h0M153.6 979.8h0M156.9 988.5h0M151.6 986.1h0M152.8 989.7h0M133 974h0M131.8 975.5h0M133.9 978.8h0M130.3 986.7h0M132.4 976.9h0M133.7 980.2h0M131.2 980.6h0M135.2 981.2h0M131.1 985.7h0M136.3 987.5h0M191.7 997.2h0M190.2 1002.9h0M188.2 1001h0M190 997.7h0M190.7 999.3h0M194.3 999.2h0"/>
<path fill="#ffb90f" d="M213 1052.7L213 998.9L214 1005.3L215 1002.2L216 1006.2L217 1002.3L218 1001.1L219 1000.3L220 1002.5L221 1003.7L222 1004.5L223 1006.3L224 1008.9L225 1009.2L226 1010.5L227 1004.8L228 1010.3L229 1006.7L230 1009.1L231 1008.8L232 1011.1L233 1009.4L234 1009.5L235 1014.7L236 1012.4L237 1013.6L238 1015L239 1021.4L240 1014.8L241 1018.3L242 1018.1L243 1016.5L244 1013.5L245 1009.9L246 1012.7L247 1008.5L248 1005.5L249 1012L250 1011.8L251 1009.7L252 1016.3L253 1009.2L254 1010L255 1009.8L256 1016.1L257 1013.4L258 1012.2L259 1016.2L260 1014.2L261 1017.8L262 1013.4L263 1014.3L264 1015.8L265 1009.9L266 1008.9L267 1003.3L268 1005.2L269 1007.5L270 1006.3L271 1003.7L272 1005.8L273 1011.7L274 1006.1L275 1005.9L276 1008.4L277 1004.9L278 1004.8L279 1009.2L280 1010.5L281 1011.9L282 1017.4L283 1016.4L284 1012.7L285 1017.6L286 1015.1L287 1013.9L288 1011.8L289 1011.7L290 1007.9L291 1007.3L292 1008.9L293 1009.8L294 1010.4L295 1009.3L295.8 1012.1L295.8 1012.1L295.8 1052.7Z"/>
<path stroke="#ffb90f" stroke-width="5" stroke-linecap="round" fill="none" d="M237 1026.6h0M271.3 1020.8h0M288.3 1014.3h0M241.7 1027.6h0M292.1 973.1h0M221.6 1016.6h0M282.9 1026.9h0M286.3 1028.8h0M258.6 1033.3h0M229.9 1016.1h0M266.4 1021.4h0M223.4 1017.8h0M245.8 1031.6h0M277.5 1018.4h0M283.6 1032.1h0M240 1028.3h0M232.6 1005.8h0M292.9 1021.3h0M246.2 1029.3h0M229.6 1029.3h0M284.3 1016.1h0M240.5 1016.5h0M272.3 968.9h0M232.7 1021.2h0M218 1015.6h0M293.7 1007h0M222.8 1026h0M241.2 1012.1h0M287.1 1020.5h0M215.9 1020.5h0M252.4 990.7h0M279.7 998.2h0M235.3 1010.6h0M222.4 982.6h0M266.4 1027h0M274 1010.9h0M288.1 1029.9h0M293.3 1013.8h0M221.1 984h0M280.8 1024.6h0M274.2 1025.2h0M284.5 1028.9h0M260.7 987.8h0M269.6 1017.3h0M277 1022.6h0M250.7 1014.9h0M285.5 1036.3h0M244.1 1014.6h0M220.9 1022.2h0M270.6 999.4h0M256 1032.4h0M280.8 1027.9h0M258.9 1028h0M218.9 1016.6h0M275.1 1019.8h0M227.4 1018h0M291.1 1012.4h0M285.5 1011h0M287.3 1021.1h0M249.1 1025.9h0M236.1 1031.3h0M241.4 1025.2h0M248.3 1024.7h0M238.5 1021.6h0M251.7 1035.9h0M275.2 1015.3h0M243.1 1036.2h0M220.4 1022h0M261.4 1032.2h0M268.1 1016.4h0M247.9 1017.6h0M274.4 1022.9h0M240.2 1017.9h0M222.4 1006h0M237.3 1031.1h0M292 1012.5h0M293.2 1016.4h0M237.9 1006.8h0M247.2 1019.9h0M229 1017.5h0M280.6 1017.8h0M242.9 1033.7h0M288.7 1026.3h0M290.8 1023.8h0M254.2 1013.8h0M275.7 1016.6h0M268.9 1018.4h0M284.2 1027h0M280.9 1006.6h0M291.8 1028.1h0M289.8 1026.2h0M254.2 1024.5h0M221.3 1023.3h0M255.4 1003.2h0M242.1 1027.8h0M253.4 1000.4h0M284.4 1032.8h0M220 1015.1h0M291.3 1024.6h0M284 1022.8h0M234.9 995.5h0M231.5 1021.9h0M227.3 1015.5h0M279.5 1025.6h0M284.6 1023.6h0M216.1 1009.2h0M266.7 1004.8h0M248.4 988.1h0M224.9 976.8h0M284.7 1029.3h0M222.1 1007.6h0M219.9 1006h0M250.9 1020.1h0M234.1 1029.6h0M287.9 1017.2h0M226.3 1030.3h0M289.7 1022.1h0M217.2 1005.5h0M231.1 1010.9h0M220.6 1015.5h0M236.2 1019.4h0M276.9 1008.4h0M286.9 1032.8h0M253.8 1006.3h0M231 977.7h0M286.2 1022.2h0M287.5 985.7h0M282.1 1032.9h0M291.3 1000.2h0M243.4 1033.7h0M250.1 1028.1h0M246.1 1024.8h0M272.8 1027.3h0M216 998.3h0M268.2 1021.8h0M252 1014.7h0M223.3 1015h0M281.9 1019h0M278.7 1004.5h0M269.6 1011h0M261.4 1032.5h0M234 1000.5h0M283.3 1008.3h0M280.5 1024h0M276.1 1024.4h0M243.6 1010.5h0M242.2 1005h0M227.8 1025.7h0M272.1 1017.4h0M226.5 1012.9h0M229.1 1025.2h0M277.9 1020.9h0M234.2 1019h0M256.8 1025.6h0M252.2 1012.2h0M233.3 1022.2h0M242.6 1036.5h0M289.8 1021.7h0M291.8 1016.3h0M223.9 1012.9h0M267.7 1024.8h0M274.8 1021.6h0M288.6 1027.5h0M251.6 975.3h0M271.8 999.4h0M259.7 1029.4h0M234.6 1029.4h0M221.9 1022.7h0M293.8 1026.7h0M275.3 1009.7h0M282.4 1035.6h0M285.5 1036.2h0M243.1 1015.7h0M279.2 1027.4h0M229.1 1019.7h0M282.7 1024.9h0M285 1029h0M261.5 1037.7h0M292.4 1021.2h0M256 991.7h0M259.7 1033.6h0M284.2 1032.6h0M242.4 1026.7h0M249.9 1031h0M245.6 1018.5h0M278.7 1013.2h0M250.9 1021.2h0M224.3 1017.1h0M258 988h0M251 1022.5h0M279.3 1013.5h0M262.9 1016.3h0M290.8 1025.3h0M271.8 1020.7h0M250.9 1021.2h0M236.3 1008h0M250.4 967.9h0M282.6 1019.6h0M276.7 1018.5h0M252.5 1007.3h0M284.9 971h0M252.9 1000h0M235.2 1014.6h0M289.2 1004.4h0M231.1 1028h0M232.3 1020.9h0M226 1026.3h0M222 1005h0M279.3 1026.1h0M257.8 1028.6h0M251.3 1017.7h0M215.5 1024.2h0M266.4 1020.4h0M285.4 1019.5h0M292.3 1025.5h0M235.7 1021.2h0M249.8 1025.6h0M250.9 1029.4h0M215.9 1022.2h0M270.1 1021.6h0M274.9 1015.6h0M237.7 1021.8h0M244.9 1012.6h0M220.5 1018.3h0M232.1 1029.2h0M248.1 1023.5h0M242.6 1024.7h0M293.2 1026.1h0M268.2 1023h0M260.5 1037.3h0M275.5 996.4h0M217 1015.2h0M232.9 1027.9h0M276.2 1002.7h0M221.1 983.3h0M264 1035.6h0M246.1 1015.2h0M259 1006.1h0M254.4 1020.9h0M217.9 1020h0M269 998.9h0M285.4 1037.4h0M261.4 1037.8h0M279.5 1016h0M261 1027.4h0M289.7 1022.8h0M237.2 1032.4h0M264.8 1000.5h0M264.2 1022.3h0M288.5 1005.3h0M224.6 977h0M227.5 974.3h0M262.6 1027.3h0M293.6 1022.4h0M215.6 1013.4h0M263.7 1011.9h0M264 1034.2h0M217 1001.9h0M289.4 1028.9h0M284.7 1031.5h0M255.9 1034.5h0M273.4 1030.7h0M231.6 993.2h0M288.2 1029.3h0M288.8 1021.6h0M270.7 980.7h0M226.3 1020.6h0M260.6 1034.1h0M222.7 1010.5h0M285.3 997h0M223.5 1009.9h0M226.1 1016.2h0M252.2 1007.6h0M253.1 1027.5h0M244.6 1029.1h0M216.7 1016.2h0M289.9 1025h0M274.8 1008.3h0M273.7 1013.4h0M253.9 1025.7h0M225.7 974.4h0M289 1020.8h0M244.6 1023.2h0M271 1017.2h0M223 993h0M265.7 1028.3h0M268.2 1014.4h0M237.1 1029.4h0M273.2 1011.8h0M231.4 1028h0M242.3 1005.5h0M251.1 1010.8h0M271.3 1013.7h0M254.7 1017.7h0M259 1026.7h0M283 1021.1h0M257.2 1023.5h0M241.6 1005.7h0M246.9 1024.4h0M269.8 1025.4h0M271 999.9h0M248.5 1012.1h0M234.4 1014.1h0M215.5 1017.1h0M239.3 1018.7h0M234.1 1000.1h0M271.6 1009.5h0M272.3 1024.5h0M278 1019.2h0M222.3 1024.4h0M257.9 1027.1h0M225.4 1005.9h0M224.5 1018.8h0M243 1028.5h0M223.5 1023.5h0M262.3 1011.2h0M260.5 1025h0M245.3 974.5h0M253.2 1017.8h0M281 992.3h0M248.2 1016.4h0M287.4 1031.1h0M291.1 1012.9h0M257.1 1001.4h0M225.2 1013.7h0M287.8 1023.4h0M247 1021.1h0M285.7 1023.1h0M280.3 1018.2h0M251.4 1004.7h0M282.9 1036.1h0M246.9 1015.3h0M262.4 1012.1h0M264.3 1029.1h0M268 1023.7h0M244.1 1020.3h0M252.6 999.9h0M260.5 989.5h0M282.6 1035.9h0M217.3 1018.8h0M246.4 1031.5h0M236.9 1007.4h0M242.2 1036.5h0M275.8 1013.6h0M264.2 1006.3h0M238.5 1041.2h0M244.4 1033.8h0M260.5 989.2h0M238.8 1004.5h0M293 1021.6h0M236.6 1021.9h0M243.8 1020.9h0M271.4 1007.9h0M260 1026.1h0M267.7 1020.9h0M245.7 1031.5h0M272 1020.5h0M241 1038h0M255.5 1029.9h0M269.7 1002.7h0M271.8 1023h0M236.8 960h0M226.5 1026.2h0M259.4 990.1h0M218.4 1021.1h0M278.4 1024.8h0M286.7 1031.7h0M270.8 1006.3h0M227.5 989.1h0M225.3 1016.3h0M222.2 1000.2h0M280.3 1025.1h0M261.3 1035.6h0M257 1011.5h0M233.7 1019.5h0M239.7 1022.6h0M260.9 1037h0M268.9 1016.7h0M246.5 1019.9h0M268.6 1018.9h0M255.2 997.6h0M264.9 1014.8h0M223.5 1020.5h0M253.3 1017.6h0M225 1021.5h0M284.9 1031.4h0M241.6 1032.9h0M246.8 1027.4h0M224.6 1024.1h0M256.2 1026.2h0M273 1030.3h0M270.9 991.2h0M271.1 1001.3h0M268.4 998.9h0M269.8 992.6h0M272.5 1001h0M271.7 991.7h0M269 1002.8h0M247.9 989.2h0M252 992.6h0M246.2 996.4h0M245.5 1006.6h0M247.3 1005.6h0M248.2 989.7h0M249.6 996.9h0M249.5 1006.6h0M247.8 1002.8h0M248 1002.7h0M248.8 1007.3h0M243.3 955.7h0M242.7 984.8h0M242.5 1016.4h0M240.8 1016.7h0M241.9 1010.9h0M251.9 1012.4h0M252.5 1013.9h0M253.3 1017.6h0M249.4 1014.3h0M291.5 1004.3h0M291.3 1007h0M293.8 1007.7h0M293.8 1009.1h0M291.2 1009h0M292.3 1008.3h0M287.1 1007.5h0M291.8 1008.9h0M240.1 1007.3h0M240 1009.4h0M239.9 1017.5h0M238.5 1013.6h0M237.2 1016.3h0M235.4 1009.9h0M238.9 1011.4h0M240 1011.8h0M240.2 1011.6h0M236.1 1015.4h0M241.2 1012.2h0M247 1006.4h0M245.1 1010.1h0M247.9 1009.6h0M245.6 1010.4h0M250.3 1006.5h0M243.3 1009h0M245.3 1006.5h0M246.4 1008.7h0M247.3 1007.4h0M249.7 1010h0M275.9 986.5h0M274.2 1000.9h0M278.2 995.3h0M274.1 1009.5h0M271.9 993.6h0M276.8 1010.2h0M274.6 992.1h0M276.9 1003.9h0M273.5 1002.9h0M277.9 999.3h0M274.8 1007.9h0M275.9 996.1h0M274.7 1001.5h0M276.7 1005.4h0M276.1 999.3h0M217.7 986.8h0M221 991.3h0M220.8 997.8h0M217.4 1000.3h0M219.2 1001.9h0M219.8 990.8h0M216.6 988.1h0M218.4 991.8h0M216 996.2h0M270.7 1003.4h0M269.8 1003.8h0M272.5 1004.8h0M272.6 1004.9h0M270.4 1004.9h0M272.8 1004h0M269.6 1005.7h0M272 1003.7h0M269.2 1006.4h0M255.7 1013.8h0M254.1 1014.6h0M258.9 1018.4h0M256.4 1016.4h0M252.5 1017.2h0M259.3 1018.7h0M257.4 1009h0M257.3 1009.9h0M258.2 1014.9h0M259.2 1011.3h0M258 1014h0M257.8 1009.9h0M253.5 1009.4h0M257.3 1011.4h0M251.4 1010.2h0M255.9 1012.2h0M254.7 1010.4h0M252.7 1010.6h0M255.3 1011h0M250.2 1012.7h0M250.5 1012.2h0M240.9 1010.3h0M238.6 1020.1h0M239.9 1017.2h0M242.6 1016.4h0M241.5 1011.2h0M239.9 1020.1h0M237.5 1014h0M237.1 1013h0M241.9 1012.3h0M266.4 998.1h0M262.9 1006h0M265.7 1007.3h0M264.9 1011.5h0M269.4 1009.8h0M267.5 1002.4h0M267.6 1003.2h0M268.9 1009.8h0M266.9 1007.5h0M265.2 1008.9h0M275.1 1004.9h0M276.9 1007.4h0M275.3 1006.9h0M276.6 1005.7h0M272.2 973.4h0M269.6 1000.8h0M272.4 978.4h0M272.2 975.3h0M271.9 986.6h0M272.6 1000.5h0M275.5 982h0M272 987.9h0M270.9 992h0M253.1 969h0M254.4 971h0M255.4 975h0M256.4 1010.4h0M249 971.5h0M253.6 1009.8h0M252.3 977h0M251.8 990.6h0M277.6 983.6h0M277.8 992.4h0M275.4 1005.4h0M279.6 1006.2h0M274.4 990.5h0M280.6 985.9h0M274.4 1003.7h0M276.8 991.9h0M278.5 987.6h0M257.5 951.3h0M257.7 984h0M260.4 1011.9h0M256.6 1005.5h0M255.6 964.9h0M258.8 951.3h0M257.9 951.4h0"/>
<path fill="#bebebe" d="M295.8 1052.7L295.8 1009.8L296.8 1015.4L297.8 1008.6L298.8 1009.4L299.8 1011.3L300.8 1017.7L301.8 1010.1L302.8 1012L303.8 1007.2L304.8 1001.7L305.8 1003L306.8 1001.1L307.8 998.7L308.8 1000.4L309.8 997.5L310.8 997.3L311.8 996.5L312.8 1004.9L313.8 1004.7L314.8 1011.6L315.8 1008.7L316.8 1012.5L317.8 1006.8L318.8 1008.7L319.8 1001.1L320.8 1004.4L321.8 1001.6L322.8 1006.3L323.8 1002.9L324.8 1001.7L325.8 999.4L326.8 999.1L327.8 1001.3L328.8 1008.9L329.8 1007.8L330.8 1011.5L331.8 1008.5L332.8 1010.9L333.8 1012.7L334.8 1012.6L335.8 1010.9L336.8 1007.3L337.8 1009.3L338.8 1007.3L339.8 1009.4L340.8 1009.3L341.8 1008.1L342.8 1010.6L343.8 1001L344.8 1003.8L345.8 1005.3L346.8 1003.8L347.8 1003.4L348.8 1003.3L349.8 1004.5L350.8 1000.8L351.8 1005.6L352.8 1007.4L353.8 1008.5L354.8 1005.8L355.8 1006L356.8 1012.3L357.8 1003.9L358.8 1005.9L359.8 1004.5L360.8 999.8L361.8 1000.1L362.8 1001.3L363.8 1006.5L364.8 1005.7L365.8 1005.3L366.8 1003.2L367.8 1009L368.8 1007.6L369.5 1004.1L369.5 1004.1L369.5 1052.7Z"/>
<path stroke="#bebebe" stroke-width="5" stroke-linecap="round" fill="none" d="M303.7 1022.8h0M312.1 1000.6h0M355.6 1013.8h0M314.5 1013.8h0M331 1027.4h0M325 1014.3h0M340.4 1016.9h0M297.9 1023.9h0M352 1018.5h0M324.2 1020.4h0M336.7 1013.4h0M354.3 1027.3h0M330.7 1027h0M302.1 1014.3h0M365.5 1025.5h0M304 1027.4h0M344.6 1008.1h0M355.5 1023.1h0M343.6 1018.5h0M349 944.1h0M299.8 1019.2h0M355.4 1012.3h0M346.6 1001.8h0M365.9 1020.2h0M364.1 1026.8h0M333.4 1020.4h0M361.3 986.2h0M312.1 1003.8h0M345 1011.9h0M300.4 996.8h0M323.6 1001.8h0M355.2 1023.6h0M298.4 1010.3h0M348.9 1017.8h0M355.1 1026.1h0M334.9 1001.7h0M358.8 973.4h0M364.7 1019.7h0M338.1 1023.5h0M305.4 1009h0M355.9 1013.6h0M303.9 1007.6h0M357.1 1030.1h0M331.5 1026.4h0M301 1037.1h0M354.9 1025.7h0M367.2 1017.3h0M335.2 1030h0M333.7 982.1h0M314.5 1009.9h0M322.3 1015.3h0M336.6 1011.5h0M307 1021.5h0M312.3 993h0M339.5 1026.2h0M336.2 1027.9h0M349.8 1023.8h0M318.9 1020.7h0M364.5 1021.3h0M317.4 1023h0M320.2 982.3h0M317.7 1020h0M366.4 978h0M298.4 1022.2h0M338.1 1007.2h0M306.7 1015.4h0M361.9 968.9h0M300 990.5h0M314.9 1024.9h0M304.1 1020.5h0M310.9 1014.2h0M318.8 1027.8h0M316.5 1030.3h0M318.1 995.7h0M302.4 1028.1h0M303.1 1020.1h0M315.4 1019.7h0M341.3 1013.8h0M359.6 1014.2h0M367.1 1023.3h0M305.2 1015.2h0M304 1024.3h0M341.7 1003.9h0M326 1016.5h0M365.8 1010.6h0M323.2 1019h0M316.5 1027.2h0M336.1 1000.3h0M359.1 1025.1h0M302 987.2h0M328.5 985.8h0M313.7 1008.6h0M329.8 1026.1h0M308.3 1017.8h0M297.8 989.9h0M321.4 948.5h0M356.5 1000.9h0M306.8 1011.2h0M303.7 1022.6h0M336.6 1005.2h0M356.2 1022.6h0M339.8 1019.7h0M329.6 994.6h0M360.9 1010.8h0M312.4 1005.1h0M348.6 1019.2h0M336.3 1016.2h0M349.1 1016.6h0M331.5 1025.7h0M338.4 1006.3h0M328.6 991.2h0M310.2 1014.1h0M360.2 1014.9h0M301.1 1034.6h0M310.7 1017.1h0M339.9 1022h0M354.5 1014h0M339.1 1024.6h0M304.5 1017.2h0M364.1 1018.8h0M365.1 1013.1h0M329.3 1014.9h0M308.4 1019.9h0M346.4 993.2h0M305.9 1017.7h0M352.7 1025.7h0M338.2 984.9h0M345.6 1022.4h0M312 1014.8h0M303.2 1021.2h0M363.9 1018h0M343.9 1021.3h0M337.9 1027.2h0M346.6 1021.9h0M354 1016.5h0M325.6 1011.9h0M325.8 965.8h0M355.5 1014.3h0M361.9 1020.4h0M354.1 996.7h0M312.4 990.8h0M313.7 1001.8h0M308.5 1012.8h0M353.5 1022.1h0M304 1022.8h0M335 1028.5h0M317.5 994.5h0M346.5 989.4h0M310.8 991h0M350.4 1001.6h0M356.9 1022.8h0M319.4 974.6h0M301.9 1002.3h0M304.2 1007.7h0M335.3 1023.9h0M344.5 993.1h0M340.6 1016.2h0M316.2 1014.8h0M323.2 1015.1h0M303.9 996.5h0M320.2 1019.3h0M347.2 1014.3h0M358.3 1016.6h0M332.3 1029.4h0M300.4 1031.1h0M322.8 978.8h0M324.9 1008.8h0M358.7 1019.6h0M318 1026.9h0M308.5 1009.4h0M346.6 1009.1h0M358 1022.7h0M341.6 1027.3h0M352.3 1024.1h0M326 1010.4h0M350.4 1011.8h0M340.1 1020.1h0M303.3 1007.6h0M347.4 1015.8h0M341.8 1025.8h0M327.8 1017.2h0M343.2 1027.2h0M356.5 1021.2h0M353 1017.4h0M345.6 977.9h0M352.3 1025.7h0M321.7 989.5h0M310.1 984.3h0M325 1018.7h0M327.8 1018.5h0M360.1 1023.4h0M365 979.9h0M344.5 1004.8h0M302.6 1022.2h0M342.2 1026.9h0M348.8 1020.1h0M363.6 1026h0M353.9 1014.5h0M324 1015.2h0M350.4 1014.7h0M320.8 1013.8h0M328.7 1003.2h0M316 1018.9h0M350.7 1021.2h0M314.2 1017.3h0M303.1 1021.9h0M364.2 1022.9h0M300 981h0M356.1 991.1h0M332.6 1029.7h0M298.1 1023.1h0M337.7 1028h0M326.3 996.6h0M331.7 1014.3h0M357.6 1021h0M306.8 985.8h0M326.1 1018.8h0M324.6 1011.4h0M320.6 1023.1h0M314 1004.1h0M340.8 1014.8h0M353.3 1020.1h0M301.3 1024.8h0M358.3 1002.9h0M345.4 969.8h0M307.4 1017.5h0M320.5 1020.6h0M358.4 1009h0M338.7 1015.8h0M356.4 1020.9h0M328.8 1016.6h0M335.3 1021.1h0M353.2 1021.8h0M335.1 1019.4h0M359.5 1024.3h0M348.1 1005.5h0M342 992.4h0M331 1018.6h0M335.3 1019.1h0M366.5 1007.8h0M348.2 991.3h0M298.3 1009.5h0M301.6 1005.3h0M350.9 1015.5h0M323.2 1008.7h0M360 1024.3h0M347.2 1022.5h0M334.8 1028.1h0M305.3 1013.3h0M326.5 1010.3h0M367.1 1009.3h0M316.2 1019h0M339.4 969.1h0M321.1 1010.9h0M333 1008.7h0M314 1024.4h0M326 998.9h0M339 1025.6h0M336.6 999.6h0M319.3 1027.5h0M305.1 1016.6h0M333.4 1028.3h0M339.4 1024.6h0M353 994.8h0M361.7 1012.6h0M317.2 1027.7h0M342 1024.2h0M311.9 1015.2h0M345.7 1018.9h0M328.3 1019h0M305.5 966.6h0M336.6 995.6h0M321.2 984.7h0M320.9 1023.2h0M340 1004.8h0M365.5 985.9h0M301.1 1024.5h0M345.8 1014.6h0M318.5 1024.3h0M316.9 1031.6h0M349.1 1007.5h0M318 1017.1h0M319.5 1021.2h0M356.4 1030.3h0M307 997.1h0M353.5 1024.4h0M356.9 1026.4h0M319.1 1028.2h0M310.1 1005.5h0M349.3 1022.2h0M340 1013h0M344.7 1000.9h0M361.9 1014.6h0M357.9 1016.8h0M346.9 1018.5h0M343.9 1015.9h0M365.2 1022h0M336.8 996.1h0M328.9 1025.3h0M329.4 1016.3h0M308.7 1018.1h0M323 1012h0M310.6 1016.4h0M353.7 1020.9h0M330.2 1017.4h0M345.8 1015.8h0M362.6 979.4h0M334.8 1016h0M338.4 986.2h0M298.3 1013.3h0M343.4 1011h0M345.4 1024.5h0M333.8 1026.3h0M322.2 1004.4h0M341.9 1005.6h0M334.5 1001.4h0M367 1014.2h0M347.9 1018.1h0M323.7 1000.6h0M330.7 993h0M326.6 1013.9h0M328.2 1014.2h0M304.1 1015.5h0M351.4 1002.8h0M366.6 1013.9h0M357.7 990.4h0M342.8 1023h0M350.3 1022.5h0M347.1 1016.2h0M301.6 1028.7h0M338.5 1020.6h0M307.9 1006.9h0M360.3 1016.7h0M308.5 1017.8h0M308.3 1018.4h0M336.9 1017.1h0M340.9 1019.2h0M319.6 1019.1h0M358.4 1022.6h0M303.3 1019h0M331.7 1024.4h0M366.6 952.5h0M321.2 996.6h0M330.1 1014.3h0M312.5 1017.5h0M331.4 1006.8h0M336 1025.9h0M346.4 971.8h0M350.6 986.7h0M347.7 994.9h0M346.9 992h0M346.9 1000.8h0M346.6 1004h0M342.6 977.1h0M345.6 985.5h0M348 974.5h0M327.1 952.8h0M326.6 955.6h0M325.3 971.8h0M328.3 958.2h0M328.5 993.9h0M327.4 963.8h0M327 994.6h0M305.7 1002.6h0M305.4 1005.5h0M304.1 1003h0M306.4 1003.6h0M303.9 1003.9h0M311.7 1005.6h0M305.1 1005.6h0M302.9 1003.1h0M305.8 1005.7h0M308.6 989.2h0M308.9 995.3h0M306.8 995.1h0M312.3 992.8h0M309.1 1002.1h0M308.5 995.2h0M306.4 999.1h0M306.3 993.6h0M307.8 994.4h0M310.9 997.4h0M309.5 992.5h0M352.5 1006.6h0M352 1006.9h0M353.7 1010.1h0M353.8 1008.7h0M351.5 1007.8h0M351.2 1007.7h0M352.5 1007.2h0M354 1009.4h0M353.2 1010h0M354.5 1007.8h0M351.1 1007.6h0M324.5 979h0M325.1 980.6h0M322.4 989.6h0M326 989h0M324.1 982.9h0M322.8 984.1h0M328.4 995.3h0M323.9 982.2h0M324.6 995.3h0M347.4 995.6h0M345.2 1000.6h0M347.9 1001.6h0M348.5 997.8h0M347.4 995.9h0M345.2 1004.5h0M348.5 1001.1h0M347.9 997.9h0M343.3 999.3h0M360.3 986.1h0M360 1004.5h0M360.3 1004.6h0M363.1 993.4h0M359.3 990.4h0M360.9 990.9h0M323.1 1005.4h0M322.2 1008.5h0M323.6 1007.1h0M325.9 1006.4h0M319.4 1005.9h0M324.5 1007.1h0M324 1008.8h0M321.2 1006.7h0M320.8 1008.8h0M322.5 1006.6h0M330.1 981.3h0M330.4 981.5h0M329.6 982.7h0M327.6 1000.9h0M330.4 995.3h0M329.6 1005.4h0M330.6 987.9h0M307 997h0M306.3 1000.8h0M305.7 998.5h0M307.6 1003.6h0M307.4 1000.9h0M308.9 1001.2h0M335.7 985h0M337.3 1005.7h0M334.4 1001.3h0M334.6 1010.4h0M334.5 993.2h0M332.3 992h0M339.1 1012h0M299.5 1002h0M297.8 1011.6h0M299.9 1011.2h0M301.8 1007.7h0M299.1 1002.8h0"/>
<path fill="#ffb90f" d="M369.5 1052.7L369.5 995L370.5 995.2L371.5 999L372.5 1000.8L373.5 1007.6L374.5 1005.3L375.5 1000.9L376.5 1001.2L377.5 1002.9L378.5 998.9L379.5 999.1L380.5 995.4L381.5 1001.6L382.5 1002.2L383.5 1001.7L384.5 1002L385.5 998.4L386.5 1003.2L387.5 994.2L388.5 993.1L389.5 991.5L390.5 992.1L391.5 994.2L392.5 996.3L393.5 1002L394.5 1003.6L395.5 996.3L396.5 1000.6L397.5 997.7L398.5 1004.4L399.5 1005L400.5 1003.3L401.5 1003.7L402.5 1005.5L403.5 1003.1L404.5 1007.2L405.5 1004.9L406.5 1003.9L407.5 1002L408.5 997.9L408.8 997.9L408.8 1052.7Z"/>
<path stroke="#ffb90f" stroke-width="5" stroke-linecap="round" fill="none" d="M394.1 1000.2h0M393.1 1000.6h0M402.1 1015.6h0M372.1 1016.3h0M389.9 1001.4h0M389.8 1009h0M402.9 1014.4h0M385.9 999.7h0M384.9 1022.3h0M392.8 985.3h0M401.6 1022.5h0M397.5 974.5h0M377 1012.8h0M406.3 1020.5h0M375.4 1012.9h0M385.6 1017.7h0M373.3 1022h0M380.1 1009.1h0M404.7 1020.5h0M391.4 1007.7h0M384.9 1014.3h0M373.4 1019h0M376.6 960.6h0M400.4 1005.6h0M386.1 1022.5h0M385.2 993.7h0M398.1 1019.8h0M375.2 1020.4h0M390 990.5h0M380.3 999.7h0M393.9 995.5h0M371.9 1000.1h0M379.7 997.5h0M395.3 1014.5h0M377.1 1017.2h0M401.3 1006.4h0M377.5 1006.8h0M397.4 1016.7h0M384.2 1013h0M372.7 1015.8h0M394.1 1008.9h0M405.4 1012.3h0M396.9 1019.9h0M394.1 982.2h0M397 989.5h0M382.2 1011.2h0M393.5 1000.9h0M389 1013.2h0M395.3 1006.3h0M399.6 1022.7h0M400.1 1011.7h0M396.6 1019.1h0M385.2 1015.5h0M397.5 1016.1h0M399 997.6h0M405.1 1023h0M396.1 1020.3h0M379.4 1019.5h0M378.1 1005.2h0M402.2 1021.4h0M396 997.7h0M396.6 1020.3h0M378.3 965.8h0M403.4 990.4h0M396.7 958.8h0M378.8 1011.6h0M383.4 984.4h0M403.5 1019h0M405.8 1015.3h0M384.4 999.6h0M391.8 1013.3h0M383.1 1003.7h0M384 1011h0M394.4 1008.8h0M396.3 1009.6h0M385.5 1006.7h0M374.9 1010.6h0M386.8 1016.6h0M380.9 972h0M376.8 1016.3h0M386.1 1004.2h0M384.5 999.1h0M379.2 1016.5h0M379.4 1010.4h0M378.8 1017.8h0M391.3 1000.7h0M378.4 1010.1h0M382.6 1000h0M401.5 1010.6h0M379.7 1012.4h0M405.8 1017.6h0M389.4 980.1h0M383.6 999.1h0M392.3 986h0M372.8 1015.8h0M388.6 986.9h0M401.6 992.6h0M381.4 1016.6h0M391 998.9h0M400.6 1019h0M388.5 1007.4h0M395 1008.5h0M399.2 1018.7h0M383.6 997.5h0M396.6 1003.3h0M406.6 1023h0M387.7 1005.4h0M389.4 1009.6h0M403 1014.9h0M400.5 1019.1h0M391.2 1001h0M396.1 987.3h0M378.3 989h0M386.6 1020.2h0M373 1008.8h0M387.7 1006.7h0M376.3 1013.8h0M396.9 944.4h0M374.2 1018.9h0M397.9 1011.2h0M378 1009.5h0M374.4 1010.7h0M382 1022.1h0M374.6 1013.6h0M397.3 1015.2h0M389.8 1001.2h0M401.6 1023.6h0M396.8 970.1h0M400.9 1018.4h0M391.8 1014.1h0M378.1 995.8h0M386.4 1014.8h0M382.1 1020.5h0M403.3 1014.4h0M386.8 1019h0M400.7 1018.3h0M397.5 1016.1h0M401.1 1002.2h0M383 1007.8h0M403.8 1002.4h0M395.3 1012.7h0M377.8 1012.7h0M401.1 1023.5h0M373.6 1007.6h0M381.8 1019.1h0M393.7 1006.5h0M375.4 1014.9h0M373.2 1005.1h0M405.4 1023.6h0M390 1010.1h0M375.6 998.4h0M390.9 1009.6h0M385.6 1015.7h0M399.3 1024.2h0M375.6 1002.4h0M385.3 1008.6h0M372.3 1002.7h0M388.3 1004.8h0M376.9 1010.9h0M373.9 1014.3h0M372.6 976h0M398.4 1019.5h0M372 1012.6h0M380.5 1002.6h0M378.2 1012.3h0M400.3 997.1h0M399.3 999.7h0M392.3 967.1h0M379.1 993h0M399.1 1018.4h0M383.3 983.8h0M390.5 1010.6h0M387.2 995.7h0M385.1 1013.8h0M379 1012.8h0M378.8 998.1h0M376.6 1007.3h0M391.1 1002.4h0M375.9 1007.7h0M392.9 1003.8h0M404.2 938.9h0M403 993.9h0M387.6 965.3h0M387.2 999.7h0M378.4 998.7h0M379.9 998.9h0M376.1 999.7h0M379.4 1000.1h0M379.7 1000.5h0M396.9 973.8h0M398.8 990.9h0M396.8 982.6h0M398.7 990.5h0M395 985.1h0M399.2 1001.3h0M398 995.8h0M397.9 993h0M395.6 977.6h0M396.5 985.8h0M392.2 966.9h0M392.9 976.3h0M390 997.9h0M392.6 977.9h0M395.8 973.9h0M379 997.6h0M378.6 998.5h0M376.8 1000.5h0M377.9 1000.2h0M380.9 999.1h0M403.9 981h0M402.8 1000.9h0M402.7 984.6h0M401.7 983.9h0M402.5 981.8h0M401.1 1002.9h0M406.8 988.6h0M404.3 984.9h0M405.6 986.6h0M403.4 986.3h0M385.2 994.8h0M386.5 999.4h0M386.9 996h0M383.7 998.1h0M382.8 1001h0M389.1 952h0M389.4 980.4h0M387 958.7h0M389.8 990h0M388 990.8h0M388.1 976.7h0M390.6 974.2h0M387.4 963.5h0M395.5 966.6h0M395.9 983.6h0M395.4 984.6h0M396.3 991.5h0M397.2 988.4h0M396.8 978.2h0M392.7 972.1h0M393.9 979.8h0M386.9 996.5h0M386.9 998.9h0M387 998.7h0M387.4 1002.1h0M386.7 1000.2h0M398.5 990.1h0M397.4 995.2h0M398.1 996.5h0M399.3 994.5h0M400 1004.7h0M399.9 1005.8h0M400.8 964.3h0M402.3 986.6h0M402.9 978.7h0M399.3 970.6h0M401.6 978.6h0M398.6 980.5h0M400.2 973.6h0M404.2 996.3h0M402.5 1005.3h0M402 984.5h0M401.8 999.6h0M380.2 988.8h0M381.1 998h0M377.9 990.4h0M380.4 996.3h0M378.8 997.4h0"/>
<path fill="#bebebe" d="M408.8 1052.7L408.8 1010.5L409.8 1008.6L410.8 1006.9L411.8 1008.7L412.8 1006.8L413.8 1005.1L414.8 1004.1L415.8 1006.9L416.8 1006L417.8 1004.2L418.8 1001.2L419.8 1006.3L420.8 1003.8L421.8 1003.2L422.8 1001.8L423.8 996.5L424.8 995.6L425.8 998.6L426.8 1008.3L427.8 1010.9L428.8 1009.1L429.8 1011.4L430.8 1006.4L431.8 1008.5L432.8 1013.7L433.8 1012.7L434.8 1008.7L435.8 1009.6L436.8 1002.1L437.8 1003.2L438.8 998.3L439.8 1002.6L440.8 1002.5L441.8 1002.9L442.8 996L443.8 997.6L443.8 997.6L443.8 1052.7Z"/>
<path stroke="#bebebe" stroke-width="5" stroke-linecap="round" fill="none" d="M433 1002.5h0M416.7 1019h0M420 1020.9h0M432.4 1028.1h0M434.1 1030.9h0M434.9 1016.3h0M420.3 1016.3h0M434.7 1026.3h0M437 1009.6h0M427.2 1024h0M434.1 1032.8h0M423.1 986.6h0M422.3 1012.6h0M438 1023.2h0M434.1 1001.6h0M415.8 971h0M437.8 1012.8h0M423.1 1005.6h0M429.2 1028.3h0M412.9 999.2h0M426.7 997.3h0M419.2 1017.5h0M413.8 1013.2h0M426.4 1006.1h0M413.4 1023h0M412.9 1026.7h0M411 1025.9h0M438.5 993.6h0M431.7 1028.4h0M431.7 1024.6h0M412.5 1007h0M439.9 1006h0M440.7 1013.6h0M438.6 1015.4h0M438.7 1000.3h0M417.7 1021.2h0M433 1021.1h0M436 1023h0M418.4 1017.1h0M419 966.2h0M418 1018.1h0M421.4 1008.7h0M414.4 972.3h0M420.4 988.1h0M415.1 1008.7h0M432.7 1031.5h0M431.6 1021.7h0M440 1018.9h0M437.8 1010h0M421.5 1022.2h0M436 996.9h0M438.8 999.6h0M416.6 990.6h0M434.4 1024.9h0M435.8 1029.2h0M432.4 1016.1h0M414.1 1017.3h0M430.5 981.6h0M425.4 1010.1h0M441.2 1021.4h0M431.3 1014.4h0M423 1003.6h0M423 1009.3h0M422.7 991.1h0M414.7 1021h0M429.7 1026h0M425.7 1006.4h0M441.6 1015.9h0M422.3 1012.2h0M441.3 1009.2h0M418.9 1020.4h0M417.4 1019.7h0M425.9 1019h0M427.6 1025.1h0M416.9 1006.9h0M428.9 1025.1h0M438.7 1007.1h0M434.7 1010.6h0M423.6 1015.3h0M428.7 1024.2h0M441.6 1017.8h0M414.3 1022h0M412.5 1021.3h0M417 1024.2h0M426.3 1009.8h0M440.3 1021.9h0M437.1 1003.7h0M431 1002.3h0M435.3 1009.7h0M439.4 967.9h0M424 997.6h0M416.7 997.3h0M410.9 1009.9h0M428.9 1026.2h0M435.8 996.6h0M415.2 996.5h0M433.9 1000.2h0M439.9 1014.9h0M425.5 1015.1h0M424.6 980.1h0M417.2 1023.4h0M433.6 1032.9h0M422.1 1014h0M411.9 1021h0M430.9 1016.9h0M422.1 1018.7h0M434.6 1011.8h0M438.9 1002.3h0M417 999.8h0M426 983.9h0M437.6 1020.9h0M441.6 1020.2h0M414.4 1017.4h0M441.2 1021.3h0M416.2 957.6h0M422.5 1020.8h0M431.8 1005.3h0M421 976.5h0M436.9 1002.8h0M430.6 1019.2h0M438.9 1013.9h0M417.2 1024.8h0M427.7 1021.5h0M422.5 1008.5h0M428.4 1016.3h0M420.6 1024h0M433.6 1024.8h0M431.6 1025.8h0M434.1 1011.7h0M428.3 1029.2h0M431.7 1028.2h0M434.2 1017.1h0M415.8 1017.6h0M432.2 1028.6h0M432 1017.7h0M427.6 1018.3h0M434.1 1020.1h0M411.9 1021.4h0M422.2 1008.3h0M420.6 1002.5h0M421 1013.5h0M432.5 1031.1h0M433.6 1023.6h0M424.7 1014.2h0M425.5 1003.2h0M424 990.8h0M419.1 1008.1h0M428.8 1021.6h0M415.7 998h0M434.9 1016.6h0M412.6 1025.8h0M436.2 1023.9h0M429 1025h0M413.6 1021.4h0M416.6 997.2h0M428.9 1018.5h0M425.9 1010.3h0M413 1015.4h0M412.2 1009.6h0M418.8 1005.3h0M417.4 1018.5h0M429.5 1029.9h0M425.8 1014.5h0M420.9 1021.7h0M439 986h0M421.8 947.3h0M421.2 963.1h0M424 993.2h0M416.2 977.4h0M412.9 996.9h0M411.1 997.9h0M412.6 1000h0M413.7 1004h0M411.3 1004.5h0M416.3 1003.9h0M420.9 1000.4h0M419 1002.4h0M423.1 1000.7h0M418.7 1005.2h0M418.7 1001.2h0M421.1 1004.5h0M418.7 1004.2h0M423.7 1003.3h0M421.8 1006.2h0M439.9 946.6h0M438.9 962.9h0M439.4 978.7h0M437.6 995.5h0M439 953.1h0M440.5 948.1h0M439.4 992.5h0M441.2 977.5h0M441.7 950.2h0M429.8 988.2h0M431.1 1011.3h0M432.4 992.6h0M430.1 1002h0M429.5 1003.5h0M431.5 1009.5h0M430.6 1007.9h0M429.5 1005.6h0M429.7 997.9h0M423.9 964.3h0M424.6 997.5h0M421.7 968.7h0M423.7 981h0M425.4 987.3h0"/>
<path fill="#ffb90f" d="M443.8 1052.7L443.8 1012.7L444.8 1013.5L445.8 1009.9L446.8 1011.7L447.8 1015.5L448.8 1014.4L449.8 1007.3L450.8 1005.9L451.8 1007.4L452.8 1010.1L453.8 1005.1L454.8 1006.4L455.8 1002.7L456.8 1008.7L457.8 1004.1L458.8 1007.9L459.8 1010.8L460.8 1006.5L461.8 1009L462.8 1011.7L463.8 1016.1L464.8 1011.4L465.8 1013.9L466.8 1008.1L467.8 1013.2L468.8 1007.3L469.8 1008.7L470.8 1006.9L471.8 1010L472.8 1009L473.8 1008.5L474.8 1009.1L475.8 1014.1L476.8 1013L477.8 1014.4L478.8 1013.5L479.8 1010.9L480.8 1011.2L481.8 1007.9L482.3 1007.9L482.3 1052.7Z"/>
<path stroke="#ffb90f" stroke-width="5" stroke-linecap="round" fill="none" d="M469.2 1011.6h0M475.9 1028.3h0M456.8 1022.9h0M462.5 1030.4h0M454.2 1022.6h0M464.2 1018.8h0M473.2 1002.3h0M471.2 1026.8h0M475 1026.5h0M468 997h0M467.9 1025h0M467.5 995h0M455.8 1016.4h0M458.4 1012.9h0M465.5 1020.7h0M468.8 1021.4h0M476.7 1027.9h0M477.4 1032.9h0M457.6 1003.2h0M464.5 1021.9h0M452.2 1012.9h0M457.3 988.3h0M456.4 1019.8h0M465.3 1028.7h0M461.2 1008.9h0M459.3 1027.6h0M474.9 1021h0M480.1 1027.5h0M478.2 1014.5h0M477.4 1025.3h0M478.8 1012.8h0M467.3 1028.7h0M451 985.8h0M448.2 1029.2h0M464.5 1028.5h0M446.3 1016.8h0M450.2 1024.1h0M457.9 1024.3h0M475.4 1014.6h0M458.8 1024.7h0M467.6 1032.2h0M455.9 1008.1h0M470.4 1015.4h0M468.3 960.8h0M453.9 1016h0M469.9 1013.2h0M450.6 1022.4h0M446.4 988.6h0M449.1 1032.7h0M450.3 1004.5h0M457.2 1010.1h0M451.2 1021.6h0M458.3 1000.3h0M472.2 1022.3h0M468.2 1025.7h0M465.8 1033.3h0M449 1025.4h0M464.1 1019.9h0M478.7 1032.3h0M449.1 1031.8h0M447.4 992.5h0M460.7 1017.6h0M468.8 989.3h0M464.8 1002.9h0M476.3 1031h0M477.4 1031.9h0M469.3 995.5h0M476.1 1016.5h0M452.8 1006.5h0M461.2 1013.8h0M459.4 1008.8h0M457.1 1026.9h0M463.2 1022.8h0M461.4 1009.6h0M455.1 1022.4h0M447.1 986.1h0M477.5 1026.7h0M473.5 1023.6h0M469.2 1014h0M474.8 1028.3h0M467 1022.5h0M461 1020.9h0M473.7 1021.1h0M468.4 1015.1h0M455 1017.7h0M446.4 1023.5h0M460.9 1021.1h0M470.4 1025h0M455.5 1016.3h0M467.9 1028.1h0M449.9 1020.6h0M457 1014.7h0M471.7 1014.7h0M455.2 998.7h0M456.3 1021.3h0M469.8 1002.3h0M475.7 1029.3h0M469.3 1016.6h0M452.2 1027.3h0M463.1 1021.3h0M474 1020.1h0M473.7 1014.1h0M466.9 1026.9h0M451.1 1022h0M475.3 1023.5h0M470.8 1020.8h0M467.4 1031.6h0M479 1018.3h0M465.6 1033.6h0M468.6 1019.5h0M452.7 1030.1h0M459.2 1010h0M450 1026.2h0M473.3 975.8h0M457.4 1012.8h0M462.9 1025h0M445.8 995.3h0M447.4 1009.6h0M473.1 1025.3h0M454.9 995.6h0M447.4 1017.5h0M461.5 989.8h0M473.4 1027.2h0M469.6 1026.2h0M464.5 1025.1h0M457.4 1019.2h0M464.9 1024.9h0M448.9 997.7h0M479 1007.4h0M470.3 1016.7h0M460.6 1024.4h0M452.5 1029.7h0M460.9 1020.7h0M452.3 1027.2h0M448 1033.3h0M451.9 997.8h0M461.8 1028.3h0M451.7 1018.8h0M470.4 1026.1h0M447.4 1030.1h0M459.4 967h0M464.5 1028.9h0M474.4 1004.6h0M451.4 1027.4h0M478.7 1031.4h0M460.3 1031h0M454.6 996.6h0M468.6 1025.4h0M462.3 1025.7h0M463.3 1016.7h0M449.2 1027h0M468.1 1004.2h0M462.9 1029.1h0M472.7 1016.3h0M451.1 1016.1h0M453.5 1014.7h0M455.3 1017.8h0M452.8 1028.6h0M452.8 997.5h0M473.1 1008.9h0M474.3 1015.2h0M479.7 1030.3h0M449.8 1016.4h0M453.6 1023.3h0M473.3 1024.5h0M449.3 1031.4h0M471.6 1017.1h0M450.1 1023.8h0M479.3 1014.6h0M459.4 995.3h0M463.9 1026.5h0M479.1 969.7h0M454.3 1019.2h0M447.8 1027.3h0M473.4 1028.1h0M477.2 1032.9h0M473.6 1019.9h0M460.8 1012.4h0M464.8 1016.3h0M461.3 983.8h0M469.1 1015.4h0M469.8 1002.1h0M469.8 1008.3h0M469.8 1004.3h0M467.8 1004.3h0M471.2 1003h0M468.4 1007.9h0M453.9 996h0M455.3 1005.6h0M454.2 1001.9h0M453.9 1000.2h0M454.1 1005.8h0M465.2 1008.3h0M466.6 1010.3h0M466.2 1012.7h0M461.6 1010.6h0M465.9 1008.3h0M463 1012.3h0M465.1 1008.5h0M466.2 1013.7h0M463.8 1008.5h0M467.4 1009.2h0M461.9 1011.8h0M457.1 1003.1h0M455.9 1009.8h0M456.4 1004.4h0M459.2 1005.3h0M456.8 1008.6h0M458.3 1010.5h0M456.6 1007h0M457.6 1005.6h0M456.4 1010.2h0M469 997.5h0M468.9 1003.2h0M468.8 997.8h0M467.5 1004.8h0M464.7 999.6h0M468.5 1008.5h0M470.3 1005.1h0M467.1 1007.4h0M471.2 1007.3h0M465.5 995.4h0M462.9 1013.2h0M465.7 999.9h0M467 1002.2h0M466 997.6h0M456.7 1000.5h0M454.8 1004.8h0M455.4 1003.6h0M456.5 1007.5h0M458.2 1011.4h0M456.7 1009.7h0"/>
<path fill="#bebebe" d="M482.3 1052.7L482.3 997.6L483.3 993.4L484.3 996.6L485.3 998.8L486.3 999.2L487.3 994.3L488.3 999.5L489.3 995.5L490.3 992.1L491.3 987.3L492.3 994.2L493.3 989.6L494.3 990.2L495.3 995.1L496.3 998.5L497.3 997.7L498.3 1003.4L499.3 1004.1L500.3 996L501.3 1002.7L502.3 999.7L503.3 999.3L504.3 998.7L505.3 990.5L506.3 995.1L507.3 989.2L508.3 993.9L509.3 988.7L510.3 989.5L511.3 994.1L512.3 994.4L513.3 997.6L514.3 998.4L515 999.5L515 999.5L515 1052.7Z"/>
<path stroke="#bebebe" stroke-width="5" stroke-linecap="round" fill="none" d="M511 1004.9h0M489.8 1004.2h0M502 996.9h0M486.7 1014.2h0M508.3 1007.8h0M506.1 982.2h0M503.2 1015.9h0M507.2 988.3h0M489.2 1012.1h0M491.8 985.5h0M498.1 1008.3h0M498.9 1009h0M496.5 1005.1h0M494.8 1008.5h0M508.2 1001.1h0M502 1009.6h0M510.2 978.2h0M498.3 1011.8h0M497.6 1008.1h0M489.2 1003.8h0M512.6 997.7h0M484.4 1012.5h0M496 1017.9h0M496.8 1001.7h0M496.5 1016.7h0M484.5 981.8h0M492.5 991.8h0M495.9 1010.2h0M489.5 997.8h0M492.9 998h0M508.5 1007.3h0M502.4 1008.7h0M512.5 1010.8h0M485.9 1009.8h0M495.7 979.2h0M503.1 1005h0M485.3 1015.4h0M502.8 1011.5h0M486.1 1011h0M495.5 982.5h0M506.9 997.1h0M497 963.3h0M510 1003.4h0M501 1021.6h0M485.1 1016.2h0M484.8 1015.6h0M496.7 1005.5h0M489.1 992.4h0M489.2 957.1h0M501.6 1008.1h0M510 1005h0M511.3 1004.2h0M509.9 999.7h0M490.6 1008.7h0M484.6 966h0M494.7 1007.4h0M496.5 1016.9h0M507.7 1008.3h0M497.1 1017.5h0M499.1 1010.3h0M495.9 1006.3h0M487.3 1006.3h0M497.4 996.1h0M489 1003.6h0M510 997.2h0M501.1 1005.6h0M496.4 1015.4h0M498.6 982.5h0M501.2 1014.9h0M503.7 998.3h0M484.5 1014.8h0M486.4 1018.2h0M509.7 973.1h0M488.5 1015h0M487.8 1009h0M504.3 1017.2h0M508.1 974.8h0M487.6 1005.7h0M485.1 996.7h0M501.1 1012.9h0M493.2 998.7h0M506 1009.6h0M500.4 1002.2h0M498.9 1016h0M507.7 1003.1h0M509.5 976.7h0M503.6 988.6h0M485.6 1017h0M506 994.1h0M505.1 995.3h0M490.1 986h0M488.1 1016.6h0M508.1 966.2h0M504 1011.3h0M494.4 988.8h0M499.6 1010.1h0M499.5 1015.8h0M504.1 1016.8h0M507.8 1005.3h0M501.9 1019.2h0M497.4 1001.8h0M495.8 969.4h0M488 1015.6h0M488.4 1018.3h0M484.4 994.5h0M489.5 1000.9h0M508.7 1012.6h0M509 991.3h0M510.7 979.3h0M512.8 990.4h0M511.8 1013.7h0M509.5 992.6h0M489.4 1012.7h0M501.9 1017.3h0M501.7 1020h0M504 971.1h0M485.1 1018.7h0M511.7 997.6h0M484.6 994.7h0M511.6 1009.7h0M507 1008h0M488.3 995.9h0M501.9 1019.8h0M500.8 948.8h0M484.3 1014.8h0M496 1002.4h0M493.4 997.1h0M504.9 937.4h0M503.8 1016.4h0M498.2 1014h0M500.1 1014.8h0M484.7 1003.7h0M492.4 1013.3h0M497.9 1019.4h0M492.8 997.5h0M496.7 1010h0M484.7 976h0M511.3 1006.9h0M488.7 1017.4h0M506.1 992.6h0M494.5 1010.3h0M491.5 990.6h0M508.2 1009.8h0M506.8 1000.3h0M507.3 1009.4h0M506 998.4h0M488.7 1004.4h0M501.6 1019.3h0M494.6 974.2h0M503.7 1005.3h0M510.3 966h0M498.4 1009.3h0M489.9 967.8h0M489.9 968.3h0M490 989.1h0M491.6 973.9h0M490.4 981.4h0M498.1 935.8h0M497.1 972.2h0M497.7 965.8h0M496.4 940h0M496.6 955.3h0M497.9 958.9h0M503.1 976.1h0M498.1 992.9h0M487.2 972.1h0M487 978.3h0M487.8 990.9h0M488.5 984.2h0M490.1 985.8h0M491 994.4h0M493.1 989.3h0M488.7 988.7h0M489.8 990.5h0M487.8 988.3h0M486.6 989.8h0M488.4 991.4h0M492.9 987h0M493.5 989h0M491 991h0M491.8 991.3h0M492.3 989.9h0M491.5 991.1h0M494.3 990h0M492.5 990.9h0M491.3 991h0M485.2 952.6h0M487.4 993h0M487.9 996.2h0M486.2 962.4h0M485.2 985.6h0M487.7 958h0M486.5 990.2h0M484.3 983.2h0M492 981.3h0M488.7 987.9h0M492.3 983.8h0M491.3 981.7h0"/>
<path fill="#ffb90f" d="M515 1052.7L515 1000.3L516 1000L517 998.1L518 1002.5L519 1003.2L520 1001.7L521 997.9L522 1004L523 1001.8L524 1006.4L525 1007L526 1005.1L527 1007.4L528 1006.8L529 1005L530 1004.3L531 1004.5L532 996.2L533 1000.3L534 994.8L535 995.6L536 998.2L537 994.9L538 993.1L539 999.2L540 994.3L541 996.8L542 998.7L543 999.8L544 996.7L544.6 999.6L544.6 999.6L544.6 1052.7Z"/>
<path stroke="#ffb90f" stroke-width="5" stroke-linecap="round" fill="none" d="M537.5 972.4h0M535.6 1016.9h0M519.1 1022.3h0M530.9 1020h0M529 1011.4h0M541.2 1011.6h0M535.9 1009.1h0M525.5 1017.7h0M539 1018.6h0M518.6 1008.5h0M524.6 1009.1h0M527 1023.9h0M518.4 1015.2h0M520.7 978h0M518.4 1021.7h0M518.3 1015.8h0M521.3 996.5h0M529.1 1009.2h0M528.1 1008.4h0M520.8 1003.5h0M529.9 1021.6h0M520.1 988.5h0M539.3 998.1h0M525.2 1000h0M518 992.8h0M531.2 997.9h0M525.6 1023.1h0M541.7 980.6h0M539 1011.2h0M523.8 1019.6h0M531.4 994.8h0M519.6 1012.2h0M522.5 1021.5h0M540.8 1013.4h0M521.2 1016.3h0M540.8 1003.5h0M530.4 1008h0M542.6 1007.9h0M525.8 1002.1h0M522.7 980.3h0M530.8 1009.5h0M527.6 1024.2h0M533.9 1013h0M534.4 988.5h0M541.6 1010.3h0M517.7 1020.2h0M528.5 1023.3h0M535.8 996.6h0M537.6 973.7h0M530.9 1024.1h0M530.4 1019.8h0M532 1015.1h0M533.6 994.3h0M532.5 997.3h0M520.9 993.4h0M528.3 1014.1h0M525.1 1013h0M529.5 1025.1h0M529.7 1023h0M536.5 975h0M534.7 1013.5h0M518.3 987.7h0M517.7 1011.1h0M527 1027.1h0M523.2 981.3h0M524.4 1017.8h0M523.4 1009.9h0M519 1016.1h0M536.8 1013.7h0M517.8 1016.5h0M541.5 1014.4h0M519.3 1011.9h0M526.7 1021.4h0M532.9 989h0M533.9 997.5h0M536.4 1006.1h0M533.1 1020.4h0M527.8 1021h0M537.7 996.6h0M518.5 983h0M541 944.7h0M521.7 1015.7h0M517 1008.7h0M522.5 1010.4h0M536.9 1011.1h0M525 1019.5h0M531.2 1019.8h0M523.1 1007.1h0M524.1 1024.5h0M518.7 971.4h0M532.9 1016.4h0M536 970.1h0M517.5 994.6h0M529.8 1020h0M520.3 1020.2h0M538.7 1002.3h0M521.1 1010.2h0M540.2 996.6h0M539.6 997.7h0M538.7 1017.1h0M518.3 1009.3h0M517.2 1003.6h0M529.3 1023.2h0M538.5 1003.2h0M533.1 1013.2h0M541.4 1008.1h0M538.2 1011.8h0M528.2 1017.6h0M532.3 987.6h0M541.2 1009.6h0M535.4 1012.4h0M535 1011.1h0M523 1019.5h0M532.9 1017.6h0M518.8 1021.9h0M534.7 1003.3h0M518.9 1020.8h0M530.5 1020.7h0M525.3 947.5h0M522.8 1017.5h0M517.5 1008.3h0M523.1 1011.1h0M530.3 1010.5h0M531.9 1005.1h0M535.8 1015.9h0M538.7 1012.9h0M528.4 1024.8h0M532.2 975.9h0M533.4 1012.2h0M534 1005.9h0M538.1 979.6h0M537.7 973.9h0M517.8 1013.3h0M528.8 997h0M522.6 969.9h0M519.3 998.3h0M535.5 1014.3h0M537 1007.1h0M533.9 992h0M532.3 996.3h0M538.3 996.1h0M533.6 995.1h0M523 993.6h0M522.9 1001.4h0M522.7 998.1h0M523.6 1004.1h0M522.9 994.2h0M523.6 993.6h0M521.7 1005.6h0M523.2 1009h0M524.3 1007.2h0M520.8 1005.3h0M523.9 1007.5h0M525.1 994.9h0M524.2 1002h0M540.8 996.3h0M541 998.3h0M538.7 996.8h0M541.1 996.7h0M540.4 998.1h0M540.6 999h0M536.1 977.3h0M536.6 995.7h0M539.5 993.1h0M534.5 987.5h0M534.2 990.8h0M537.3 980.3h0M535.3 989.9h0M533.3 990.3h0M539.9 980.5h0M534.1 999h0M539.1 997.4h0M531 938.8h0M531.2 995.8h0M530.9 968.6h0M528 999.6h0M532.4 988.5h0M532.8 996.2h0M535.5 991.7h0M531.9 994.3h0M535.7 991.5h0M533.4 992.6h0M529.8 989.3h0M523.4 991.7h0M525.7 997.6h0M527.7 1002.9h0M524 993.9h0M527 1001.5h0M521.9 995.3h0M524.7 996.1h0"/>
<path fill="#bebebe" d="M544.6 1052.7L544.6 1009.2L545.6 1005.3L546.6 1007.9L547.6 1003.4L548.6 999.9L549.6 998.8L550.6 1003.2L551.6 1005.5L552.6 1003.4L553.6 1009.3L554.6 1005.7L555.6 1002.8L556.6 1003.3L557.6 1002.8L558.6 1003L559.6 1004.4L560.6 1004.6L561.6 999.9L562.6 1005.7L563.6 1001.8L564.6 1005.8L565.6 1003.7L566.6 1010.3L567.6 1009.9L568.6 1013.2L569.6 1014.4L570.6 1007.4L571.6 1004L572.6 1001L573.6 996.1L574.6 999L575.6 999.1L575.9 999.1L575.9 1052.7Z"/>
<path stroke="#bebebe" stroke-width="5" stroke-linecap="round" fill="none" d="M563 1023h0M551.5 1009h0M556.9 1006.1h0M570.7 1008.4h0M570.5 1025.1h0M562.1 1015.7h0M551.4 1007h0M549.4 1018.9h0M554.7 1009.5h0M556.4 999.8h0M558.1 992.7h0M550.2 1012.9h0M552 1021.2h0M555.9 990h0M561.5 1013.3h0M558.9 948.3h0M555.7 1018.3h0M554.3 1017.1h0M564.9 999.7h0M547.2 988.8h0M562.8 1018.8h0M571.9 994.2h0M572.8 1000h0M553.9 986.6h0M567.8 1029.2h0M568.7 1028.9h0M565.7 995h0M569 989.4h0M566.6 1030.3h0M551.9 986.1h0M550.3 1019h0M568.5 1014h0M569.7 1017.7h0M556.3 1005.8h0M550.9 989.9h0M562.4 1001.2h0M563.2 1017h0M549.5 1015.1h0M568.3 1031.7h0M568.6 1014.9h0M560.5 1000.2h0M560.6 1008.3h0M572.8 1017.7h0M554.7 1005h0M558.7 1005h0M547.9 1021.9h0M570.6 1018h0M547.3 1019.7h0M562.5 1007.4h0M551.6 1024.9h0M554.4 979.4h0M571.7 1022.8h0M568.9 1021.2h0M561.2 1013.7h0M564.3 996.4h0M563.3 1018h0M563.8 1020h0M570.5 1008.8h0M561.8 1019.9h0M562 961.8h0M569.4 1025.8h0M562.6 1023.8h0M572.7 1015.9h0M547.6 1019.4h0M562.4 1005.2h0M546.6 1022.6h0M568.1 1032.9h0M558.9 997.5h0M571.1 1019.8h0M557.1 994.6h0M564 1013.7h0M556.2 1014h0M566.6 1005.4h0M561.5 996.3h0M566 1013.9h0M550.5 1023.2h0M573.1 980.3h0M553.5 1007.6h0M562.6 1025.9h0M571.4 1014.4h0M561.3 991.1h0M567.1 1027.4h0M570.9 980.3h0M570.4 1011.4h0M568.8 1010.6h0M568.2 1003.3h0M553 1018.9h0M571.6 1011.4h0M564.1 1018.8h0M564.1 1009.8h0M551.1 1020.7h0M559.9 1014.5h0M564.9 1002.2h0M564.4 1018.9h0M573.5 1016.1h0M552.8 1003.5h0M558.1 987.9h0M572.1 958.6h0M567.7 1025h0M573.1 1017.9h0M551.6 993.5h0M556.5 993h0M554.5 1023.3h0M571.8 997.5h0M565.2 983.6h0M550 1010.9h0M565.1 1024.9h0M547.8 1022.9h0M556.9 1019.2h0M549.3 1004.3h0M546.7 1007.1h0M559.3 1000.6h0M548.1 1001.6h0M565 1010.2h0M547.9 1023.5h0M548.7 1011.3h0M566.6 1022h0M563.3 987.3h0M558.5 1023.2h0M563.6 1020.7h0M550.9 1020h0M563.2 1007.1h0M550 1015h0M549.8 1013.2h0M561.7 1003.5h0M553.8 1023.3h0M568.1 1023.1h0M563.3 995.9h0M551.4 1006.4h0M559.7 967.9h0M559.5 1013h0M570.2 1018.6h0M560.9 1012.9h0M559.4 1022.2h0M558.1 1020.6h0M567.1 962.7h0M555.3 1017.5h0M568.7 1026.6h0M552.4 1001.2h0M564.2 1017.5h0M572.8 997.1h0M566 1010.3h0M568.6 1021.6h0M565.8 1018.4h0M566.5 1005.9h0M569.5 1031.8h0M549.6 977.6h0M551.2 991.5h0M549.5 998.2h0M551.9 988.6h0M548.5 999.4h0M549.2 996h0M559.6 957.9h0M560.7 978.1h0M554.7 986.2h0M558.3 976.2h0M559.2 1004.3h0M555.8 971.4h0M556.5 998.7h0M558.3 1005.3h0M556.9 975.5h0M553.6 1002.7h0M554.9 980h0M556.8 997.8h0M554.9 998.9h0M550.4 984.1h0M549 1001.2h0M552.2 990.3h0M546.6 999h0M548.7 991.9h0M551.1 987.8h0M553 991.9h0M550.3 1005.8h0M560.2 993.1h0M560.7 999.2h0M561.7 1002.2h0M559 1001.2h0M557.7 1000.5h0M562 1004.3h0M558.8 1002.7h0M548.8 971.8h0M552.4 983h0M547.9 992.4h0M549 986.1h0M549.1 976.3h0M548.3 1000.3h0M566.4 1005.9h0M568.3 1012.7h0M565.7 1006.7h0M567.8 1009.4h0M563.3 1012.6h0M569.8 1008.1h0M569.1 1008.3h0M563.9 1012.7h0M557 978.6h0M553.9 981h0M554 980.4h0M555.4 999.8h0M554.9 1001.6h0M553.7 985.5h0M552.9 968.1h0M554.4 1001.5h0M555.1 993.7h0M551.1 1003.7h0M553.6 1001.2h0M552.5 1005.2h0M551.4 1004.5h0M552.4 1000.6h0M552.4 990.3h0M563.5 982.3h0M561.7 1002.2h0M565.5 993.9h0M565.2 1000.7h0M565.3 989.2h0M549.9 983.2h0M548.1 988h0M550.8 997h0M547.2 989.1h0M550.9 984.2h0M552.1 992.8h0M548.5 994.2h0M561.8 993.2h0M564.2 1001.1h0M567.5 993.9h0M564 997.5h0M556.9 996.9h0M558.7 1001.6h0M560.5 995h0M564.6 1000h0M563.2 1001.3h0M561.2 1000.5h0"/>
<path fill="#ffb90f" d="M575.9 1052.7L575.9 992.9L576.9 994.2L577.9 997.5L578.9 992.5L579.9 994.5L580.9 995.9L581.9 995.1L582.9 997.2L583.9 995L584.9 992.2L585.9 995.2L586.9 995.6L587.9 993.8L588.9 989.4L589.9 994.9L590.9 992.8L591.9 991.5L592.9 987.6L593.9 986L594.9 990.3L595.9 986.9L596.9 984.3L597.9 985.5L598.9 986.4L599.9 989.7L600.9 984.9L601.9 989.6L602.9 992.1L603.9 988.5L604.9 989.9L605.1 989.9L605.1 1052.7Z"/>
<path stroke="#ffb90f" stroke-width="5" stroke-linecap="round" fill="none" d="M581.5 1001.4h0M582.2 1013.7h0M585.4 1010.3h0M599.2 1004.4h0M577.9 1009.4h0M596 1005.1h0M585.7 994.3h0M581.6 1008.6h0M593.4 999.4h0M578.3 1007.3h0M587.8 993h0M591.7 1010.1h0M602.4 1007.4h0M583 1011h0M599.6 977.1h0M580.8 1016.2h0M587 1014.5h0M602 1003h0M595.6 1004.1h0M598.2 1005.3h0M599.1 998.9h0M583.4 1013.5h0M580.2 1008h0M580.5 973.7h0M599.6 999.9h0M598.7 1006.4h0M587.1 1014.2h0M584.2 1011.9h0M596.2 977.1h0M597.1 1000.3h0M578.6 977.8h0M589.5 989.5h0M599.9 1003.3h0M600.2 994.4h0M593.8 972.1h0M585.8 1008.9h0M600.8 999h0M582.7 1016.4h0M591.5 1005h0M592.5 995.9h0M585.9 1003.6h0M598 981h0M586.3 1014.7h0M583.7 999.7h0M591.2 1012.8h0M599.6 981.9h0M580.5 999.3h0M593.3 996.6h0M588.8 1007.6h0M578.6 1006.6h0M584.9 1006.6h0M578.3 986.6h0M594.8 976.3h0M590.2 1007.8h0M600.4 997.9h0M590.2 1003.1h0M591.5 995.3h0M587 1009.7h0M589.4 1004.6h0M598.2 974.9h0M600.6 1002.4h0M598 994.7h0M599.6 1005.9h0M599.7 1004h0M589.3 951h0M581.3 1003.6h0M593.4 1006.3h0M593.7 973h0M591.3 1005.6h0M603 1010.6h0M594.9 1009.1h0M603 980.5h0M582.4 990.3h0M593.3 1003.6h0M595 1004.9h0M582.6 1013.5h0M593.7 997h0M586.4 1011.4h0M578.9 997.9h0M600.2 999.7h0M578 992.3h0M595.2 987.7h0M592.9 979.4h0M588.2 1000.7h0M602.8 1006h0M578.5 993.5h0M591.5 1001.6h0M581.5 1009h0M598.1 999.4h0M579.6 1006h0M601.2 1005.2h0M599.8 1006.1h0M587.1 1010.7h0M593.4 997.3h0M592 995h0M582.3 1013.6h0M580.5 929.7h0M592.2 1002.1h0M600.8 972.9h0M586.1 988.3h0M599.1 1004.5h0M602 987.9h0M598.2 995.6h0M585.9 993.3h0M596.7 1000.6h0M596.3 988.8h0M599.5 1007.4h0M579 965.4h0M585.8 1003.4h0M587.5 1000.7h0M588.7 953.1h0M599.7 952.9h0M580.6 985.8h0M585.6 995.9h0M590.3 1006h0M596 1002h0M591.9 995.2h0M587.7 1003.7h0M581.6 1010.7h0M580.4 992.7h0M600 1005.8h0M582.2 1009.9h0M593.8 1003.7h0M578 990h0M586.7 977.6h0M596 981.8h0M595 1007.2h0M601.9 996.7h0M595.1 993h0M593.2 1002.5h0M585.8 1003.9h0M586.7 1013.2h0M588.5 1008.5h0M593.2 984.4h0M587.3 1015.9h0M592.7 1007.1h0M594.6 1005.1h0M579 990.9h0M581.1 994.1h0M577.9 991.2h0M577.9 992.9h0M578 993.2h0M579.1 994.9h0M579.9 993h0M578.8 995h0M578.7 994.8h0M579.5 995.1h0M591.2 968.3h0M591.9 971.8h0M587.9 993.2h0M591.4 977h0M593.4 981.2h0M590.4 984.9h0M598 983.1h0M602.4 984.2h0M599.9 985.7h0M600.4 987h0M596.8 986.6h0M597.5 976.6h0M597.8 980.1h0M599.9 980.7h0M594.8 985.2h0M599.4 983.4h0M597.4 976.7h0M597.1 985.7h0M598.7 986.6h0M597.7 976.9h0M599 985h0M598.6 979.2h0M601.5 980.4h0M596.7 983h0M595.7 980.6h0M599.1 986.2h0M601 980.8h0M599.5 985.9h0M598.9 982.4h0M582.5 980.5h0M584.2 989.3h0M579.2 994.6h0M584.1 981.9h0M581.8 992.4h0M581.2 986.4h0M579.8 992.1h0M580.4 996.3h0M595.8 980.5h0M596.7 984.7h0M596.3 987.7h0M595.9 985.2h0M594.8 987h0M597.1 980.9h0M598.4 984.3h0M596.5 986.8h0M599.8 981.2h0M598.1 985.3h0M599.3 981.5h0M597.2 986.6h0M595.4 983.1h0M599.8 981.3h0M598 985.5h0M583.5 987.1h0M585.6 997.6h0M584.7 992.4h0M581.7 989.6h0M583.9 997.6h0M583.6 994.5h0M583.6 997.2h0M587.8 988h0M583.3 993.8h0M596.2 982.3h0M597.2 987.5h0M595.2 984.8h0M597 986.7h0M597.8 987.1h0M588.5 940.7h0M586.6 977h0M591.8 980.2h0M587.7 981.7h0"/>
<path fill="#bebebe" d="M605.1 1052.7L605.1 1001.9L606.1 1000.7L607.1 1003.8L608.1 1002.7L609.1 997.8L610.1 1000.7L611.1 994.7L612.1 999L613.1 993L614.1 996.4L615.1 990.9L616.1 993.5L617.1 992L618.1 996.8L619.1 996.2L620.1 1000.3L621.1 996.8L622.1 999.2L623.1 996.4L623.6 996.4L623.6 1052.7Z"/>
<path stroke="#bebebe" stroke-width="5" stroke-linecap="round" fill="none" d="M612.4 995.5h0M611.8 1010.4h0M611 998.4h0M608.5 1012.8h0M613.1 1013h0M615.5 973.3h0M607.3 1013.8h0M609.4 1007h0M611.2 1005.5h0M614 1011h0M614 1004h0M608.6 1018.3h0M612.1 1018.7h0M611.2 1010.8h0M609.1 977.3h0M616.2 991.9h0M609.7 1004.1h0M610.2 1019.5h0M614.8 1003.2h0M615.4 1004.5h0M614.6 1009.7h0M612 1011.9h0M616.7 985.7h0M607.8 1014.3h0M610.4 1011.1h0M616.6 997.1h0M608 978.7h0M607.9 1022.3h0M611.4 1011.3h0M611.2 1006h0M609 1013.8h0M613.5 980.4h0M621.5 993.2h0M613.9 1012.6h0M619.3 1010.9h0M619.7 986.8h0M610.8 995.5h0M618.7 1008.8h0M616.2 974.9h0M616.5 1013.3h0M616.8 1011.8h0M613.7 1007.8h0M615.7 994.5h0M619 1000.2h0M617.5 1001.9h0M615.6 1013.3h0M614.8 1003.1h0M617.2 961.3h0M608.5 1018.2h0M616.9 1010.2h0M611.2 1000.5h0M621.2 1010.6h0M610.5 1010.8h0M609.2 1017.2h0M617.2 1010.5h0M612.4 962.7h0M610.5 1020.5h0M613.1 1003.1h0M616.5 1001.8h0M609.8 993.2h0M616 995.1h0M615.1 1005.9h0M609.5 992.2h0M613.8 1000.7h0M611.9 1014.3h0M612.7 983.8h0M619.3 1000.5h0M619 1003.7h0M617 1009.2h0M611.8 1015.4h0M607.2 1022.5h0M612.2 1014.8h0M618.7 1012.9h0M611 1012h0M617.2 991.2h0M611.6 1017.1h0M608.7 1007.7h0M620.8 1000.4h0M608.3 1012.9h0M611.1 1013.5h0M616.8 1005.2h0M612.6 1012.8h0M620.8 1017.1h0M609.7 1010.4h0M620.5 1016.4h0M620.2 1019.6h0M610.6 1013h0M616.3 992.5h0M617.4 995.7h0M618.9 994.5h0M618.1 995.8h0M616.3 978h0M618.1 990.4h0M617.5 979h0M615.4 991.5h0M617.1 978.7h0M614.7 961.7h0M613.3 991.4h0M617.1 988.1h0M614.8 964.6h0"/>
<path fill="#ffb90f" d="M623.6 1052.7L623.6 1004.6L624.6 1009.2L625.6 1008L626.6 1005.2L627.6 1010.9L628.6 1010L629.6 1007.2L630.6 1008.7L631.6 1010.5L632.6 1005.4L633.6 1002.7L634.6 1006.3L635.6 1003.6L636.6 1007.6L637.6 1009.7L638.6 1009.4L639.6 1007.9L640.6 1002.7L641.6 1002.6L642.6 1002.7L643.6 1003.1L644.6 999.2L645.6 998.1L646.6 996.6L647.6 996L648.6 1002L649.6 1002.5L650.6 1002L651.5 1001.7L651.5 1001.7L651.5 1052.7Z"/>
<path stroke="#ffb90f" stroke-width="5" stroke-linecap="round" fill="none" d="M642 992.2h0M631.1 1012h0M647.7 1009h0M634 997.6h0M639 1026.6h0M633.9 970.5h0M644.7 986h0M630.5 1002.1h0M642 1018.4h0M648 990.9h0M632 994.1h0M627.3 1025.3h0M646.1 1016.6h0M630.6 1021.6h0M645 1007h0M627.8 1013.5h0M639.7 1001h0M632.4 1025.6h0M640.2 1017h0M648.5 990.5h0M644.7 992.8h0M628 1022.6h0M637.3 1019.9h0M627.1 1021.4h0M643.6 1006h0M627.2 1017.4h0M646 1009.9h0M625.8 1013.3h0M625.9 1026.3h0M641.7 1013.8h0M631.1 1015.3h0M634.6 1011.9h0M628.9 1027.7h0M637.8 1023.3h0M625.7 1028h0M646.4 1003.8h0M646.4 997.2h0M634.3 1024.8h0M642.3 1020h0M644.4 989.8h0M635.6 1023.1h0M637.1 989.5h0M630.8 1028.6h0M628.1 1028.4h0M647.2 1016.1h0M633.9 1016.3h0M626.9 1020.3h0M627.8 1015.4h0M641.6 1014.4h0M635.2 990.6h0M638.5 1016.3h0M628.3 1020h0M643.8 1003.3h0M637.5 1017.9h0M625.6 975.1h0M632 1002.8h0M636.1 1025.3h0M625.8 1013.9h0M631.6 1030.8h0M648.5 1022.4h0M626.9 1024.5h0M633.1 1003h0M642.3 983.2h0M635 948h0M633.7 1022.1h0M630.1 1006.6h0M629.1 1018h0M640.5 1015.1h0M631.6 1017.7h0M626.5 994h0M641.3 1002.5h0M632.1 1012.9h0M645.6 1018.1h0M632.3 982.3h0M644.8 1009.4h0M648.2 1015.7h0M638.2 1009.6h0M635.7 1022.6h0M637.1 1018.4h0M639.8 1018.5h0M627.3 1030.1h0M649.2 1016.2h0M643.3 1023.5h0M638.6 1028.3h0M629.8 1027.2h0M648.8 1018.8h0M636.4 1022.3h0M629.6 1024.2h0M643.5 1013.5h0M636.4 970.7h0M628.6 1024.3h0M641.8 1004.5h0M641.3 1002.6h0M636.7 1006.5h0M639.2 1022.5h0M645.2 1011.3h0M636.6 1025.4h0M630.3 1013.6h0M644.8 1011.8h0M640.7 1022.8h0M644.3 1017.2h0M639.4 1009h0M630.2 997h0M636.3 1002.4h0M635.3 1008.9h0M636.4 1027.2h0M633.6 1017.2h0M630.3 1026.9h0M635.7 994h0M648.4 1000.1h0M633.9 1015.7h0M639.1 1023h0M642.2 1004.8h0M647.7 1002h0M636.2 1022.4h0M639.7 1000.8h0M648.5 1016h0M638.3 1007.7h0M638.7 1027.9h0M637.2 998.9h0M635.7 1012.5h0M648.6 1018.8h0M636.6 1027.9h0M645.5 1018.2h0M632 1016.4h0M633.8 1008.5h0M632.8 967h0M638.3 981.5h0M630.6 1018.8h0M634.7 995h0M633.2 1009.2h0M626.4 1003.9h0M632 1005.9h0M627.3 1006.3h0M625.6 1005.4h0M625.6 1004.1h0M625.6 1007.9h0M625.6 1006.2h0M625.6 1005.1h0M631.7 1009.4h0M629.4 1009.6h0M631.7 1012.9h0M634.9 1009.7h0M631.6 1012.4h0M631.7 1012.3h0M630.7 1010h0M631.1 1013.1h0M631.5 1011.2h0M641.9 969.3h0M643.3 974.9h0M641.1 972.8h0M641.2 977.1h0M640.7 993.2h0M645.2 986.1h0M639.4 984.8h0M640.2 970.6h0M631.8 996.9h0M631.5 1009.6h0M632.5 1007.7h0M633.5 1011.3h0M630.6 1000.3h0M630.9 999.1h0M643.4 986h0M643.6 1003.6h0M645.7 991.9h0M645.4 1000.8h0M641 992.1h0M642.2 990.4h0M642.6 987.5h0M644 989h0M640.1 1001.1h0M644.2 993.9h0M646.3 980.2h0M645.6 988.7h0M646.7 990.6h0M645.4 984.6h0M648.1 996.1h0M648 991.6h0M644.5 987h0M643.6 987.9h0M643 980.4h0M643.6 1002.5h0M643.9 995.7h0M645.5 993h0M643.3 994.2h0M643.6 990h0M645.3 988.5h0M644.2 988.6h0M643.2 990.8h0M645.8 983.6h0M641.7 986h0M629.9 1007.1h0M633.5 1007.5h0M630.9 1007.9h0M628 1009.4h0M629.9 1003.4h0M630 1008.1h0M629.9 1003.9h0M629.2 1004.2h0M629.1 1004.4h0"/>
<path fill="#bebebe" d="M651.5 1052.7L651.5 995.6L652.5 999.7L653.5 1003.8L654.5 1001.4L655.5 1006L656.5 1002.5L657.5 1003.9L658.5 1002.9L659.5 1004.7L660.5 1005L661.5 1005L662.5 999.1L663.5 1003.9L664.5 1004.5L665.5 999L666.5 1001.6L667.5 1004.2L668.5 1005L669.5 999.7L670.5 1004.9L671.5 1004.9L672.5 996.8L673.5 1002.1L674.5 991.6L675.5 989.1L676.5 990.2L677.2 996L677.2 996L677.2 1052.7Z"/>
<path stroke="#bebebe" stroke-width="5" stroke-linecap="round" fill="none" d="M659.2 1008.7h0M668.9 1017h0M655.5 1003.5h0M655 1011.6h0M662.1 1009.9h0M664.7 1014.2h0M668.2 1013.6h0M654.4 1020.5h0M658.1 1019h0M666.5 1020.7h0M659 997h0M671.7 1020h0M661.5 1018.2h0M673.4 975.6h0M666.5 1019.1h0M669.4 1014.8h0M671.1 1003.8h0M654.1 1005h0M663.8 992.4h0M667.8 982.4h0M658.4 1020.7h0M660.1 1023.6h0M668.7 1022.8h0M655.8 1013.8h0M654.7 1020h0M664.9 1011.9h0M654.2 1021.7h0M662.2 1011.4h0M664.7 1021.4h0M671.6 1013.6h0M672.5 1017h0M671.3 1006.5h0M665.8 994.1h0M657 1012.6h0M657.2 1023.8h0M662.3 953.3h0M665.6 1005.7h0M660.3 1022.7h0M666 1017.5h0M668.9 1016h0M668.3 1019.9h0M660.3 1012.6h0M659.1 1017.8h0M656.2 1018h0M658.8 1020.1h0M670.3 1012.6h0M666.1 1014.3h0M660 1018.8h0M672.1 1013.8h0M660.8 1004.3h0M667.6 1022.5h0M656.8 1003.9h0M663.4 1010.9h0M666.9 1008h0M664.3 1021.7h0M663.5 1006.8h0M657.5 1016.8h0M658.5 1007.5h0M662.5 1003.1h0M655.3 1024.1h0M661.6 1017.2h0M670.5 1009.9h0M670.5 1007.6h0M664.7 1018.6h0M659.2 1022.4h0M666.6 1017.7h0M674.8 1012h0M660.7 1007.5h0M668.6 965.8h0M664.4 1008.9h0M664.7 1011.9h0M657.3 1015.1h0M663.9 1023.2h0M659.7 1024.7h0M658.6 1011.9h0M673.5 1021.8h0M667.6 1007.3h0M663.6 1015h0M657.8 992.9h0M656.2 1010.9h0M665.6 1009.8h0M658.1 1007.9h0M667.4 1016.9h0M668.9 1021h0M670.4 1018.7h0M673.2 1008.4h0M664.8 1021h0M670.5 1021.3h0M670.5 1022.6h0M662.2 1012.6h0M658.4 1021h0M662.1 1009.9h0M654.9 1012.4h0M662.6 1018.8h0M654.7 1020h0M673.2 1000.4h0M663.2 994.6h0M656.3 1022.5h0M656 1016.3h0M654.7 995.3h0M670.7 972.3h0M671.1 998.5h0M661.9 995.8h0M667.1 1021.7h0M671.4 1003.5h0M674.3 987.7h0M655.8 1010.4h0M671.1 996h0M665.2 998.2h0M661.4 987.2h0M674.8 1011.8h0M672.8 1010.7h0M667.1 1016.8h0M667.5 1003.9h0M664.3 1018.8h0M656 990h0M660 986.8h0M660.6 1008.1h0M669.1 1005.5h0M657 996.5h0"/>
<path fill="#ffb90f" d="M677.2 1052.7L677.2 1000.4L678.2 1001.5L679.2 995L680.2 1000.1L681.2 993.5L682.2 998.7L683.2 994.8L684.2 997.6L685.2 990.8L686.2 989.5L687.2 992L688.2 984.3L689.2 986L690.2 987.2L691.2 990.4L692.2 990.5L693.2 992.2L694.2 990.7L695.2 995.2L696.2 1004.7L697.2 1000.2L697.9 1001.9L697.9 1001.9L697.9 1052.7Z"/>
<path stroke="#ffb90f" stroke-width="5" stroke-linecap="round" fill="none" d="M682.2 988.4h0M683.7 945h0M691.5 998.7h0M691 991.8h0M692.5 1007.2h0M688 999.6h0M693.4 999.8h0M680.3 1006.9h0M680.6 1015.3h0M689.6 995.1h0M681.5 1006.3h0M689.7 990.5h0M681.1 1006.1h0M685.5 986.3h0M689.6 1005.1h0M689.2 1002.1h0M693.6 1007h0M689.7 982.5h0M685.3 1008h0M694.2 1003.8h0M682.8 997.1h0M682.6 1014.2h0M683.6 1007.8h0M687.3 981.1h0M691.3 1009.8h0M683.1 986.9h0M682.5 1010.1h0M684.6 1017h0M689.5 997.4h0M689.9 1006h0M687 994.9h0M695.1 1013.3h0M682.8 979.8h0M679.7 1009.5h0M691.3 1006.7h0M688.9 997.1h0M680.8 1013.6h0M691 1009.1h0M692.7 1008.3h0M693 1006.6h0M681.2 998.5h0M691.1 1006.9h0M691.6 999.3h0M681.5 999.7h0M683.7 1014.1h0M692.2 1001.6h0M687.4 999.7h0M693.6 1010.7h0M692.3 998.4h0M686 999.8h0M680.7 977.7h0M681.3 964.5h0M687.1 995.7h0M686 1000.7h0M690.3 990h0M682.3 1010.6h0M694.1 990.4h0M686.1 1005.9h0M684.8 1005.6h0M683.3 1008.6h0M694.8 1015.5h0M681.9 988.8h0M695.4 1015.4h0M684.8 1007.8h0M680 984.7h0M687 1004.1h0M689.1 980.2h0M686.6 1001h0M695.8 1022.6h0M690.9 993.6h0M686.7 1002.6h0M688.5 1000.4h0M694.9 1009.4h0M693.6 1011.4h0M680.1 1019.9h0M681.3 1009.4h0M686.5 991.6h0M683.1 989.7h0M680.6 1019.6h0M683.2 976.4h0M689.1 979.4h0M694.3 1010.8h0M689.5 991.2h0M689.4 1003.5h0M693.2 989.1h0M688.5 1004.7h0M691.6 959.2h0M687.6 972.8h0M691.5 1009.4h0M686 970.8h0M686.9 996.7h0M683.2 1012.5h0M683.3 1009.2h0M681 1010.9h0M692.2 1005.4h0M688.1 1002.3h0M691.3 978.9h0M692.6 985.3h0M689.6 978.9h0M690.9 985.5h0M692 983.6h0M694.8 988.2h0M694.6 984h0M690.6 990.3h0M688.9 981.4h0M688.1 987.3h0M687.2 987.3h0M690 984.4h0M679.8 994.6h0M681.4 997.4h0M680.5 996.4h0M679.2 996.8h0M681 998.1h0M681.2 994.6h0M681.4 993.4h0M680.1 995.6h0M679.9 994.9h0M685 995.1h0M680.8 994h0M683.2 996.1h0M682.4 995.5h0"/>
<path fill="#bebebe" d="M697.9 1052.7L697.9 991.8L698.9 989.1L699.9 992.6L700.9 993.3L701.9 994.1L702.9 995L703.9 1001L704.9 994.9L705.9 993.8L706.9 992.4L707.9 992.2L708.9 996.3L709.9 992.7L710.9 990.5L711.9 989.3L712.9 993.4L713.9 994.8L714.9 988.8L715.9 989.3L716.9 993.2L717.9 989.2L718.9 990.9L719.9 994.7L720.9 999L721.9 998L722.9 998L723.1 998L723.1 1052.7Z"/>
<path stroke="#bebebe" stroke-width="5" stroke-linecap="round" fill="none" d="M705.9 975.8h0M721 1012.3h0M703.6 1017.4h0M709.4 1011.9h0M713.9 1014.5h0M703.9 1021.4h0M718.6 994.1h0M707.1 992.3h0M718.4 1002.6h0M702.9 1012h0M718.6 1001.6h0M714.5 1007.4h0M720.7 955.8h0M716.4 1007.7h0M703.1 1015h0M720.4 1006.5h0M701.2 1007h0M706.4 1011.5h0M700.2 1008.8h0M700.3 1010.7h0M715.9 966.6h0M707.4 1000.7h0M713.3 932h0M717.1 1007.2h0M717.6 991.3h0M716.9 1013.4h0M715.5 994.9h0M710.2 930h0M709.7 1012.5h0M708.6 1012.6h0M716.8 958.3h0M718.2 1008.1h0M714.8 997.7h0M705.8 992.1h0M717.6 990.3h0M707.1 997.2h0M703.7 1014.5h0M712.9 967h0M707.7 1007.1h0M719.7 998.9h0M714.2 1000.4h0M714.4 1014.6h0M704.4 979.5h0M706.2 1008.5h0M711 1007.1h0M705.3 1007.5h0M710.4 1010.3h0M707.4 990h0M717.1 963.3h0M700.4 1008.2h0M713.3 1001.4h0M712.3 1007.3h0M718.8 969.3h0M720.5 996.5h0M716.7 995.3h0M701.9 1006.7h0M717.7 1006.9h0M721.1 993h0M706.8 1000.3h0M704.8 1003.2h0M700.7 997.4h0M721.1 1011.7h0M712.4 1005.1h0M709 1015.2h0M704.8 1005.4h0M711.1 1007.6h0M719.1 1009.7h0M706.8 998.3h0M702.8 990.2h0M719.5 995.6h0M716.8 1011.9h0M705.5 1012.9h0M700.5 1001.6h0M709.9 1006.5h0M717 1008.8h0M705 966.9h0M714.6 1008.8h0M707.2 985.1h0M708 991.2h0M718.9 994h0M703.7 1015.3h0M714 1014.2h0M700.4 1000.7h0M707 1012.1h0M715.1 982.9h0M700.4 1002.6h0M719.9 1011.9h0M719.3 1007h0M719.1 997h0M702.4 1006.9h0M720.5 1004.9h0M717.8 1009.3h0M704.1 989.6h0M709.5 988.5h0M703.6 1018.2h0M701.6 1014.2h0M718.2 979h0M715.2 1005h0M717.8 975.4h0M708.7 968h0M712.5 1011.9h0M711.2 1004.7h0M706.9 988.3h0M721 954.8h0M705.9 993.5h0M714.1 947.5h0M712.8 1012.8h0M713.9 1006.5h0M708.7 1016.4h0M721 1003.8h0M701.5 975h0M706.1 994.5h0M716.3 1009.4h0M711.3 1009.8h0M718.4 998.5h0M702.8 1008.5h0M700.6 971.1h0M710.6 1010.8h0M709.3 1003.4h0M708.9 986h0M710 987.1h0M709.5 991.7h0M708.5 988.9h0M709.8 991.4h0M709.8 989.4h0M710 995.7h0M707.2 994.7h0M711.9 972.6h0M712.9 985.2h0M710.7 972.8h0M714.1 982.4h0M713.9 989.8h0M708.9 987.6h0M713 982.9h0M711.7 992h0M711.7 979.6h0M711.6 991.4h0M710.5 982.8h0M711.1 989.9h0M713.3 984.8h0M716.9 981.2h0M712 980.6h0M709.7 990.1h0M711.1 981.8h0M711.3 988.2h0M711.3 982.4h0M710.5 983.6h0M712 986.8h0M713 988h0M714.1 993.3h0M712.5 990.7h0M715.3 991.2h0M712.7 991.1h0M714.4 994.2h0M714.3 988.1h0M711.7 988.4h0M705.4 987.1h0M703.1 990.7h0M706.8 996.4h0M704.3 987.4h0M705.9 991.3h0M704.6 990.3h0M702.7 988h0M707.3 993.5h0M703.2 988.9h0"/>
<path fill="#ffb90f" d="M723.1 1052.7L723.1 1001.9L724.1 998.3L725.1 998.4L726.1 994.6L727.1 993.2L728.1 1000.6L729.1 997.1L730.1 999.2L731.1 1000L732.1 999.5L733.1 1003.4L734.1 999.3L735.1 998.3L736.1 995.8L737.1 1002.6L738.1 1000.6L739.1 999.7L740.1 1001.1L741.1 995.5L742.1 1000.4L743.1 996.9L744.1 999.8L745.1 1000.8L746.1 997.1L747.1 997.9L748.1 996.7L748.2 996.7L748.2 1052.7Z"/>
<path stroke="#ffb90f" stroke-width="5" stroke-linecap="round" fill="none" d="M742 1013.1h0M735.7 1013.3h0M739.7 981.2h0M744.3 1011.7h0M736.4 1015.4h0M743.7 1008.9h0M734 1016.6h0M736.2 1001.9h0M742.3 1012.9h0M725.8 1002.2h0M741.7 1010.1h0M733.8 1013.5h0M731.4 1014.4h0M745.4 1018.2h0M738.2 1018.4h0M734.7 1012.1h0M730.2 1011.8h0M731.8 1009.3h0M744.3 992.1h0M725.5 1014.7h0M731.8 1011.9h0M729.9 1017.1h0M743.7 1002.9h0M734.8 1009.2h0M745 1009.8h0M746 1015.1h0M744.8 1000.7h0M734.6 1018.3h0M734.1 1012.5h0M746.1 977h0M733.9 1014.1h0M732.7 1009.8h0M735.5 1013h0M741.2 998.1h0M742.4 1013.5h0M726.2 1007.3h0M725.5 1001.8h0M745.2 1020.2h0M737.2 1023h0M733.3 995.7h0M729.2 1014.2h0M740.1 1015.2h0M728.4 1015.7h0M727.7 1011.4h0M726.4 1000.2h0M729.4 1004.5h0M731.1 947.5h0M728.1 1021h0M730.9 1018h0M731.3 1017.2h0M739.4 998.8h0M737.6 993.1h0M734.1 961.4h0M727 1004h0M729.3 1005.6h0M728.9 1017.2h0M731.6 1013h0M726.5 976.1h0M726.7 961.1h0M729.1 1017.5h0M739.7 1021.2h0M731.8 993.6h0M735.5 1003.6h0M729.4 1013.6h0M742.3 1009.5h0M742.6 1005.6h0M745.3 1017.9h0M734.4 947.3h0M737.7 994.1h0M726.9 1010.3h0M740.3 1000.1h0M739.5 1019.6h0M730.5 1009.6h0M740 1019.7h0M731 1010.7h0M730.8 1019.8h0M743.7 1017.8h0M727.2 1012.4h0M739.7 1011.1h0M743.7 995.6h0M732.1 1004.6h0M726 1013h0M738.4 1020.7h0M728 1007.6h0M727.7 1018.8h0M734.4 999.4h0M745.8 1013.5h0M742.6 1014.5h0M745.8 994.6h0M732.9 1023.5h0M741.1 988.9h0M743.6 1014.5h0M732.5 1002.9h0M743.6 1018.6h0M728.5 990.1h0M731.7 1009.5h0M742.7 1013.8h0M740.7 1012h0M729.9 966.8h0M742.5 990.1h0M733.2 991.7h0M728.5 1014.9h0M736.1 1012.7h0M740.9 1000.2h0M736.5 1008.5h0M730.9 1019.5h0M745.8 970.7h0M739.8 1019.7h0M726.6 1013.9h0M740.6 991.2h0M730.4 1007.2h0M725.9 997.1h0M741.8 999.6h0M737 1022.3h0M730.4 1006.3h0M742.9 990.8h0M725.3 1007.5h0M736.9 993.7h0M733.5 980.2h0M731.7 981h0M738.5 1002.4h0M733.3 988.3h0M732.2 990.7h0M732.9 989.5h0M734.7 1003h0M733.8 991.3h0M733.5 993.2h0M735.7 1002h0M745.3 966h0M746.2 996.7h0M744.7 999.6h0M745.6 968.1h0M744.2 970.4h0M742.2 970.4h0M746.2 1003.5h0M746.2 999.6h0M745.9 966.5h0M744.5 999.8h0M744.6 988.9h0M730.3 980.6h0M731.9 988.7h0M728.9 996.2h0M729.5 996.5h0M728.8 988h0M731 984.4h0M731 997.1h0M726.2 953.8h0M728.3 982.2h0M725.4 987.5h0M725.2 956.2h0M728.4 976.1h0M727.2 971.8h0M725.8 993.5h0M726.3 982h0M728.1 961.9h0M726.6 991.3h0M728.2 992.8h0M728.2 995.2h0M725.4 995.4h0M725.1 994.5h0M726.1 992.4h0M725.1 993.7h0M725.1 995.3h0M728.9 997.1h0M725.1 993h0M731.2 990.8h0M729.6 1002.7h0M731.4 996.7h0M730.9 1001.8h0M736.8 970.7h0M742.4 1002.9h0M737.9 974.2h0M736.4 987.6h0M736.6 985.5h0M737.9 977.2h0M735.5 988.5h0M736.8 983.5h0M736.5 1001.6h0M738.3 991.8h0"/>
<path fill="#bebebe" d="M748.2 1052.7L748.2 998.1L749.2 993.1L750.2 996.2L751.2 999L752.2 1003.7L753.2 1000.2L754.2 1006.8L755.2 1005.2L756.2 1004.1L757.2 1007L758.2 1004.1L759.2 1003.7L760.2 1001.8L761.2 998.6L762.2 999.5L763.2 999.6L764.2 998.9L765.2 994.9L766.2 998.8L767.2 995.3L768.2 998.8L769.2 995.6L770.2 997.4L771.2 1002.9L771.3 1002.9L771.3 1052.7Z"/>
<path stroke="#bebebe" stroke-width="5" stroke-linecap="round" fill="none" d="M762.2 1014.7h0M756 1018.9h0M757.8 1020.9h0M760.8 998.9h0M766.1 1013.6h0M758.6 1023.5h0M757.5 1024.2h0M765 994.8h0M761.5 1010h0M755.8 1018.7h0M765 1011h0M757.3 1027.1h0M752.6 1022.7h0M762.4 1019.5h0M759.3 1013.3h0M760.1 990.3h0M755.5 1004.9h0M755.3 1014.5h0M760.2 1021.7h0M759.2 977.5h0M756.6 1017.3h0M764.4 1006.8h0M753 1017.9h0M757 1021.1h0M757.4 1013.7h0M753 1014.2h0M753.9 1021.7h0M755.6 1024.6h0M760.8 1016.8h0M752.5 1022.3h0M761.4 1016.4h0M758.1 1019.1h0M750.8 1018.9h0M752.3 1023.6h0M757.5 1001.7h0M751.2 1012.3h0M751.8 1018.4h0M756.5 1023.2h0M754.7 1021.2h0M750.3 1001.7h0M757.7 977h0M767.7 1016.8h0M768.7 990.2h0M754.9 1017.1h0M755.5 1010.6h0M751.9 1013.3h0M752.7 1010h0M766.4 969.1h0M759.3 1014.3h0M757.9 1009.3h0M760 1017.4h0M762.2 1014.4h0M759.3 1009.4h0M760.2 952.4h0M752.6 1017.7h0M753.7 998.9h0M757.4 1015.5h0M756.6 1003.1h0M760.2 1016.9h0M761 1012.7h0M758.6 1020.8h0M768.7 1012.8h0M753.1 1009h0M764.7 960.6h0M769 1014.4h0M768.6 1013.1h0M765 1011.1h0M755.4 987.5h0M753.5 1020.5h0M752.4 998.7h0M754.4 1005.4h0M752.3 1005.8h0M766.9 1011h0M757.8 1019.7h0M767.1 990.5h0M763.1 1010.6h0M753.9 1006.9h0M755.6 1019.8h0M754.5 1014h0M751.4 1018.4h0M758.7 1016.9h0M751.2 989.3h0M754.3 1013h0M753.1 1001h0M768.2 1014.3h0M767 1013.7h0M763.8 1016.5h0M769.2 1011.9h0M751.5 985.7h0M759.7 1023.4h0M753.7 1020.2h0M764.6 1010.5h0M768.3 1011.8h0M761.5 990.3h0M765 1009.5h0M759.5 1005.4h0M767.7 1002.9h0M759.2 1021.4h0M758.2 1009.2h0M754.8 1016.3h0M764.2 1016.2h0M762.4 993h0M765.8 992.4h0M756.6 1021.4h0M754.6 1019.1h0M766.2 1013.3h0M762.2 1013.9h0M768.9 1015.6h0M761.5 991.8h0M763.1 996.2h0M763.9 999.5h0M763.4 1000.2h0M763.3 1001.4h0M762.7 1001h0M763.6 996.9h0M766.1 998.7h0M761.9 1001.1h0M761.2 998.2h0M763.2 996.4h0M756.3 999.4h0M756.1 1003.6h0M755.8 1000.4h0M758.4 1000.7h0M756.4 1003.5h0M757.6 1001.6h0M755.3 1005.3h0M753.6 1004.4h0M757.4 1005.8h0M760.6 999.7h0M757.5 1004.8h0M765 989.5h0M762.6 992.1h0M765.6 993.4h0M762.8 997.3h0M764.4 992.3h0M765.9 993.7h0M751 963.5h0M751.5 995.2h0M750.2 985.7h0M750.7 988.3h0M750.7 978.5h0M764.4 958.5h0M765.9 973.6h0M764.6 981.2h0M766.6 966.7h0M763.1 989.2h0M765.4 974.6h0M763.1 975.2h0M764 996.9h0M764 996.1h0M764.8 969.1h0M761.4 967.9h0"/>
<path fill="#ffb90f" d="M771.3 1052.7L771.3 992.8L772.3 994.1L773.3 999.4L774.3 1002.4L775.3 1003.2L776.3 1010.8L777.3 1008.9L778.3 1005.1L779.3 1002.9L780.3 1001.7L781.3 1002.4L782.3 997.5L783.3 999.2L784.3 994.9L785.3 991.6L786.3 992.4L787.3 993.2L788.3 995.4L789.3 1001.8L790.3 1005.7L791.3 998.6L792.3 1001.7L793.3 1002.8L793.8 1002.8L793.8 1052.7Z"/>
<path stroke="#ffb90f" stroke-width="5" stroke-linecap="round" fill="none" d="M773.4 973.2h0M780.7 1020.2h0M787.3 1003.6h0M785.8 979.3h0M781 1019.3h0M776 1027h0M791.4 1004.3h0M776.7 1030.9h0M789.7 1007.4h0M787.5 1010.3h0M780.3 1020.4h0M782.2 1008.6h0M789 1017h0M774.9 991.6h0M774.1 980.1h0M791.1 1018.1h0M777.1 1012.1h0M790.3 1019.1h0M783.4 1014h0M785.6 1008.1h0M779.3 992.2h0M788.9 1017.5h0M779.4 1021.1h0M785 997.8h0M777.2 1025.3h0M773.7 971.2h0M788.4 1008.6h0M777.1 1017.5h0M789.2 1011.3h0M783.9 1010.3h0M782.2 1013.3h0M775.7 1008.5h0M780.9 1022.3h0M781.3 1016.6h0M783.6 970.8h0M787.7 1008.1h0M789.9 980h0M782 1013.9h0M783 1010.1h0M782.9 976.4h0M773.3 1007h0M783.4 1009.6h0M783 1014.1h0M783.3 998.9h0M784 940.4h0M782.6 991.6h0M782.6 1017.2h0M782.5 1014.6h0M786.3 1005.2h0M790.7 1014.2h0M784.6 987.6h0M784 1009.6h0M785.1 1010.9h0M779.3 1020.5h0M774.3 1012.2h0M787.1 985.9h0M790.4 945.8h0M791.5 1016.4h0M784.7 986.3h0M782.2 1007.2h0M790.9 1002.4h0M784.3 1008.1h0M774.8 996.7h0M780.4 1021h0M779.1 992.3h0M788.6 999.4h0M775.3 996.3h0M789.3 1011.2h0M775.7 997.5h0M784.9 1008.5h0M782.3 1006.9h0M778.6 1021.4h0M776 1022.6h0M779.6 1017.9h0M789.7 1020.1h0M777.9 1016.3h0M775 998.6h0M779.5 1020.1h0M773.4 1003.3h0M778.3 1016.6h0M774 1019.4h0M784 1008h0M786.1 980.8h0M781.5 1021h0M773.3 1012.9h0M788.7 1009h0M789.4 997h0M775.8 1007h0M787.3 994.8h0M774.1 1012.6h0M788.1 972.9h0M778.1 1022.4h0M779.6 1018.9h0M776.8 1023.4h0M790.1 1009.6h0M774.7 1019.9h0M780 1010.6h0M773.7 1011.6h0M780.7 1017.3h0M776.4 1030.6h0M786.8 1007.8h0M788.5 990.6h0M790.1 1011.8h0M788.2 1004.9h0M782.8 1001.8h0M788.7 995.4h0M789.2 995.6h0M788.6 997.6h0M788.6 995.4h0M786.1 995.7h0M786.1 996.6h0M788.9 995.5h0M790.3 996.3h0M790.1 996h0M788.1 997.1h0M786.5 995.9h0M791.2 988.8h0M791.8 990.4h0M791.8 989.5h0M788.6 993.6h0M777.9 1000.6h0M777.2 1004.2h0M784 1006.1h0M777.1 1004.3h0M777.3 1003.6h0M776.1 1005.8h0M777.2 1002.9h0M776.9 1005h0M776.5 1001.4h0M782.5 982.3h0M779 982.4h0M787 982.9h0M782.6 986.9h0M782.4 990.4h0M783.6 997.8h0M784.2 993.5h0M784.8 996.7h0M785.7 995.3h0M789.1 991.5h0M791.7 999.3h0M791.8 991.9h0M787.4 1000.9h0M789.7 1004.2h0M789.9 1001.8h0M787.8 1000h0M790.2 1002.3h0M788.5 998.3h0M789.7 999.4h0M782.9 992.2h0M785.3 999.4h0M782.3 995.1h0M783.3 996.3h0M779 997.3h0M786.7 1000.4h0M785.6 996.8h0M780.5 994.7h0M783.7 999.3h0M782.9 993.9h0M781.1 999.5h0"/>
<path fill="#bebebe" d="M793.8 1052.7L793.8 1005.2L794.8 998.5L795.8 1002.1L796.8 1000.6L797.8 998.3L798.8 995.8L799.8 996.9L800.8 995.7L801.8 994.6L802.8 994L803.8 989.6L804.8 995.5L805.8 999.8L806.8 999.2L807.8 1001.3L808.8 1003.2L809.8 1001.3L810.8 1002L811.8 999.9L812.8 1002.4L813.2 1002.4L813.2 1052.7Z"/>
<path stroke="#bebebe" stroke-width="5" stroke-linecap="round" fill="none" d="M796.6 1018.5h0M799.4 1015.2h0M795.9 1020.8h0M805.6 980.9h0M800.6 1013.1h0M809.2 1014.6h0M796.4 1013h0M806 1019.7h0M799.4 1010.1h0M802.5 1012.6h0M796.6 1016.2h0M807.6 994.1h0M798.6 999.6h0M799 1009.3h0M796 1021.7h0M797.5 1013.2h0M809.5 1015.9h0M799.8 993.6h0M799 1000.7h0M799.7 1012.4h0M803.7 992.4h0M806.4 1000.5h0M809.4 1010.8h0M803.1 996.2h0M801.5 968.7h0M803.5 1002.8h0M807.6 1001.4h0M804.9 1001.8h0M796.2 985h0M801.5 1009h0M800.7 938.1h0M802.1 1007.9h0M809.7 1016h0M802.6 961.6h0M796 1020.2h0M810.6 1013.7h0M802.3 1013.2h0M804.7 993.9h0M802.5 1008.7h0M803.7 1005h0M810.7 1005.5h0M803.6 996.9h0M796.8 962h0M801 1014.1h0M805.4 1018.7h0M803.2 1008.2h0M808.4 942h0M796.6 1019.8h0M797 1004.5h0M807.5 1012.2h0M807.5 1020.5h0M800.9 983.5h0M805.9 1018.6h0M807.6 1018.9h0M796.7 1007.8h0M805.9 983.3h0M803.6 995.7h0M801.6 1014.7h0M796.4 1012.7h0M808.4 1014h0M810.3 1021.9h0M800.6 1012.2h0M802 998h0M801.8 993.7h0M803.3 1004.8h0M805.8 1012.9h0M806 1008.7h0M798.2 989.5h0M797.7 1018.2h0M805.3 1012.6h0M804 994.7h0M796.4 1016.8h0M810.3 1011.4h0M797.3 992.2h0M799.6 1004.4h0M798.5 1012.3h0M810.3 1002.7h0M797 1014.4h0M803.3 1006h0M805 994.9h0M803.3 1010h0M803.2 1011.6h0M801.7 998.9h0M797 1019.1h0M809.6 1018.3h0M806 1016.6h0M804.9 1012h0M803.2 1013.8h0M797.8 997h0M810.3 1018h0M804.4 992.3h0M800 986.6h0M799.3 986.8h0M801.2 992.1h0M804 995.4h0M800.7 990.3h0M800 987.4h0M803.8 998.5h0M801.8 999.4h0M803.6 993.1h0M802.5 991.6h0M796.9 993.2h0M803.6 927.7h0M804.1 986.2h0M804.5 959.7h0M803.9 944.8h0M803.9 956.3h0"/>
<path fill="#ffb90f" d="M813.2 1052.7L813.2 995.3L814.2 1002L815.2 1000.8L816.2 993.2L817.2 993.2L818.2 994.9L819.2 994.3L820.2 989.6L821.2 992.8L822.2 986.4L823.2 983.9L824.2 991.9L825.2 989.7L826.2 994.2L827.2 995.1L828.2 1002.4L829.2 999L830.2 1004.1L831.2 1003.5L831.8 1003.9L831.8 1003.9L831.8 1052.7Z"/>
<path stroke="#ffb90f" stroke-width="5" stroke-linecap="round" fill="none" d="M828.1 1012.7h0M815.9 1013h0M817.7 1010.6h0M827.8 1005.6h0M826 985.8h0M816.8 1001.8h0M829.8 1008.7h0M827.2 995.1h0M816.1 1002.8h0M824.8 1009.9h0M817.7 980.5h0M829.4 1003.9h0M822.7 979.6h0M824.6 995.3h0M828.7 974h0M818 986h0M819.3 942.3h0M820.4 1008.3h0M823.3 994.6h0M817.3 1005.8h0M821.8 1002.2h0M821.7 994h0M816.4 1006.3h0M822 1002.8h0M823.3 975.3h0M819 1014h0M829.3 1010.7h0M822.5 968.7h0M817 1008.6h0M823 994.7h0M828 1022.8h0M827.2 996.8h0M822.1 1002.5h0M823.3 987h0M826 969.3h0M823.6 1002.6h0M829.2 992.2h0M826.5 1008.9h0M824.2 1008.2h0M821.1 995.6h0M824.7 984.2h0M828.3 1021.6h0M825 1010h0M826.7 994.9h0M829.6 996.9h0M820.2 1007h0M818.2 966h0M822.4 1005.9h0M816.6 1013.6h0M821.5 1005.5h0M817.9 1007.6h0M828.5 988.8h0M815.8 1006.8h0M823.7 1009h0M822.4 988.4h0M819.9 1001.5h0M820.4 992.9h0M821.9 982.8h0M822.7 987h0M819.6 1010.1h0M829.4 1009.6h0M818.8 1007.6h0M828.2 1019.4h0M825.9 1013.9h0M827.9 1009.6h0M818.8 966.1h0M820 1000.7h0M827.9 1019.5h0M827.6 968.6h0M826.6 1013.1h0M817.6 985h0M827.5 1004.1h0M823.4 998.5h0M816.4 999.8h0M820.5 1003.4h0M821.1 1006.5h0M829.3 1009.5h0M822.9 990.9h0M821.1 998.3h0M827.7 981.4h0M827.2 1014.7h0M823 1001.5h0M829.4 1018.2h0M823.1 997.5h0M818.1 991.2h0M821.2 1012.6h0M816.4 1010.6h0M821.1 992.3h0M820.1 993.4h0M820.5 993.6h0M823.6 994.2h0M818.1 994.2h0M819 993.7h0M820.4 993.6h0M820.2 994.2h0M827.9 997.2h0M829.4 1001.6h0M829.8 1002.6h0M828.9 1000.8h0M829.7 1000.6h0M829.8 999.1h0M829.8 1000h0M828.9 1003.2h0M826.7 1005.1h0M829.3 998.1h0M822.5 974.4h0M823.2 987.9h0M823.3 981.8h0M822 979.8h0M823.8 981.3h0M824.7 982.8h0M826.1 989.6h0M821.7 990.3h0M823.3 986h0M827.5 982.9h0M827 986.7h0M825 987.3h0M824.7 989.9h0M829 968.9h0M829.8 975.3h0M829.2 977.5h0M829.8 976.1h0M829.8 974h0M829.8 985.1h0M827 982.4h0M828.7 976h0M829.8 986.2h0M822.4 993h0"/>
<path fill="#bebebe" d="M831.8 1052.7L831.8 996.2L832.8 997.2L833.8 995.6L834.8 994.4L835.8 989.1L836.8 989.6L837.8 993.9L838.8 995.4L839.8 990.7L840.8 994.1L841.8 991.8L842.8 990.6L843.8 994.6L844.8 998L845.8 999.5L846.8 1000.4L847.7 1005L847.7 1005L847.7 1052.7Z"/>
<path stroke="#bebebe" stroke-width="5" stroke-linecap="round" fill="none" d="M844.8 1010.8h0M839.5 987.5h0M845.1 1014.1h0M841.9 993h0M835.5 995.8h0M845.7 1018.8h0M838.8 1000.9h0M837.9 1012.9h0M835.4 1008.3h0M843 1001.1h0M844.6 1013.5h0M841.3 1004.7h0M838.4 967.5h0M836 1007.6h0M841 1011.4h0M837.3 1006.1h0M845 1005.9h0M835.2 988.8h0M838 1006.4h0M838.8 1008.9h0M837.6 1013.6h0M841.7 1004.5h0M844.4 1016.7h0M844 1001.8h0M842.6 1008.2h0M843 1006.9h0M839.1 1014.4h0M838.8 991.4h0M839.6 983h0M844.6 986.1h0M844.5 1016.9h0M838.2 1006h0M845.3 991.8h0M844.8 1009.2h0M840 934h0M834.8 993.3h0M835.6 1003.7h0M837.2 1007.4h0M837.4 1005.2h0M838.7 1004.7h0M843.8 1007h0M839.7 1010.1h0M837.4 1011.4h0M837.8 947.1h0M843.1 1007.8h0M842 984.6h0M834.9 995.7h0M835.8 1008.2h0M839.4 1003.9h0M837.2 997.4h0M840 1007.9h0M836.9 996.3h0M841.6 1006h0M835.4 989.8h0M842.1 989.3h0M835.7 967.4h0M838 989h0M842.9 1001h0M842.1 1008.8h0M844.9 985.5h0M843.1 1007.7h0M845 992.3h0M845.1 1013.9h0M839.9 970.2h0M843.4 1007h0M845.7 1010.9h0M838.7 1008.7h0M845.2 1006.2h0M839.9 1001.1h0M836.3 995.2h0M841.6 1012.1h0M839.7 1009.8h0M841.6 1010.1h0M837.5 1013.1h0M842.7 1002.6h0M836.4 988.6h0M835.6 991.5h0M836.2 990h0M838.8 990.8h0M836.8 990.2h0M844.3 988h0M842.2 991.6h0M844.5 996.2h0M845.7 991.4h0M841.2 994.5h0"/>
<path fill="#ffb90f" d="M847.7 1052.7L847.7 1000.8L848.7 996.8L849.7 1003.2L850.7 995.1L851.7 996.2L852.7 996.9L853.7 995.6L854.7 996.3L855.7 996.7L856.7 999L857.7 1000.1L858.7 996.3L859.7 998.9L860.7 991.9L861.7 987.4L862.2 987.4L862.2 1052.7Z"/>
<path stroke="#ffb90f" stroke-width="5" stroke-linecap="round" fill="none" d="M857 1006.1h0M852.2 1013.7h0M857.7 1016.5h0M856.2 1013.3h0M858.8 1014.5h0M855.7 968h0M857.4 1005.4h0M856.2 1015.9h0M851.2 1010.7h0M850.7 1011.3h0M854.1 1011.3h0M858.1 986.2h0M853.7 1003.7h0M858.5 970h0M851.1 1003.8h0M852.7 996.7h0M859.5 1009.9h0M853.1 959.8h0M856.4 991.9h0M854.9 1015.1h0M854.4 1015.4h0M858.3 987.6h0M855.3 1002.4h0M859.9 1007.1h0M857.3 996h0M855.7 1014h0M854.9 1004.1h0M859.1 979h0M853.9 997.6h0M855.8 960.5h0M851.6 982.2h0M851.9 1014.1h0M858.3 1012.3h0M852.4 1011.5h0M857.9 1019.6h0M858.4 1013.4h0M857.2 997.6h0M855.5 996.2h0M853.8 1015.1h0M856.5 976.9h0M856.3 1009.4h0M855.1 1003h0M849.8 1002.7h0M857.2 1016.9h0M859.6 997.8h0M849.8 1014.1h0M849.9 1015.4h0M855.3 1016.3h0M858.8 976.5h0M853.9 1012h0M859.6 1019.2h0M860.2 1011.6h0M850.3 1008.9h0M850.7 1013h0M852.9 1010.9h0M850.2 1008.2h0M858.4 1015.2h0M851.9 997.8h0M854.2 1014.4h0M856.3 995.4h0M849.9 1011.8h0M856.5 994.8h0M854.2 1015.3h0M854.8 988.6h0M858.4 989.4h0M850.9 1014.7h0M858.1 1016.2h0M860.2 1017.2h0M853.2 993.4h0M851.4 996.9h0M853.6 998.3h0M851.6 997.4h0M854.3 993.4h0M857.3 998.2h0M853.5 995.6h0M856.3 994.8h0M857.2 994.4h0M856.2 995.1h0M853.4 997.1h0M854.9 993.3h0M855.8 994.2h0M858.7 998.1h0M857.7 996.2h0M854.5 996.2h0M859.5 986.7h0M857.9 994.2h0M860.2 998.8h0M860.2 995.9h0M860.2 991.4h0M859.3 991.9h0M854.1 973.4h0M855.8 983.4h0M858.5 993.4h0M852.5 976.8h0"/>
<path fill="#bebebe" d="M862.2 1052.7L862.2 1002.3L863.2 1003.8L864.2 1000.8L865.2 1002.6L866.2 1005.5L867.2 1004.4L868.2 1001.5L869.2 1004.9L870.2 1002.6L871.2 1007.1L872.2 1010.9L873.2 1010.3L874.2 1006.2L875.2 995.1L876.2 997.2L877.2 990.5L878.2 993.2L879.2 999.5L880.2 1000.7L881.2 1001.4L882.1 1001.6L882.1 1001.6L882.1 1052.7Z"/>
<path stroke="#bebebe" stroke-width="5" stroke-linecap="round" fill="none" d="M874 1024.7h0M876.1 1009.6h0M871.3 1021.9h0M868 1007.8h0M867.7 1021.5h0M874.6 1021.2h0M870.7 1006.4h0M873.6 1030.5h0M870 978h0M879.1 1013.1h0M875.9 1010h0M875.1 1013h0M870.1 946.3h0M875.9 975.9h0M875.3 1011.3h0M866 1020.4h0M875.9 1005h0M878.9 1000.7h0M865.7 1019.9h0M871.7 1022h0M878.7 999.8h0M869.8 989h0M874.7 984h0M879.7 999.5h0M868.7 981.9h0M878.3 999.8h0M872 1030h0M868.2 1020.1h0M877.4 1009.7h0M877.7 991.2h0M871 993.7h0M866 1019h0M871.4 1008.6h0M868.3 1021.1h0M879.7 1012.7h0M879.6 997.6h0M870.1 983.8h0M871.7 1028.1h0M869 1023.1h0M873.4 1009.1h0M878.9 1011.8h0M879.8 1018.9h0M876.5 1015.3h0M877.9 1005.2h0M879.2 1019.4h0M868.2 1021.3h0M872.1 1025h0M879 1005.3h0M878 1004.9h0M879.5 1009.6h0M877.9 994h0M879.3 1009.2h0M868.5 1021.2h0M872.4 1028.5h0M871.7 1023.4h0M865.8 1022.8h0M879.6 996h0M867.9 947.8h0M871 1016.2h0M873.7 1025h0M875.9 953.7h0M872.6 1028.9h0M868.2 1019.2h0M880 1019.9h0M878.5 1011h0M869.6 981.5h0M864.3 986.7h0M864.9 1018.8h0M879.1 1009.9h0M865.4 1021.9h0M864.3 1010.6h0M874.1 1010.4h0M875.6 999.5h0M876.7 1001.1h0M866.7 1018.2h0M873.6 1028.8h0M867.5 983.3h0M875.3 1009.9h0M868.6 1015.7h0M872.2 1030.2h0M865.3 1009.8h0M867 1023.2h0M877.7 995.9h0M869.8 1010h0M878.3 979.6h0M872.8 1027.7h0M868.2 998.8h0M869.5 1011.6h0M874 1001.9h0M865.5 1001.9h0M875.5 995.2h0M865 1011.3h0M864.2 1009.7h0M878.3 946.1h0M868.8 1004.3h0M870.2 1004.4h0M867.8 1006.3h0M867.7 1004.4h0M872.8 1004.4h0M867.1 1005.3h0M867.8 1004.3h0M866.8 1007.2h0"/>
<path fill="#ffb90f" d="M882.1 1052.7L882.1 998.3L883.1 1003.9L884.1 1001.7L885.1 1002.2L886.1 1000.5L887.1 998L888.1 1001.1L889.1 996.1L890.1 996.5L891.1 996.3L892.1 994.3L893.1 992L894.1 992.5L895.1 999.2L896.1 1000.4L897.1 1008L898.1 1003.7L899.1 1002.3L900.1 1001.1L900.7 996.8L900.7 996.8L900.7 1052.7Z"/>
<path stroke="#ffb90f" stroke-width="5" stroke-linecap="round" fill="none" d="M896.2 1015.3h0M893.6 1004.7h0M886.5 1008h0M887 1016.9h0M886.4 1018.2h0M897.5 1005.9h0M897.7 1020.2h0M898.3 991.9h0M886.3 1017.7h0M897.6 981.4h0M888.6 1007.9h0M894.5 1012h0M892.6 988.8h0M891.9 1005h0M886.3 1002h0M898.5 984h0M887.1 1013h0M894.4 988.1h0M894.6 1004.7h0M898.3 1007.6h0M889.8 1006.6h0M892.1 1013.1h0M894.1 1009.5h0M892.9 1004.7h0M889.2 1005.4h0M897.5 997.4h0M884.1 1011.8h0M897.5 1026.9h0M890.7 1006.7h0M889.5 1002.8h0M887.8 1000.4h0M894.5 990.2h0M895 992.2h0M884.6 937.6h0M892.4 997.8h0M886.8 1014h0M896.3 1010.4h0M895.9 1001.3h0M892.5 1008.2h0M895.4 1012.2h0M890.8 1000.2h0M884.7 1011.3h0M892.5 1013.4h0M896.8 998.5h0M894.7 1010.2h0M897.6 1022.4h0M897.5 1007.9h0M894 962h0M887.7 993.4h0M893.9 989.3h0M891.7 995h0M892.7 989.7h0M892.8 1010.8h0M897 1009.2h0M893.2 1001.8h0M894.7 1015.5h0M894.7 1012.6h0M884.3 1011.5h0M895.5 968.9h0M890.5 1016.7h0M892.5 1012.8h0M887.7 1000.8h0M896.6 1017h0M893.9 976.4h0M885 957.9h0M886.1 1017h0M887.8 1012.2h0M890.2 1013h0M897 1018.7h0M893.3 989.6h0M897.5 1020.3h0M887.2 1017.6h0M894 1011.1h0M894.6 1007.6h0M889.1 1010.2h0M897.8 1013.3h0M892.4 1004.6h0M896.3 1019.2h0M896.9 1021h0M892.9 999.2h0M898.4 1022.5h0M894.2 1001.9h0M887.8 994.6h0M887.4 996.3h0M896.5 993.4h0M892.4 1013.3h0M888.1 1009.8h0M885 963.8h0M887 985.6h0M884.1 992.3h0M884.1 978.8h0M884.3 980h0M887.9 989.6h0M884.1 973.3h0M884.1 966.5h0M891.8 986.2h0M889.7 989.1h0M892.9 991.9h0M891.3 986.4h0M895.2 996h0M892.5 991.8h0M895.9 994.1h0M890 995.7h0M888.5 990.9h0M893.6 994.6h0M884.8 1001.7h0M885.9 1004.7h0M884.1 1002.7h0M884.1 1003.7h0M885.3 1003.9h0M886.3 1002.6h0M885.4 1002.1h0"/>
<path fill="#bebebe" d="M900.7 1052.7L900.7 1000.5L901.7 1001.6L902.7 994.8L903.7 996L904.7 996.8L905.7 992.4L906.7 991.5L907.7 995.4L908.7 997.5L909.7 1001.9L910.7 996.9L911.7 997.3L912.7 1000.9L913.7 995.6L914 995.6L914 1052.7Z"/>
<path stroke="#bebebe" stroke-width="5" stroke-linecap="round" fill="none" d="M911.8 1012.8h0M909.1 989.7h0M912 1015.1h0M905.2 1003.8h0M903.4 992.5h0M904.9 991.2h0M906.4 1004.9h0M905.3 1012.6h0M903.4 1001.9h0M911.1 1008.7h0M904.4 1006.1h0M911.2 963.3h0M905.9 960.7h0M911.3 1014.3h0M905.5 950.4h0M908.5 1003.8h0M909.8 1014.7h0M909.2 990.4h0M907.7 998.9h0M910.3 1015.8h0M904.5 1008.8h0M909.6 976.1h0M904.6 1014.6h0M910.5 1004.7h0M907.8 1010.4h0M902.8 1010.3h0M904.3 1013.5h0M907.9 1002.4h0M903.1 1005.4h0M904.4 1015.6h0M910.9 975.4h0M907.7 987h0M904.3 1014.5h0M906.8 975.9h0M905.4 993.8h0M906.8 1001.1h0M905.1 1010h0M910.7 986.4h0M910.4 1014h0M909.9 1016.6h0M906.8 1001.6h0M902.9 1012h0M911.6 997.9h0M909.1 982.5h0M910.8 1009.8h0M911.6 1001.4h0M910 1016.4h0M904.2 1012h0M909.9 1004.5h0M904.6 1002.8h0M906.8 996.2h0M903 1012.3h0M911.1 997.5h0M905.7 992.8h0M903.3 991.1h0M910.7 986.4h0M909 1017.7h0M904.5 1013.9h0M906.5 1001.7h0M903 970.9h0M903.2 1013.2h0M902.8 1011.2h0M908.6 987.6h0M906.9 996.3h0M912 995.9h0M908.2 997.9h0M909.2 989.5h0M905.9 992.9h0M906.7 996.2h0M910.5 992.6h0M910.6 993.7h0M912 998.7h0M910.1 993.9h0M908.9 996.2h0M909.8 997.7h0M907.7 998.9h0M910.1 997h0M909.7 994.5h0"/>
<path fill="#ffb90f" d="M914 1052.7L914 1006.4L915 1004.3L916 1008L917 1007.6L918 1007.2L919 1005.5L920 1000.6L921 1003.1L922 1003.4L923 1006.8L924 1005.3L925 1007.5L926 1011L927 1003.1L928 1009.5L929 1007.4L929.9 1003L929.9 1003L929.9 1052.7Z"/>
<path stroke="#ffb90f" stroke-width="5" stroke-linecap="round" fill="none" d="M926.5 1017.9h0M920.9 1022.8h0M926.7 1011.4h0M919.4 996.4h0M916.5 1022.7h0M919.3 1015.9h0M917.6 1011.2h0M923.4 1021.8h0M918.9 1019.6h0M917.8 982.5h0M921 1022.3h0M927.8 1026.9h0M921.9 1017.8h0M920.9 1021.8h0M919.5 984.6h0M927.7 1025.6h0M925.6 1023.8h0M927.2 1002.5h0M921.9 954.6h0M919.6 1011.9h0M917.8 1013.8h0M927.6 984h0M918.8 988.2h0M922.1 1017.9h0M917.2 1026.3h0M927 1007.9h0M924.1 1017.6h0M920.4 998.4h0M917.6 975.4h0M919.9 1014.7h0M921.1 992.8h0M921.9 1005.7h0M925.3 981.5h0M920.7 1006.3h0M925.2 1027.6h0M923.8 999.3h0M920.2 1017.2h0M926.6 1023.1h0M916.9 1020.1h0M918.6 1020.9h0M920.7 1023.1h0M920.9 1021.3h0M926.2 1008.4h0M923.6 996.4h0M920.4 1020.3h0M916.8 1025.2h0M918.1 1016.3h0M926.9 1019.2h0M921 997.1h0M924.1 1008.7h0M916.5 1022.8h0M926.9 1020.9h0M916.8 1026.9h0M923.3 1014.7h0M917.4 1023.1h0M925.2 1027.5h0M921.4 1017.4h0M920.1 1007.2h0M920.2 1009.5h0M923.2 1011h0M918.5 1016.5h0M927.5 1021.5h0M927.4 1009.9h0M919.8 1019.3h0M922.6 1010.7h0M918.2 1022h0M927.1 1023.5h0M921.1 1008.7h0M921.2 1018.2h0M925 1000.2h0M917.9 1026.8h0M919.4 1006.7h0M921 1022.8h0M927.4 1020.6h0M918.7 1015.3h0M916.7 985.6h0M916 993.5h0M919.6 1010h0M917.8 991.9h0M916 996.4h0M916.4 1008.8h0M917.6 996.4h0M917.2 1002.8h0M916.8 1004h0M920.6 1006.1h0M917.3 1008.3h0M917.5 1008.1h0M918.3 1004.4h0M917.4 1009.2h0M916 1004h0M924.6 1006.3h0M924.3 1007.1h0M923.2 1009h0M923.4 1006.7h0M926.4 1008.1h0M925.1 1008.1h0M925.9 1010.2h0M922.9 1010h0M924.9 1006.7h0M923 1009h0M924.3 1008.5h0M921 955.3h0M920.1 993h0M923.1 980h0M923.4 989.6h0M918.1 981h0"/>
<path stroke="#ffb90f" stroke-width="5" stroke-linecap="round" d="M577 726h0M587.6 787.6h0M597.5 830.5h0M592 841h0M598 841.5h0M592 862.6h0M597.5 868h0M587.9 897h0M590.5 890.5h0M597.7 913h0M593.2 920.4h0M596.6 938.5h0M600.3 945.4h0M595 955h0M592 965h0M598 975h0M889.3 908.5h0M854.3 929.5h0M731.5 936h0M402 928.8h0M398 944h0M402 954h0M220 947h0M295.5 950h0"/>
<path stroke="#bebebe" stroke-width="5" stroke-linecap="round" d="M126.5 905h0M129 945h0M130 947h0M162 932h0M211 931h0M360 918.8h0M499 941h0M499 950h0M200 944h0"/>
<path stroke="#ff0000" stroke-opacity="0.6" stroke-width="2.2" d="M101 835H952"/>
<path stroke="#0000ff" stroke-opacity="0.58" stroke-width="2.2" d="M101 862.2H952"/>
<path stroke="#606060" stroke-width="2.2" fill="none" d="M101.2 671.8V1052.7M90.2 1052.7H101.2M90.2 998.3H101.2M90.2 943.9H101.2M90.2 889.5H101.2M90.2 835.1H101.2M90.2 780.7H101.2M90.2 671.8H101.2"/>
<text x="77.7" y="1061.9" font-size="25.3" text-anchor="end">0</text>
<text x="77.7" y="1007.5" font-size="25.3" text-anchor="end">2</text>
<text x="77.7" y="953.1" font-size="25.3" text-anchor="end">4</text>
<text x="77.7" y="898.7" font-size="25.3" text-anchor="end">6</text>
<text x="77.7" y="844.3" font-size="25.3" text-anchor="end">8</text>
<text x="77.7" y="789.9" font-size="25.3" text-anchor="end">10</text>
<text x="77.7" y="681" font-size="25.3" text-anchor="end">90</text>
<rect x="95" y="716" width="12" height="16" fill="#fff"/>
<path stroke="#606060" stroke-width="2.2" fill="none" stroke-linejoin="round" d="M101.2 671.8V719.5Q101.2 724 107 724.3L94.5 728.2Q101.2 729 101.2 733V1052.7 M94.5 728.2L90.5 725.6"/>
<text x="77.7" y="735.3" font-size="25.3" text-anchor="end">12</text>
<path stroke="#9a9a9a" stroke-width="2.2" fill="none" d="M170.5 1052.7H921.4"/>
<path stroke="#606060" stroke-width="2.2" fill="none" d="M170.5 1052.7V1062.7M256.8 1052.7V1062.7M334.5 1052.7V1062.7M390.8 1052.7V1062.7M427.5 1052.7V1062.7M464.6 1052.7V1062.7M500.4 1052.7V1062.7M532.2 1052.7V1062.7M562.7 1052.7V1062.7M591.8 1052.7V1062.7M616.5 1052.7V1062.7M639.6 1052.7V1062.7M666.1 1052.7V1062.7M689.4 1052.7V1062.7M712.5 1052.7V1062.7M737.6 1052.7V1062.7M761.5 1052.7V1062.7M784.6 1052.7V1062.7M805.8 1052.7V1062.7M823.8 1052.7V1062.7M839.7 1052.7V1062.7M857 1052.7V1062.7M875 1052.7V1062.7M891.4 1052.7V1062.7M906.5 1052.7V1062.7M921.4 1052.7V1062.7"/>
<text x="170.5" y="1093" font-size="24" text-anchor="middle">1</text>
<text x="256.8" y="1093" font-size="24" text-anchor="middle">2</text>
<text x="334.5" y="1093" font-size="24" text-anchor="middle">3</text>
<text x="390.8" y="1093" font-size="24" text-anchor="middle">4</text>
<text x="427.5" y="1093" font-size="24" text-anchor="middle">5</text>
<text x="464.6" y="1093" font-size="24" text-anchor="middle">6</text>
<text x="500.4" y="1093" font-size="24" text-anchor="middle">7</text>
<text x="532.2" y="1093" font-size="24" text-anchor="middle">8</text>
<text x="562.7" y="1093" font-size="24" text-anchor="middle">9</text>
<text x="616.5" y="1093" font-size="24" text-anchor="middle">11</text>
<text x="666.1" y="1093" font-size="24" text-anchor="middle">13</text>
<text x="712.5" y="1093" font-size="24" text-anchor="middle">15</text>
<text x="761.5" y="1093" font-size="24" text-anchor="middle">17</text>
<text x="805.8" y="1093" font-size="24" text-anchor="middle">19</text>
<text x="857" y="1093" font-size="24" text-anchor="middle">22</text>
<text x="906.5" y="1093" font-size="24" text-anchor="middle">25</text>
<text x="523.3" y="1131.5" font-size="24.7" text-anchor="middle">Chromosome</text>
<text transform="translate(20.5 863) rotate(-90)" x="0" y="0" font-size="25.5" text-anchor="middle">−Log<tspan font-size="15.8" dy="7.6">10</tspan><tspan dy="-7.6">(</tspan><tspan font-style="italic">p</tspan>)</text>
<text x="593.6" y="723.6" font-size="24.8" fill="#ff0000">mHTT(tg) (<tspan font-style="italic">p</tspan> = 2.4 × 10<tspan dy="-12.5" font-size="17">−88</tspan><tspan dy="12.5">)</tspan></text>
<text x="622" y="784.6" font-size="24.5">LOC105610254/FLT1</text>
<text x="643.7" y="828" font-size="24.5">TRNAR-CCU/LOC105616266</text>
<defs><marker id="ah" viewBox="0 0 12 10" refX="11" refY="5" markerWidth="12" markerHeight="10" markerUnits="userSpaceOnUse" orient="auto-start-reverse"><path d="M0 0 L12 5 L0 10 L3 5 Z" fill="#111"/></marker><marker id="ahs" viewBox="0 0 10 8" refX="9" refY="4" markerWidth="9" markerHeight="8" markerUnits="userSpaceOnUse" orient="auto-start-reverse"><path d="M0 0 L10 4 L0 8 L2.5 4 Z" fill="#111"/></marker></defs>
<path stroke="#9a9a9a" stroke-width="2" d="M1147.5 696H1815.7"/>
<rect x="1249.5" y="675" width="179.3" height="40.5" rx="12" fill="#007f00" stroke="#c8a080" stroke-width="0.8"/>
<rect x="1285" y="675.5" width="6.8" height="39.5" fill="#ffff00"/>
<rect x="1317.5" y="675.5" width="5.8" height="39.5" fill="#0000ff"/>
<rect x="1362" y="675.5" width="19.3" height="39.5" fill="#dd0000"/>
<rect x="1570.3" y="675.4" width="142.4" height="41.3" rx="12" fill="#007f00" stroke="#c8a080" stroke-width="0.8"/>
<path stroke="#999" stroke-width="2.2" d="M1442 675H1557.5" marker-start="url(#ah)" marker-end="url(#ah)"/>
<text x="1299.5" y="630" font-size="20.4">Exon 1</text>
<text x="1611.3" y="630" font-size="20.4">Exon 2</text>
<text x="1148.8" y="670" font-size="20.4">HTT</text>
<text x="1268.8" y="670" font-size="20.4">TSS</text>
<text x="1347.5" y="670" font-size="20.4">CAGn</text>
<text x="1465.6" y="661.5" font-size="20.4">{12 kbp}</text>
<path stroke="#555" stroke-width="1.6" d="M1320.5 742.5V721" marker-end="url(#ahs)"/>
<text x="1317.5" y="757.5" font-size="20.4"><tspan font-style="italic">p</tspan> = 6.5 × 10<tspan dy="-8.2" font-size="13.9">−26</tspan></text>
<path stroke="#9a9a9a" stroke-width="2" d="M1148.3 857.8H1629M1649 857.8H1815.7"/>
<path stroke="#555" stroke-width="1.4" fill="none" stroke-linejoin="round" d="M1628 857.8L1639 869.6L1644 848.5L1650 857.8"/>
<rect x="1248.3" y="837.8" width="180.3" height="40.8" rx="12" fill="#007f00" stroke="#c8a080" stroke-width="0.8"/>
<rect x="1283.8" y="838.3" width="7.5" height="39.8" fill="#ffff00"/>
<rect x="1361.2" y="838.3" width="19.4" height="39.8" fill="#dd0000"/>
<rect x="1444.5" y="841" width="4.3" height="34.4" fill="#0000ff"/>
<rect x="1458.2" y="841" width="4.1" height="34.4" fill="#0000ff"/>
<rect x="1484.7" y="838.3" width="122.3" height="40.7" rx="12" fill="#007f00" stroke="#c8a080" stroke-width="0.8"/>
<rect x="1675.4" y="838.3" width="85.4" height="40.7" rx="12" fill="#007f00" stroke="#c8a080" stroke-width="0.8"/>
<rect x="1734" y="838.8" width="6.3" height="39.7" fill="#8b008b"/>
<path stroke="#666" stroke-width="1.6" fill="none" d="M1446 839 C1420 808 1320 805 1290 834" marker-start="url(#ahs)" marker-end="url(#ahs)"/>
<path stroke="#999" stroke-width="2.2" d="M1610 834H1670" marker-start="url(#ah)" marker-end="url(#ah)"/>
<text x="1148.9" y="837.1" font-size="20.4">Q175 HTT</text>
<text x="1328.3" y="808.7" font-size="20.4">{&lt;1 kbp}</text>
<text x="1601.6" y="819.8" font-size="20.4">{30 kbp}</text>
<text x="1687.6" y="797.6" font-size="20.4">Exon 5</text>
<path stroke="#666" stroke-width="1.6" d="M1446.2 918.4V882" marker-end="url(#ahs)"/>
<path stroke="#666" stroke-width="1.6" d="M1460.2 899V882" marker-end="url(#ahs)"/>
<path stroke="#666" stroke-width="1.6" d="M1736.9 903.8V886.5" marker-end="url(#ahs)"/>
<text x="1456.2" y="912.3" font-size="20.4"><tspan font-style="italic">p</tspan> = 6.0 × 10<tspan dy="-8.2" font-size="13.9">−8</tspan></text>
<text x="1442.8" y="936.5" font-size="20.4"><tspan font-style="italic">p</tspan> = 9.1 × 10<tspan dy="-8.2" font-size="13.9">−8</tspan></text>
<text x="1734.6" y="918" font-size="20.4"><tspan font-style="italic">p</tspan> = 3.2 × 10<tspan dy="-8.2" font-size="13.9">−22</tspan></text>
<path stroke="#9a9a9a" stroke-width="2" d="M1147.5 1062H1250"/>
<rect x="1249" y="1041.7" width="176.9" height="40.7" rx="12" fill="#007f00" stroke="#c8a080" stroke-width="0.8"/>
<rect x="1426.9" y="1041.7" width="97" height="40.7" rx="12" fill="#007f00" stroke="#c8a080" stroke-width="0.8"/>
<rect x="1525.7" y="1041.7" width="96.3" height="40.7" rx="12" fill="#007f00" stroke="#c8a080" stroke-width="0.8"/>
<rect x="1623.7" y="1041.7" width="98" height="40.7" rx="12" fill="#007f00" stroke="#c8a080" stroke-width="0.8"/>
<rect x="1284" y="1042.2" width="7.8" height="39.7" fill="#ffff00"/>
<rect x="1361" y="1042.2" width="20" height="39.7" fill="#dd0000"/>
<rect x="1646.8" y="1042.2" width="2.8" height="39.7" fill="#0000ff"/>
<path stroke="#666" stroke-width="1.6" fill="none" d="M1644 1039 C1560 975 1380 975 1298 1039" marker-start="url(#ahs)" marker-end="url(#ahs)"/>
<text x="1179" y="1014.8" font-size="20.4" font-style="italic">HTT</text>
<text x="1151.7" y="1039.3" font-size="20.4">transgene</text>
<text x="1448.6" y="983.3" font-size="20.4">{2 kbp}</text>
<text x="1641.2" y="1007.8" font-size="20.4">Exon 4</text>
<path stroke="#666" stroke-width="1.6" d="M1648.2 1111V1088" marker-end="url(#ahs)"/>
<text x="1644.7" y="1123.3" font-size="20.4"><tspan font-style="italic">p</tspan> = 2.4 × 10<tspan dy="-8.2" font-size="13.9">−88</tspan></text>
<g transform="translate(1860 625) scale(0.119)" fill="none" stroke="#000" stroke-width="29" stroke-linecap="round" stroke-linejoin="round"><path d="M186 522 L150 523 Q112 524 106 488 C92 400 86 320 120 240 C170 150 300 100 420 78 C520 60 650 70 755 128 L800 102 C870 120 915 200 922 320 C928 420 925 465 920 495 Q912 522 872 523 L838 522"/><path d="M190 360 C300 340 420 330 510 332 C620 335 720 345 830 357"/><path d="M190 360 C180 500 178 650 185 820 C210 920 280 1010 350 1062 C450 1080 560 1080 655 1062 C740 1000 810 900 832 810 C838 650 835 500 830 357"/><path d="M186 548 L165 548 Q125 562 118 610 C108 690 112 760 130 805 Q145 835 186 826"/><path d="M836 548 L857 548 Q897 562 904 610 C914 690 910 760 892 805 Q877 835 836 826"/><path d="M238 572 C300 540 380 535 470 570" stroke-width="34"/><path d="M570 575 C650 540 730 538 800 575" stroke-width="34"/><path d="M435 778 C480 830 535 830 575 776" stroke-width="27"/><path d="M390 740 C350 770 328 810 318 855" stroke-width="15"/><path d="M625 740 C665 770 688 810 696 855" stroke-width="15"/><path d="M378 915 C420 885 470 890 505 905 C540 890 590 885 635 915 C580 955 430 955 378 915Z" stroke-width="24"/><path d="M405 915 C450 925 560 925 610 915" stroke-width="10"/></g>
<g transform="translate(1860 625) scale(0.119)" fill="#000"><circle cx="345" cy="625" r="46"/><circle cx="680" cy="625" r="46"/></g>
<g transform="translate(1845 765) scale(0.1455)" fill="none" stroke="#000" stroke-width="24" stroke-linecap="round"><circle cx="248" cy="258" r="190"/><circle cx="775" cy="255" r="190"/><path d="M255 455 L435 960 M770 455 L590 960"/><path d="M380 668 L80 770 M380 668 L140 862 M380 668 L230 888"/><path d="M625 662 L940 678 M625 662 L880 742 M625 662 L868 855"/></g>
<g transform="translate(1845 765) scale(0.1455)" fill="#000"><circle cx="395" cy="493" r="48"/><circle cx="632" cy="493" r="48"/><circle cx="513" cy="985" r="90"/></g>
<g transform="translate(1825 955) scale(0.15785)" fill="none" stroke="#000" stroke-width="24" stroke-linecap="round" stroke-linejoin="round"><path d="M285 170 C310 100 390 80 435 150 C480 80 560 70 595 150 C630 80 690 80 715 145 C760 120 820 80 850 150 C920 160 950 260 900 310 L865 340 C870 380 860 400 845 400 C810 430 790 470 770 455 C740 460 725 430 715 405 C690 440 650 470 645 460 C610 460 590 420 585 405 C560 440 530 470 515 460 C480 460 455 420 445 405 C410 430 370 470 360 455 C330 455 320 420 310 410 C270 380 240 330 230 250 C225 200 250 170 285 170Z"/><path d="M290 410 C275 500 270 650 300 800 C330 920 430 1035 590 1035 C750 1035 850 880 875 720 C890 600 885 480 865 400"/><path d="M235 320 C180 330 140 350 120 380 L70 440 C100 500 130 560 190 555 C220 550 250 530 275 515"/><path d="M900 320 C960 330 1010 360 1040 390 L1075 440 C1050 500 1020 560 960 555 C930 550 910 535 890 515"/></g>
<g transform="translate(1825 955) scale(0.15785)" fill="#000"><circle cx="433" cy="553" r="50"/><circle cx="725" cy="553" r="50"/><ellipse cx="535" cy="885" rx="17" ry="47"/><ellipse cx="618" cy="885" rx="17" ry="47"/></g>
</svg></div></body></html>
